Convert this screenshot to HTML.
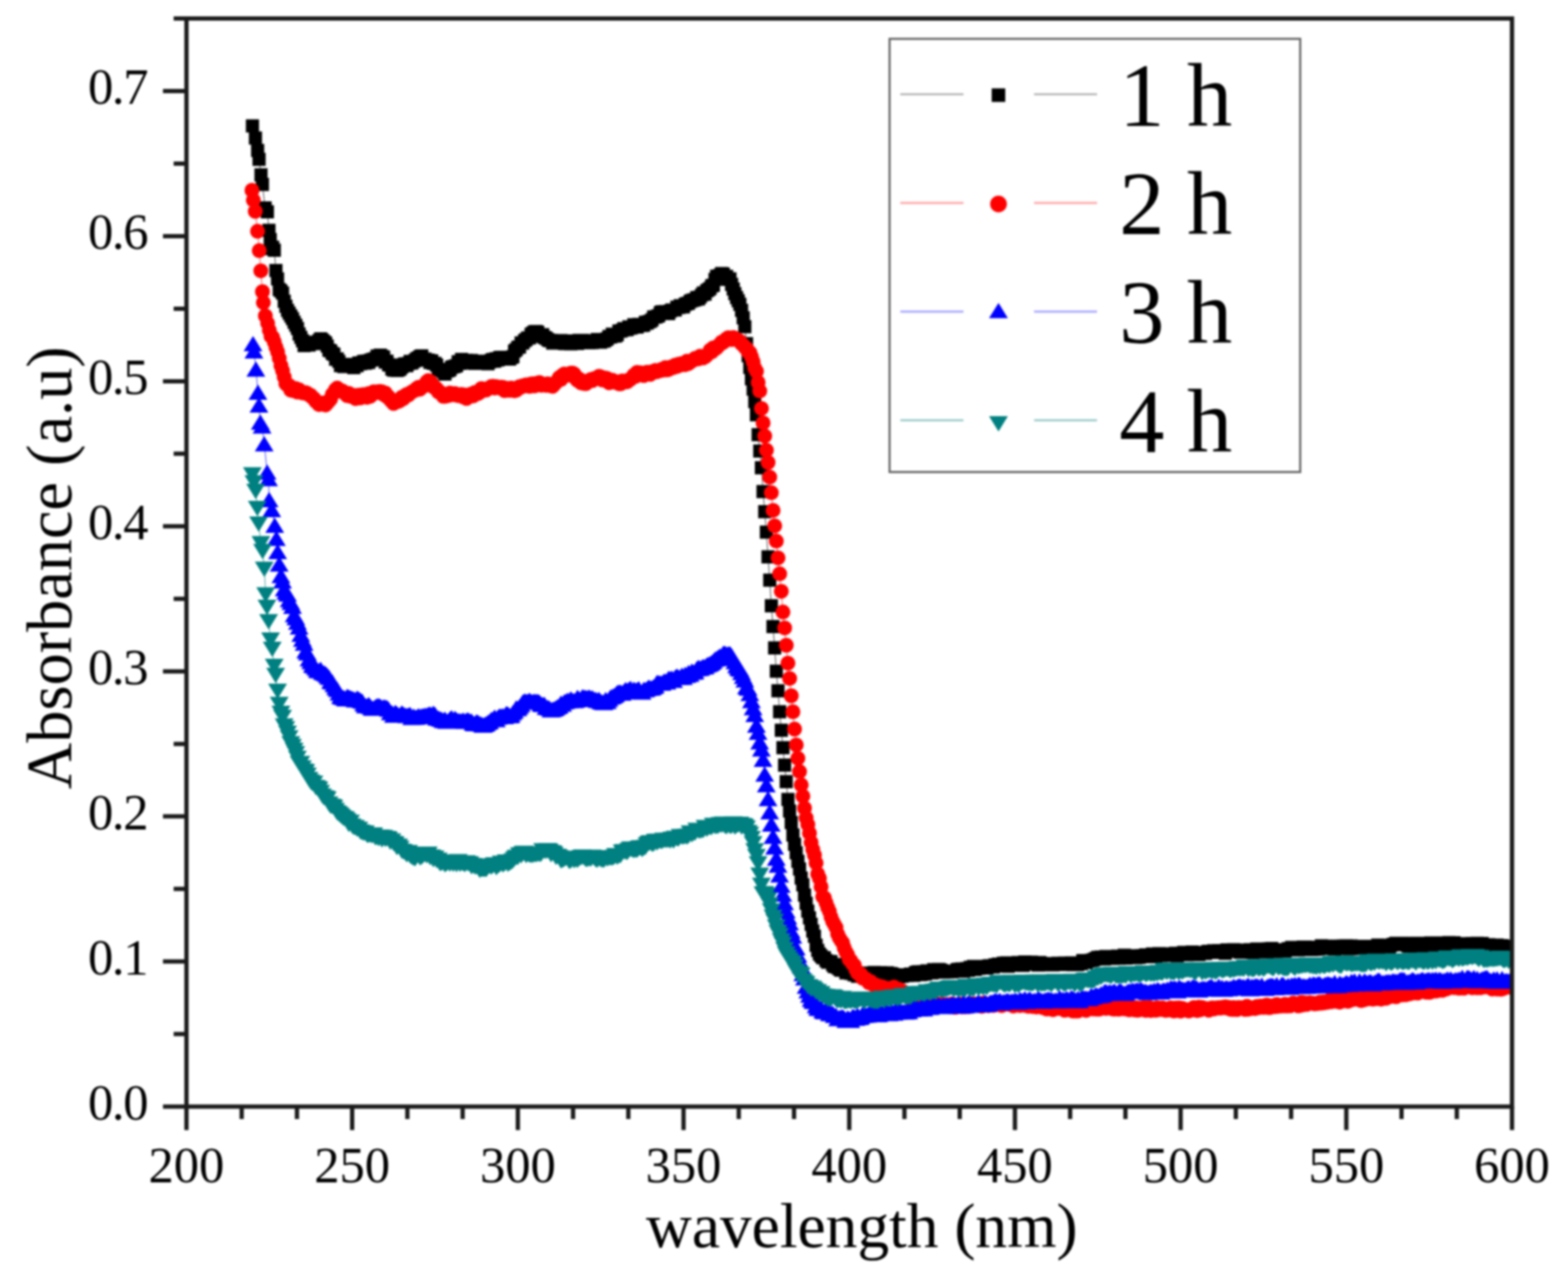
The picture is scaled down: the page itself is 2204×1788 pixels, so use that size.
<!DOCTYPE html>
<html><head><meta charset="utf-8"><style>html,body{margin:0;padding:0;background:#fff;overflow:hidden}svg{display:block;filter:blur(1.35px)}</style></head><body>
<svg width="2204" height="1788" viewBox="0 0 2204 1788">
<rect width="2204" height="1788" fill="#fff"/>
<defs><clipPath id="c"><rect x="262.1" y="26" width="1863.2000000000003" height="1529.5"/></clipPath></defs>
<g clip-path="url(#c)">
<path fill="none" stroke="#000" stroke-width="0.8" d="M354.8 177.1 359 194.1 362.2 211.6 364.1 224 366.8 245.7 368.9 259.2 372.6 292.4 375.8 297.9 378 323.8 379.8 336.6 381.5 349.5 383.2 347.5 385.5 351.7 387.9 380.3 390.2 392.1 392.5 406.9 394.9 409 397.2 412 399.5 423.4 401.8 430.6 404.2 436.3 406.5 440.3 408.8 444.2 411.2 448 413.5 453 415.8 457.3 418.1 461.7 420.5 469.5 422.8 474.1 425.1 478.9 427.5 485.8 429.8 482.3 432.1 482.3 434.4 485 436.8 482.5 439.1 482.2 441.4 482.9 443.8 481.1 446.1 481.7 448.4 478.6 450.7 476.4 453.1 478 455.4 480.1 457.7 482.3 460.1 486.5 462.4 492.3 464.7 493.2 467.1 496.9 469.4 498 471.7 505 474 504.5 476.4 507.9 478.7 513.9 481 513.2 483.4 515.1 485.7 514.4 488 515.1 490.3 512.1 492.7 514.6 495 514.7 497.3 516.8 499.7 513.7 502 514 504.3 510.4 506.6 511.1 509 509.9 511.3 508.1 513.6 510.5 516 507.4 518.3 509.5 520.6 506.6 522.9 505.7 525.3 504.9 527.6 504.1 529.9 500.6 532.3 501.1 534.6 499.1 536.9 501 539.3 502 541.6 509 543.9 507.8 546.2 512.6 548.6 513.4 550.9 518.8 553.2 520.3 555.6 518.2 557.9 520.6 560.2 520 562.5 518.6 564.9 515.7 567.2 512.4 569.5 511.5 571.9 514 574.2 511 576.5 508 578.8 510.3 581.2 507.9 583.5 506.4 585.8 504.3 588.2 503.3 590.5 501.3 592.8 500.2 595.1 505.6 597.5 504.7 599.8 506.3 602.1 506.3 604.5 509.6 606.8 507.2 609.1 510.7 611.5 510.8 613.8 513.1 616.1 519.2 618.4 519.4 620.8 520.1 623.1 522.4 625.4 525.8 627.8 521.4 630.1 521 632.4 519.7 634.7 516.4 637.1 515.5 639.4 515.1 641.7 514.1 644.1 508.6 646.4 510.8 648.7 505.2 651 509.2 653.4 509.7 655.7 506.5 658 508.2 660.4 510.4 662.7 506.6 665 509.9 667.3 510.9 669.7 509.5 672 510.5 674.3 508 676.7 507.9 679 508.7 681.3 507.8 683.6 508.6 686 511.3 688.3 508.5 690.6 506.4 693 505.1 695.3 507.6 697.6 504.2 700 505.9 702.3 502.7 704.6 502.2 706.9 504.2 709.3 503.6 711.6 502.9 713.9 502.3 716.3 504.7 718.6 502.6 720.9 501.5 723.2 493.5 725.6 491.6 727.9 488.3 730.2 487.9 732.6 481.9 734.9 482.2 737.2 479.1 739.5 477.4 741.9 475.1 744.2 475 746.5 469.9 748.9 468.4 751.2 466.6 753.5 466 755.8 467 758.2 471.8 760.5 472.8 762.8 470.5 765.2 474.4 767.5 475.1 769.8 477.1 772.2 478.8 774.5 478.4 776.8 482.1 779.1 479.9 781.5 480.9 783.8 481.2 786.1 479.2 788.5 478.8 790.8 480.8 793.1 482.8 795.4 483 797.8 482.4 800.1 479.2 802.4 483.1 804.8 482.5 807.1 482.7 809.4 480.8 811.7 482.7 814.1 478.4 816.4 478.5 818.7 478.5 821.1 479.8 823.4 479.9 825.7 479.7 828 481.7 830.4 479.2 832.7 481.6 835 479 837.4 481.1 839.7 477.3 842 478.3 844.4 481 846.7 478.6 849 479.5 851.3 477.7 853.7 476.3 856 473 858.3 473.7 860.7 469.9 863 472.5 865.3 472.2 867.6 470.5 870 465.3 872.3 465.5 874.6 464.3 877 462.1 879.3 463.5 881.6 463.2 883.9 459.6 886.3 461.2 888.6 460.3 890.9 456.6 893.3 459.4 895.6 459.7 897.9 455.9 900.2 457.4 902.6 457.4 904.9 456.9 907.2 453 909.6 454.1 911.9 452.2 914.2 451.4 916.5 449.6 918.9 445.4 921.2 445.6 923.5 444.6 925.9 443.8 928.2 439.5 930.5 438.3 932.9 440.9 935.2 438.1 937.5 439.3 939.8 440.6 942.2 437.2 944.5 435.7 946.8 435.7 949.2 435.6 951.5 431.8 953.8 432.1 956.1 429.9 958.5 431.5 960.8 431.3 963.1 427.9 965.5 426.7 967.8 426.3 970.1 423.5 972.4 422.5 974.8 421.8 977.1 421.2 979.4 418.2 981.8 420.1 984.1 417.6 986.4 414.6 988.7 411.8 991.1 413.6 993.4 408.8 995.7 407.2 998.1 405.5 1000.4 401.7 1002.7 400.9 1005.1 392.9 1007.4 388.2 1009.7 388.5 1012 387 1014.4 384.5 1016.7 385.4 1019 388.7 1021.4 388.5 1023.7 392.6 1026 392 1028.3 399.7 1030.7 406.2 1033 412.7 1035.3 418.2 1037.7 422.9 1040 427.6 1042.3 436.1 1044.6 446.8 1047 459.3 1049.3 482.9 1051.6 500 1054 516.6 1056.3 532.6 1058.6 546.9 1060.9 564.5 1063.3 583 1065.6 611 1067.9 634 1070.3 657.5 1072.6 691 1074.9 719.4 1077.2 748 1079.6 782.8 1081.9 815.5 1084.2 851.5 1086.6 880.8 1088.9 910.7 1091.2 943.5 1093.6 971 1095.9 1000.5 1098.2 1026.6 1100.5 1051 1102.9 1075.5 1105.2 1098.7 1107.5 1123.7 1109.9 1140 1112.2 1156.3 1114.5 1173.7 1116.8 1186.7 1119.2 1198.7 1121.5 1210.9 1123.8 1221.4 1126.2 1234.3 1128.5 1243.7 1130.8 1258.3 1133.1 1269.6 1135.5 1280.8 1137.8 1290.1 1140.1 1299.1 1142.5 1308.6 1144.8 1315.9 1147.1 1328.8 1149.4 1336 1151.8 1341.1 1154.1 1343.6 1156.4 1346.2 1158.8 1346.3 1161.1 1350.3 1163.4 1352.5 1165.8 1351.5 1168.1 1351.6 1170.4 1356.1 1172.7 1358.7 1175.1 1355.8 1177.4 1360 1179.7 1362 1182.1 1363.6 1184.4 1360.8 1186.7 1361.8 1189 1367.5 1191.4 1364.3 1193.7 1365.7 1196 1368.4 1198.4 1368.3 1200.7 1370.4 1203 1368.1 1205.3 1372.3 1207.7 1369.4 1210 1372.2 1212.3 1368.5 1214.7 1370.3 1217 1367.9 1219.3 1369.1 1221.6 1368.9 1224 1370.7 1226.3 1369.1 1228.6 1366.9 1231 1371.4 1233.3 1370.6 1235.6 1370.5 1238 1367.1 1240.3 1368.2 1242.6 1367.7 1244.9 1367.6 1247.3 1367.4 1249.6 1370.1 1251.9 1368.6 1254.3 1369.2 1256.6 1373 1258.9 1371.4 1261.2 1370.3 1263.6 1373.1 1265.9 1371.4 1268.2 1372.3 1270.6 1370.6 1272.9 1371.3 1275.2 1371.4 1277.5 1370.5 1279.9 1369.3 1282.2 1370.9 1284.5 1370.9 1286.9 1367.1 1289.2 1366.5 1291.5 1366.1 1293.8 1370 1296.2 1369.5 1298.5 1365.6 1300.8 1369 1303.2 1364.8 1305.5 1366 1307.8 1365.6 1310.2 1367.4 1312.5 1362.9 1314.8 1364.2 1317.1 1365.5 1319.5 1362.7 1321.8 1363.5 1324.1 1364.5 1326.5 1366.5 1328.8 1365.9 1331.1 1366.1 1333.4 1365.7 1335.8 1365.4 1338.1 1366.1 1340.4 1365.2 1342.8 1365.4 1345.1 1363.1 1347.4 1362.4 1349.7 1365.3 1352.1 1361.9 1354.4 1365.3 1356.7 1363.2 1359.1 1361.4 1361.4 1364 1363.7 1359.7 1366 1361 1368.4 1358.5 1370.7 1362.7 1373 1360.4 1375.4 1361.3 1377.7 1358.5 1380 1360.8 1382.3 1360 1384.7 1359.5 1387 1360.8 1389.3 1357.9 1391.7 1357.6 1394 1358.7 1396.3 1359.1 1398.7 1356.4 1401 1357.8 1403.3 1355.2 1405.6 1356.7 1408 1357.7 1410.3 1354 1412.6 1357.2 1415 1353.6 1417.3 1358.2 1419.6 1355.6 1421.9 1355.2 1424.3 1356.6 1426.6 1355.5 1428.9 1356.4 1431.3 1353.1 1433.6 1355.3 1435.9 1355.2 1438.2 1357 1440.6 1352.4 1442.9 1354.4 1445.2 1355.3 1447.6 1354.9 1449.9 1352.5 1452.2 1355.1 1454.5 1353.2 1456.9 1353.1 1459.2 1356.5 1461.5 1353.1 1463.9 1354.4 1466.2 1355.9 1468.5 1355.6 1470.9 1354.9 1473.2 1356.1 1475.5 1354.4 1477.8 1355.2 1480.2 1356.2 1482.5 1355.5 1484.8 1355.3 1487.2 1354 1489.5 1354.8 1491.8 1353.9 1494.1 1355.7 1496.5 1353.8 1498.8 1354.2 1501.1 1355.6 1503.5 1354.4 1505.8 1353.5 1508.1 1355.9 1510.4 1353.7 1512.8 1356 1515.1 1355.6 1517.4 1353.8 1519.8 1354.4 1522.1 1350.3 1524.4 1351.4 1526.7 1353.1 1529.1 1351 1531.4 1350.1 1533.7 1350 1536.1 1349.4 1538.4 1348.5 1540.7 1347.3 1543.1 1345.7 1545.4 1345.8 1547.7 1345.4 1550 1345.6 1552.4 1348 1554.7 1344.5 1557 1344.9 1559.4 1344.5 1561.7 1345.5 1564 1347.4 1566.3 1347 1568.7 1344.5 1571 1343.9 1573.3 1347 1575.7 1345 1578 1345.9 1580.3 1342.9 1582.6 1346.8 1585 1344 1587.3 1344.9 1589.6 1343.4 1592 1344.5 1594.3 1346.4 1596.6 1346.2 1598.9 1344.3 1601.3 1345.6 1603.6 1344 1605.9 1343.4 1608.3 1344.1 1610.6 1342.2 1612.9 1342.7 1615.2 1344.5 1617.6 1344.7 1619.9 1340.9 1622.2 1344.2 1624.6 1344.5 1626.9 1342.5 1629.2 1340.4 1631.6 1343.4 1633.9 1341.1 1636.2 1343 1638.5 1341.5 1640.9 1342.7 1643.2 1340.7 1645.5 1341.6 1647.9 1341.8 1650.2 1342.2 1652.5 1339.9 1654.8 1343.6 1657.2 1340.1 1659.5 1340.1 1661.8 1339.7 1664.2 1338.7 1666.5 1340.3 1668.8 1341.9 1671.1 1341.4 1673.5 1338.7 1675.8 1338.3 1678.1 1339.1 1680.5 1341.1 1682.8 1339.6 1685.1 1341.6 1687.4 1340.1 1689.8 1339.8 1692.1 1340.4 1694.4 1340.2 1696.8 1338 1699.1 1337.4 1701.4 1338.1 1703.8 1338.2 1706.1 1336.4 1708.4 1337.9 1710.7 1338.8 1713.1 1336.2 1715.4 1336.1 1717.7 1336.2 1720.1 1336.7 1722.4 1340 1724.7 1335.3 1727 1336 1729.4 1335.9 1731.7 1337.3 1734 1335 1736.4 1337.1 1738.7 1335.6 1741 1336 1743.3 1338.6 1745.7 1335.4 1748 1337.5 1750.3 1336.4 1752.7 1336.4 1755 1338.3 1757.3 1334.9 1759.6 1338.6 1762 1338.4 1764.3 1337.2 1766.6 1334 1769 1337 1771.3 1336.6 1773.6 1337.4 1776 1334.5 1778.3 1338.1 1780.6 1337.7 1782.9 1333.7 1785.3 1334.6 1787.6 1333.1 1789.9 1337 1792.3 1337.3 1794.6 1337.5 1796.9 1335.5 1799.2 1335.7 1801.6 1335.6 1803.9 1335 1806.2 1336.8 1808.6 1334.9 1810.9 1333.5 1813.2 1334.2 1815.5 1331.6 1817.9 1335.1 1820.2 1334.8 1822.5 1333.3 1824.9 1335.3 1827.2 1334.7 1829.5 1332.5 1831.8 1331.1 1834.2 1331.3 1836.5 1331.4 1838.8 1331.9 1841.2 1332.5 1843.5 1334.8 1845.8 1331.4 1848.1 1334.4 1850.5 1333.2 1852.8 1334 1855.1 1331.6 1857.5 1329.5 1859.8 1333.3 1862.1 1330.5 1864.5 1330 1866.8 1333.3 1869.1 1332.7 1871.4 1330.4 1873.8 1330.6 1876.1 1334 1878.4 1330.6 1880.8 1332.8 1883.1 1329.9 1885.4 1333.4 1887.7 1329.9 1890.1 1331.9 1892.4 1329.5 1894.7 1332.1 1897.1 1333.5 1899.4 1329.7 1901.7 1330.7 1904 1333 1906.4 1332.2 1908.7 1330.7 1911 1332.2 1913.4 1331.3 1915.7 1333.2 1918 1330.3 1920.3 1332.6 1922.7 1331.9 1925 1332.4 1927.3 1330.5 1929.7 1332.2 1932 1332 1934.3 1330.4 1936.7 1328.5 1939 1333.2 1941.3 1331.8 1943.6 1329 1946 1331.3 1948.3 1328.8 1950.6 1329.4 1953 1331.1 1955.3 1328.7 1957.6 1327.6 1959.9 1327.4 1962.3 1326.1 1964.6 1326.8 1966.9 1327.1 1969.3 1326.6 1971.6 1326 1973.9 1328 1976.2 1326.8 1978.6 1329.4 1980.9 1330.3 1983.2 1327.1 1985.6 1328.6 1987.9 1328.2 1990.2 1326.1 1992.5 1326.3 1994.9 1330.1 1997.2 1328.1 1999.5 1329.7 2001.9 1326 2004.2 1328.6 2006.5 1329.9 2008.9 1329.9 2011.2 1325.5 2013.5 1328 2015.8 1327.2 2018.2 1329.1 2020.5 1325.6 2022.8 1326.5 2025.2 1329.2 2027.5 1327.4 2029.8 1327.3 2032.1 1329.8 2034.5 1326.5 2036.8 1325 2039.1 1326.7 2041.5 1325.5 2043.8 1325.1 2046.1 1327.6 2048.4 1329.6 2050.8 1327.7 2053.1 1328.1 2055.4 1326.5 2057.8 1327.8 2060.1 1328.7 2062.4 1328 2064.7 1329.1 2067.1 1327.8 2069.4 1326.1 2071.7 1328.1 2074.1 1327.6 2076.4 1326 2078.7 1328.3 2081 1329.4 2083.4 1326.2 2085.7 1328.5 2088 1329.7 2090.4 1328.3 2092.7 1328 2095 1328.8 2097.4 1329.9 2099.7 1330.9 2102 1330.5 2104.3 1328.5 2106.7 1332.4 2109 1333.2 2111.3 1329.4 2113.7 1330.4 2116 1330.3 2118.3 1333.9 2120.6 1334.5 2123 1330.5 2125.3 1332.2"/>
<path fill="#000" d="M345.6 167.8h18.5v18.5h-18.5zM349.8 184.8h18.5v18.5h-18.5zM352.9 202.3h18.5v18.5h-18.5zM354.9 214.8h18.5v18.5h-18.5zM357.6 236.4h18.5v18.5h-18.5zM359.6 249.9h18.5v18.5h-18.5zM363.4 283.1h18.5v18.5h-18.5zM366.6 288.6h18.5v18.5h-18.5zM368.8 314.6h18.5v18.5h-18.5zM370.6 327.4h18.5v18.5h-18.5zM372.2 340.2h18.5v18.5h-18.5zM374 338.3h18.5v18.5h-18.5zM376.3 342.4h18.5v18.5h-18.5zM378.6 371.1h18.5v18.5h-18.5zM380.9 382.8h18.5v18.5h-18.5zM383.3 397.7h18.5v18.5h-18.5zM385.6 399.8h18.5v18.5h-18.5zM387.9 402.8h18.5v18.5h-18.5zM390.3 414.2h18.5v18.5h-18.5zM392.6 421.3h18.5v18.5h-18.5zM394.9 427h18.5v18.5h-18.5zM397.2 431.1h18.5v18.5h-18.5zM399.6 434.9h18.5v18.5h-18.5zM401.9 438.8h18.5v18.5h-18.5zM404.2 443.7h18.5v18.5h-18.5zM406.6 448h18.5v18.5h-18.5zM408.9 452.4h18.5v18.5h-18.5zM411.2 460.3h18.5v18.5h-18.5zM413.6 464.9h18.5v18.5h-18.5zM415.9 469.7h18.5v18.5h-18.5zM418.2 476.5h18.5v18.5h-18.5zM420.5 473h18.5v18.5h-18.5zM422.9 473.1h18.5v18.5h-18.5zM425.2 475.7h18.5v18.5h-18.5zM427.5 473.2h18.5v18.5h-18.5zM429.9 472.9h18.5v18.5h-18.5zM432.2 473.7h18.5v18.5h-18.5zM434.5 471.8h18.5v18.5h-18.5zM436.8 472.4h18.5v18.5h-18.5zM439.2 469.4h18.5v18.5h-18.5zM441.5 467.1h18.5v18.5h-18.5zM443.8 468.8h18.5v18.5h-18.5zM446.2 470.9h18.5v18.5h-18.5zM448.5 473h18.5v18.5h-18.5zM450.8 477.2h18.5v18.5h-18.5zM453.1 483.1h18.5v18.5h-18.5zM455.5 483.9h18.5v18.5h-18.5zM457.8 487.6h18.5v18.5h-18.5zM460.1 488.7h18.5v18.5h-18.5zM462.5 495.7h18.5v18.5h-18.5zM464.8 495.2h18.5v18.5h-18.5zM467.1 498.7h18.5v18.5h-18.5zM469.4 504.7h18.5v18.5h-18.5zM471.8 504h18.5v18.5h-18.5zM474.1 505.9h18.5v18.5h-18.5zM476.4 505.1h18.5v18.5h-18.5zM478.8 505.9h18.5v18.5h-18.5zM481.1 502.9h18.5v18.5h-18.5zM483.4 505.4h18.5v18.5h-18.5zM485.8 505.4h18.5v18.5h-18.5zM488.1 507.5h18.5v18.5h-18.5zM490.4 504.5h18.5v18.5h-18.5zM492.7 504.8h18.5v18.5h-18.5zM495.1 501.1h18.5v18.5h-18.5zM497.4 501.9h18.5v18.5h-18.5zM499.7 500.6h18.5v18.5h-18.5zM502.1 498.8h18.5v18.5h-18.5zM504.4 501.3h18.5v18.5h-18.5zM506.7 498.2h18.5v18.5h-18.5zM509 500.2h18.5v18.5h-18.5zM511.4 497.3h18.5v18.5h-18.5zM513.7 496.4h18.5v18.5h-18.5zM516 495.7h18.5v18.5h-18.5zM518.4 494.9h18.5v18.5h-18.5zM520.7 491.3h18.5v18.5h-18.5zM523 491.8h18.5v18.5h-18.5zM525.3 489.9h18.5v18.5h-18.5zM527.7 491.7h18.5v18.5h-18.5zM530 492.8h18.5v18.5h-18.5zM532.3 499.7h18.5v18.5h-18.5zM534.7 498.5h18.5v18.5h-18.5zM537 503.4h18.5v18.5h-18.5zM539.3 504.1h18.5v18.5h-18.5zM541.6 509.6h18.5v18.5h-18.5zM544 511.1h18.5v18.5h-18.5zM546.3 509h18.5v18.5h-18.5zM548.6 511.4h18.5v18.5h-18.5zM551 510.7h18.5v18.5h-18.5zM553.3 509.3h18.5v18.5h-18.5zM555.6 506.5h18.5v18.5h-18.5zM557.9 503.2h18.5v18.5h-18.5zM560.3 502.3h18.5v18.5h-18.5zM562.6 504.8h18.5v18.5h-18.5zM564.9 501.7h18.5v18.5h-18.5zM567.3 498.7h18.5v18.5h-18.5zM569.6 501.1h18.5v18.5h-18.5zM571.9 498.7h18.5v18.5h-18.5zM574.3 497.2h18.5v18.5h-18.5zM576.6 495.1h18.5v18.5h-18.5zM578.9 494.1h18.5v18.5h-18.5zM581.2 492h18.5v18.5h-18.5zM583.6 491h18.5v18.5h-18.5zM585.9 496.3h18.5v18.5h-18.5zM588.2 495.5h18.5v18.5h-18.5zM590.6 497h18.5v18.5h-18.5zM592.9 497h18.5v18.5h-18.5zM595.2 500.3h18.5v18.5h-18.5zM597.5 497.9h18.5v18.5h-18.5zM599.9 501.5h18.5v18.5h-18.5zM602.2 501.6h18.5v18.5h-18.5zM604.5 503.9h18.5v18.5h-18.5zM606.9 509.9h18.5v18.5h-18.5zM609.2 510.2h18.5v18.5h-18.5zM611.5 510.9h18.5v18.5h-18.5zM613.8 513.1h18.5v18.5h-18.5zM616.2 516.5h18.5v18.5h-18.5zM618.5 512.2h18.5v18.5h-18.5zM620.8 511.7h18.5v18.5h-18.5zM623.2 510.5h18.5v18.5h-18.5zM625.5 507.1h18.5v18.5h-18.5zM627.8 506.3h18.5v18.5h-18.5zM630.1 505.8h18.5v18.5h-18.5zM632.5 504.8h18.5v18.5h-18.5zM634.8 499.3h18.5v18.5h-18.5zM637.1 501.5h18.5v18.5h-18.5zM639.5 496h18.5v18.5h-18.5zM641.8 499.9h18.5v18.5h-18.5zM644.1 500.4h18.5v18.5h-18.5zM646.5 497.3h18.5v18.5h-18.5zM648.8 498.9h18.5v18.5h-18.5zM651.1 501.1h18.5v18.5h-18.5zM653.4 497.4h18.5v18.5h-18.5zM655.8 500.7h18.5v18.5h-18.5zM658.1 501.6h18.5v18.5h-18.5zM660.4 500.2h18.5v18.5h-18.5zM662.8 501.3h18.5v18.5h-18.5zM665.1 498.8h18.5v18.5h-18.5zM667.4 498.6h18.5v18.5h-18.5zM669.7 499.5h18.5v18.5h-18.5zM672.1 498.5h18.5v18.5h-18.5zM674.4 499.4h18.5v18.5h-18.5zM676.7 502h18.5v18.5h-18.5zM679.1 499.2h18.5v18.5h-18.5zM681.4 497.2h18.5v18.5h-18.5zM683.7 495.9h18.5v18.5h-18.5zM686 498.4h18.5v18.5h-18.5zM688.4 494.9h18.5v18.5h-18.5zM690.7 496.7h18.5v18.5h-18.5zM693 493.4h18.5v18.5h-18.5zM695.4 492.9h18.5v18.5h-18.5zM697.7 494.9h18.5v18.5h-18.5zM700 494.3h18.5v18.5h-18.5zM702.3 493.7h18.5v18.5h-18.5zM704.7 493.1h18.5v18.5h-18.5zM707 495.5h18.5v18.5h-18.5zM709.3 493.3h18.5v18.5h-18.5zM711.7 492.3h18.5v18.5h-18.5zM714 484.3h18.5v18.5h-18.5zM716.3 482.3h18.5v18.5h-18.5zM718.7 479h18.5v18.5h-18.5zM721 478.6h18.5v18.5h-18.5zM723.3 472.7h18.5v18.5h-18.5zM725.6 473h18.5v18.5h-18.5zM728 469.8h18.5v18.5h-18.5zM730.3 468.1h18.5v18.5h-18.5zM732.6 465.8h18.5v18.5h-18.5zM735 465.7h18.5v18.5h-18.5zM737.3 460.7h18.5v18.5h-18.5zM739.6 459.1h18.5v18.5h-18.5zM741.9 457.3h18.5v18.5h-18.5zM744.3 456.7h18.5v18.5h-18.5zM746.6 457.7h18.5v18.5h-18.5zM748.9 462.5h18.5v18.5h-18.5zM751.3 463.5h18.5v18.5h-18.5zM753.6 461.3h18.5v18.5h-18.5zM755.9 465.1h18.5v18.5h-18.5zM758.2 465.9h18.5v18.5h-18.5zM760.6 467.9h18.5v18.5h-18.5zM762.9 469.6h18.5v18.5h-18.5zM765.2 469.2h18.5v18.5h-18.5zM767.6 472.9h18.5v18.5h-18.5zM769.9 470.6h18.5v18.5h-18.5zM772.2 471.7h18.5v18.5h-18.5zM774.5 471.9h18.5v18.5h-18.5zM776.9 469.9h18.5v18.5h-18.5zM779.2 469.5h18.5v18.5h-18.5zM781.5 471.5h18.5v18.5h-18.5zM783.9 473.5h18.5v18.5h-18.5zM786.2 473.7h18.5v18.5h-18.5zM788.5 473.2h18.5v18.5h-18.5zM790.8 470h18.5v18.5h-18.5zM793.2 473.9h18.5v18.5h-18.5zM795.5 473.2h18.5v18.5h-18.5zM797.8 473.5h18.5v18.5h-18.5zM800.2 471.6h18.5v18.5h-18.5zM802.5 473.4h18.5v18.5h-18.5zM804.8 469.2h18.5v18.5h-18.5zM807.2 469.2h18.5v18.5h-18.5zM809.5 469.3h18.5v18.5h-18.5zM811.8 470.5h18.5v18.5h-18.5zM814.1 470.6h18.5v18.5h-18.5zM816.5 470.4h18.5v18.5h-18.5zM818.8 472.5h18.5v18.5h-18.5zM821.1 469.9h18.5v18.5h-18.5zM823.5 472.3h18.5v18.5h-18.5zM825.8 469.7h18.5v18.5h-18.5zM828.1 471.8h18.5v18.5h-18.5zM830.4 468.1h18.5v18.5h-18.5zM832.8 469.1h18.5v18.5h-18.5zM835.1 471.8h18.5v18.5h-18.5zM837.4 469.3h18.5v18.5h-18.5zM839.8 470.2h18.5v18.5h-18.5zM842.1 468.4h18.5v18.5h-18.5zM844.4 467h18.5v18.5h-18.5zM846.7 463.7h18.5v18.5h-18.5zM849.1 464.5h18.5v18.5h-18.5zM851.4 460.6h18.5v18.5h-18.5zM853.7 463.3h18.5v18.5h-18.5zM856.1 462.9h18.5v18.5h-18.5zM858.4 461.2h18.5v18.5h-18.5zM860.7 456h18.5v18.5h-18.5zM863 456.3h18.5v18.5h-18.5zM865.4 455h18.5v18.5h-18.5zM867.7 452.8h18.5v18.5h-18.5zM870 454.2h18.5v18.5h-18.5zM872.4 453.9h18.5v18.5h-18.5zM874.7 450.3h18.5v18.5h-18.5zM877 451.9h18.5v18.5h-18.5zM879.4 451h18.5v18.5h-18.5zM881.7 447.3h18.5v18.5h-18.5zM884 450.2h18.5v18.5h-18.5zM886.3 450.4h18.5v18.5h-18.5zM888.7 446.7h18.5v18.5h-18.5zM891 448.2h18.5v18.5h-18.5zM893.3 448.2h18.5v18.5h-18.5zM895.7 447.7h18.5v18.5h-18.5zM898 443.8h18.5v18.5h-18.5zM900.3 444.9h18.5v18.5h-18.5zM902.6 443h18.5v18.5h-18.5zM905 442.2h18.5v18.5h-18.5zM907.3 440.3h18.5v18.5h-18.5zM909.6 436.2h18.5v18.5h-18.5zM912 436.4h18.5v18.5h-18.5zM914.3 435.4h18.5v18.5h-18.5zM916.6 434.5h18.5v18.5h-18.5zM918.9 430.3h18.5v18.5h-18.5zM921.3 429.1h18.5v18.5h-18.5zM923.6 431.6h18.5v18.5h-18.5zM925.9 428.8h18.5v18.5h-18.5zM928.3 430h18.5v18.5h-18.5zM930.6 431.4h18.5v18.5h-18.5zM932.9 428h18.5v18.5h-18.5zM935.2 426.4h18.5v18.5h-18.5zM937.6 426.4h18.5v18.5h-18.5zM939.9 426.4h18.5v18.5h-18.5zM942.2 422.5h18.5v18.5h-18.5zM944.6 422.9h18.5v18.5h-18.5zM946.9 420.6h18.5v18.5h-18.5zM949.2 422.2h18.5v18.5h-18.5zM951.6 422h18.5v18.5h-18.5zM953.9 418.6h18.5v18.5h-18.5zM956.2 417.4h18.5v18.5h-18.5zM958.5 417.1h18.5v18.5h-18.5zM960.9 414.3h18.5v18.5h-18.5zM963.2 413.3h18.5v18.5h-18.5zM965.5 412.5h18.5v18.5h-18.5zM967.9 412h18.5v18.5h-18.5zM970.2 408.9h18.5v18.5h-18.5zM972.5 410.9h18.5v18.5h-18.5zM974.8 408.3h18.5v18.5h-18.5zM977.2 405.3h18.5v18.5h-18.5zM979.5 402.6h18.5v18.5h-18.5zM981.8 404.3h18.5v18.5h-18.5zM984.2 399.5h18.5v18.5h-18.5zM986.5 397.9h18.5v18.5h-18.5zM988.8 396.3h18.5v18.5h-18.5zM991.1 392.4h18.5v18.5h-18.5zM993.5 391.7h18.5v18.5h-18.5zM995.8 383.6h18.5v18.5h-18.5zM998.1 378.9h18.5v18.5h-18.5zM1000.5 379.2h18.5v18.5h-18.5zM1002.8 377.8h18.5v18.5h-18.5zM1005.1 375.2h18.5v18.5h-18.5zM1007.4 376.1h18.5v18.5h-18.5zM1009.8 379.4h18.5v18.5h-18.5zM1012.1 379.3h18.5v18.5h-18.5zM1014.4 383.4h18.5v18.5h-18.5zM1016.8 382.7h18.5v18.5h-18.5zM1019.1 390.5h18.5v18.5h-18.5zM1021.4 397h18.5v18.5h-18.5zM1023.7 403.4h18.5v18.5h-18.5zM1026.1 408.9h18.5v18.5h-18.5zM1028.4 413.6h18.5v18.5h-18.5zM1030.7 418.4h18.5v18.5h-18.5zM1033.1 426.9h18.5v18.5h-18.5zM1035.4 437.6h18.5v18.5h-18.5zM1037.7 450.1h18.5v18.5h-18.5zM1040.1 473.7h18.5v18.5h-18.5zM1042.4 490.7h18.5v18.5h-18.5zM1044.7 507.3h18.5v18.5h-18.5zM1047 523.3h18.5v18.5h-18.5zM1049.4 537.7h18.5v18.5h-18.5zM1051.7 555.2h18.5v18.5h-18.5zM1054 573.8h18.5v18.5h-18.5zM1056.4 601.8h18.5v18.5h-18.5zM1058.7 624.8h18.5v18.5h-18.5zM1061 648.2h18.5v18.5h-18.5zM1063.3 681.8h18.5v18.5h-18.5zM1065.7 710.1h18.5v18.5h-18.5zM1068 738.8h18.5v18.5h-18.5zM1070.3 773.5h18.5v18.5h-18.5zM1072.7 806.2h18.5v18.5h-18.5zM1075 842.2h18.5v18.5h-18.5zM1077.3 871.5h18.5v18.5h-18.5zM1079.6 901.5h18.5v18.5h-18.5zM1082 934.2h18.5v18.5h-18.5zM1084.3 961.8h18.5v18.5h-18.5zM1086.6 991.2h18.5v18.5h-18.5zM1089 1017.3h18.5v18.5h-18.5zM1091.3 1041.8h18.5v18.5h-18.5zM1093.6 1066.2h18.5v18.5h-18.5zM1095.9 1089.5h18.5v18.5h-18.5zM1098.3 1114.5h18.5v18.5h-18.5zM1100.6 1130.7h18.5v18.5h-18.5zM1102.9 1147.1h18.5v18.5h-18.5zM1105.3 1164.4h18.5v18.5h-18.5zM1107.6 1177.5h18.5v18.5h-18.5zM1109.9 1189.5h18.5v18.5h-18.5zM1112.3 1201.6h18.5v18.5h-18.5zM1114.6 1212.2h18.5v18.5h-18.5zM1116.9 1225.1h18.5v18.5h-18.5zM1119.2 1234.5h18.5v18.5h-18.5zM1121.6 1249h18.5v18.5h-18.5zM1123.9 1260.4h18.5v18.5h-18.5zM1126.2 1271.5h18.5v18.5h-18.5zM1128.6 1280.9h18.5v18.5h-18.5zM1130.9 1289.9h18.5v18.5h-18.5zM1133.2 1299.4h18.5v18.5h-18.5zM1135.5 1306.7h18.5v18.5h-18.5zM1137.9 1319.5h18.5v18.5h-18.5zM1140.2 1326.8h18.5v18.5h-18.5zM1142.5 1331.8h18.5v18.5h-18.5zM1144.9 1334.4h18.5v18.5h-18.5zM1147.2 1337h18.5v18.5h-18.5zM1149.5 1337h18.5v18.5h-18.5zM1151.8 1341h18.5v18.5h-18.5zM1154.2 1343.2h18.5v18.5h-18.5zM1156.5 1342.2h18.5v18.5h-18.5zM1158.8 1342.4h18.5v18.5h-18.5zM1161.2 1346.9h18.5v18.5h-18.5zM1163.5 1349.4h18.5v18.5h-18.5zM1165.8 1346.6h18.5v18.5h-18.5zM1168.1 1350.8h18.5v18.5h-18.5zM1170.5 1352.7h18.5v18.5h-18.5zM1172.8 1354.4h18.5v18.5h-18.5zM1175.1 1351.6h18.5v18.5h-18.5zM1177.5 1352.6h18.5v18.5h-18.5zM1179.8 1358.2h18.5v18.5h-18.5zM1182.1 1355h18.5v18.5h-18.5zM1184.5 1356.5h18.5v18.5h-18.5zM1186.8 1359.1h18.5v18.5h-18.5zM1189.1 1359h18.5v18.5h-18.5zM1191.4 1361.1h18.5v18.5h-18.5zM1193.8 1358.9h18.5v18.5h-18.5zM1196.1 1363.1h18.5v18.5h-18.5zM1198.4 1360.2h18.5v18.5h-18.5zM1200.8 1363h18.5v18.5h-18.5zM1203.1 1359.2h18.5v18.5h-18.5zM1205.4 1361.1h18.5v18.5h-18.5zM1207.7 1358.6h18.5v18.5h-18.5zM1210.1 1359.8h18.5v18.5h-18.5zM1212.4 1359.6h18.5v18.5h-18.5zM1214.7 1361.4h18.5v18.5h-18.5zM1217.1 1359.9h18.5v18.5h-18.5zM1219.4 1357.7h18.5v18.5h-18.5zM1221.7 1362.1h18.5v18.5h-18.5zM1224 1361.4h18.5v18.5h-18.5zM1226.4 1361.3h18.5v18.5h-18.5zM1228.7 1357.9h18.5v18.5h-18.5zM1231 1359h18.5v18.5h-18.5zM1233.4 1358.5h18.5v18.5h-18.5zM1235.7 1358.3h18.5v18.5h-18.5zM1238 1358.2h18.5v18.5h-18.5zM1240.3 1360.9h18.5v18.5h-18.5zM1242.7 1359.3h18.5v18.5h-18.5zM1245 1359.9h18.5v18.5h-18.5zM1247.3 1363.7h18.5v18.5h-18.5zM1249.7 1362.2h18.5v18.5h-18.5zM1252 1361h18.5v18.5h-18.5zM1254.3 1363.8h18.5v18.5h-18.5zM1256.6 1362.2h18.5v18.5h-18.5zM1259 1363h18.5v18.5h-18.5zM1261.3 1361.3h18.5v18.5h-18.5zM1263.6 1362h18.5v18.5h-18.5zM1266 1362.1h18.5v18.5h-18.5zM1268.3 1361.2h18.5v18.5h-18.5zM1270.6 1360h18.5v18.5h-18.5zM1273 1361.6h18.5v18.5h-18.5zM1275.3 1361.7h18.5v18.5h-18.5zM1277.6 1357.9h18.5v18.5h-18.5zM1279.9 1357.3h18.5v18.5h-18.5zM1282.3 1356.8h18.5v18.5h-18.5zM1284.6 1360.8h18.5v18.5h-18.5zM1286.9 1360.3h18.5v18.5h-18.5zM1289.3 1356.4h18.5v18.5h-18.5zM1291.6 1359.7h18.5v18.5h-18.5zM1293.9 1355.6h18.5v18.5h-18.5zM1296.2 1356.7h18.5v18.5h-18.5zM1298.6 1356.4h18.5v18.5h-18.5zM1300.9 1358.2h18.5v18.5h-18.5zM1303.2 1353.7h18.5v18.5h-18.5zM1305.6 1355h18.5v18.5h-18.5zM1307.9 1356.3h18.5v18.5h-18.5zM1310.2 1353.5h18.5v18.5h-18.5zM1312.5 1354.2h18.5v18.5h-18.5zM1314.9 1355.3h18.5v18.5h-18.5zM1317.2 1357.3h18.5v18.5h-18.5zM1319.5 1356.6h18.5v18.5h-18.5zM1321.9 1356.9h18.5v18.5h-18.5zM1324.2 1356.5h18.5v18.5h-18.5zM1326.5 1356.2h18.5v18.5h-18.5zM1328.8 1356.8h18.5v18.5h-18.5zM1331.2 1355.9h18.5v18.5h-18.5zM1333.5 1356.1h18.5v18.5h-18.5zM1335.8 1353.9h18.5v18.5h-18.5zM1338.2 1353.2h18.5v18.5h-18.5zM1340.5 1356h18.5v18.5h-18.5zM1342.8 1352.7h18.5v18.5h-18.5zM1345.2 1356h18.5v18.5h-18.5zM1347.5 1354h18.5v18.5h-18.5zM1349.8 1352.2h18.5v18.5h-18.5zM1352.1 1354.8h18.5v18.5h-18.5zM1354.5 1350.4h18.5v18.5h-18.5zM1356.8 1351.8h18.5v18.5h-18.5zM1359.1 1349.3h18.5v18.5h-18.5zM1361.5 1353.4h18.5v18.5h-18.5zM1363.8 1351.2h18.5v18.5h-18.5zM1366.1 1352.1h18.5v18.5h-18.5zM1368.4 1349.2h18.5v18.5h-18.5zM1370.8 1351.5h18.5v18.5h-18.5zM1373.1 1350.8h18.5v18.5h-18.5zM1375.4 1350.2h18.5v18.5h-18.5zM1377.8 1351.5h18.5v18.5h-18.5zM1380.1 1348.7h18.5v18.5h-18.5zM1382.4 1348.3h18.5v18.5h-18.5zM1384.7 1349.4h18.5v18.5h-18.5zM1387.1 1349.9h18.5v18.5h-18.5zM1389.4 1347.1h18.5v18.5h-18.5zM1391.7 1348.5h18.5v18.5h-18.5zM1394.1 1346h18.5v18.5h-18.5zM1396.4 1347.5h18.5v18.5h-18.5zM1398.7 1348.4h18.5v18.5h-18.5zM1401 1344.8h18.5v18.5h-18.5zM1403.4 1348h18.5v18.5h-18.5zM1405.7 1344.3h18.5v18.5h-18.5zM1408 1348.9h18.5v18.5h-18.5zM1410.4 1346.3h18.5v18.5h-18.5zM1412.7 1345.9h18.5v18.5h-18.5zM1415 1347.4h18.5v18.5h-18.5zM1417.3 1346.3h18.5v18.5h-18.5zM1419.7 1347.2h18.5v18.5h-18.5zM1422 1343.8h18.5v18.5h-18.5zM1424.3 1346.1h18.5v18.5h-18.5zM1426.7 1346h18.5v18.5h-18.5zM1429 1347.7h18.5v18.5h-18.5zM1431.3 1343.1h18.5v18.5h-18.5zM1433.7 1345.1h18.5v18.5h-18.5zM1436 1346h18.5v18.5h-18.5zM1438.3 1345.6h18.5v18.5h-18.5zM1440.6 1343.2h18.5v18.5h-18.5zM1443 1345.8h18.5v18.5h-18.5zM1445.3 1344h18.5v18.5h-18.5zM1447.6 1343.8h18.5v18.5h-18.5zM1450 1347.2h18.5v18.5h-18.5zM1452.3 1343.8h18.5v18.5h-18.5zM1454.6 1345.1h18.5v18.5h-18.5zM1456.9 1346.6h18.5v18.5h-18.5zM1459.3 1346.4h18.5v18.5h-18.5zM1461.6 1345.6h18.5v18.5h-18.5zM1463.9 1346.9h18.5v18.5h-18.5zM1466.3 1345.2h18.5v18.5h-18.5zM1468.6 1346h18.5v18.5h-18.5zM1470.9 1346.9h18.5v18.5h-18.5zM1473.2 1346.2h18.5v18.5h-18.5zM1475.6 1346h18.5v18.5h-18.5zM1477.9 1344.8h18.5v18.5h-18.5zM1480.2 1345.5h18.5v18.5h-18.5zM1482.6 1344.7h18.5v18.5h-18.5zM1484.9 1346.4h18.5v18.5h-18.5zM1487.2 1344.6h18.5v18.5h-18.5zM1489.5 1345h18.5v18.5h-18.5zM1491.9 1346.4h18.5v18.5h-18.5zM1494.2 1345.1h18.5v18.5h-18.5zM1496.5 1344.3h18.5v18.5h-18.5zM1498.9 1346.7h18.5v18.5h-18.5zM1501.2 1344.4h18.5v18.5h-18.5zM1503.5 1346.7h18.5v18.5h-18.5zM1505.9 1346.4h18.5v18.5h-18.5zM1508.2 1344.5h18.5v18.5h-18.5zM1510.5 1345.2h18.5v18.5h-18.5zM1512.8 1341.1h18.5v18.5h-18.5zM1515.2 1342.1h18.5v18.5h-18.5zM1517.5 1343.8h18.5v18.5h-18.5zM1519.8 1341.7h18.5v18.5h-18.5zM1522.2 1340.9h18.5v18.5h-18.5zM1524.5 1340.7h18.5v18.5h-18.5zM1526.8 1340.2h18.5v18.5h-18.5zM1529.1 1339.3h18.5v18.5h-18.5zM1531.5 1338h18.5v18.5h-18.5zM1533.8 1336.4h18.5v18.5h-18.5zM1536.1 1336.5h18.5v18.5h-18.5zM1538.5 1336.1h18.5v18.5h-18.5zM1540.8 1336.4h18.5v18.5h-18.5zM1543.1 1338.8h18.5v18.5h-18.5zM1545.4 1335.2h18.5v18.5h-18.5zM1547.8 1335.7h18.5v18.5h-18.5zM1550.1 1335.3h18.5v18.5h-18.5zM1552.4 1336.3h18.5v18.5h-18.5zM1554.8 1338.1h18.5v18.5h-18.5zM1557.1 1337.8h18.5v18.5h-18.5zM1559.4 1335.2h18.5v18.5h-18.5zM1561.7 1334.7h18.5v18.5h-18.5zM1564.1 1337.7h18.5v18.5h-18.5zM1566.4 1335.7h18.5v18.5h-18.5zM1568.7 1336.7h18.5v18.5h-18.5zM1571.1 1333.6h18.5v18.5h-18.5zM1573.4 1337.6h18.5v18.5h-18.5zM1575.7 1334.8h18.5v18.5h-18.5zM1578.1 1335.7h18.5v18.5h-18.5zM1580.4 1334.2h18.5v18.5h-18.5zM1582.7 1335.2h18.5v18.5h-18.5zM1585 1337.1h18.5v18.5h-18.5zM1587.4 1337h18.5v18.5h-18.5zM1589.7 1335.1h18.5v18.5h-18.5zM1592 1336.4h18.5v18.5h-18.5zM1594.4 1334.7h18.5v18.5h-18.5zM1596.7 1334.1h18.5v18.5h-18.5zM1599 1334.9h18.5v18.5h-18.5zM1601.3 1333h18.5v18.5h-18.5zM1603.7 1333.4h18.5v18.5h-18.5zM1606 1335.2h18.5v18.5h-18.5zM1608.3 1335.4h18.5v18.5h-18.5zM1610.7 1331.7h18.5v18.5h-18.5zM1613 1334.9h18.5v18.5h-18.5zM1615.3 1335.2h18.5v18.5h-18.5zM1617.6 1333.2h18.5v18.5h-18.5zM1620 1331.2h18.5v18.5h-18.5zM1622.3 1334.1h18.5v18.5h-18.5zM1624.6 1331.8h18.5v18.5h-18.5zM1627 1333.7h18.5v18.5h-18.5zM1629.3 1332.2h18.5v18.5h-18.5zM1631.6 1333.4h18.5v18.5h-18.5zM1633.9 1331.4h18.5v18.5h-18.5zM1636.3 1332.4h18.5v18.5h-18.5zM1638.6 1332.5h18.5v18.5h-18.5zM1640.9 1332.9h18.5v18.5h-18.5zM1643.3 1330.7h18.5v18.5h-18.5zM1645.6 1334.3h18.5v18.5h-18.5zM1647.9 1330.9h18.5v18.5h-18.5zM1650.2 1330.8h18.5v18.5h-18.5zM1652.6 1330.5h18.5v18.5h-18.5zM1654.9 1329.4h18.5v18.5h-18.5zM1657.2 1331.1h18.5v18.5h-18.5zM1659.6 1332.7h18.5v18.5h-18.5zM1661.9 1332.2h18.5v18.5h-18.5zM1664.2 1329.5h18.5v18.5h-18.5zM1666.6 1329h18.5v18.5h-18.5zM1668.9 1329.8h18.5v18.5h-18.5zM1671.2 1331.9h18.5v18.5h-18.5zM1673.5 1330.3h18.5v18.5h-18.5zM1675.9 1332.4h18.5v18.5h-18.5zM1678.2 1330.9h18.5v18.5h-18.5zM1680.5 1330.6h18.5v18.5h-18.5zM1682.9 1331.1h18.5v18.5h-18.5zM1685.2 1330.9h18.5v18.5h-18.5zM1687.5 1328.7h18.5v18.5h-18.5zM1689.8 1328.1h18.5v18.5h-18.5zM1692.2 1328.9h18.5v18.5h-18.5zM1694.5 1329h18.5v18.5h-18.5zM1696.8 1327.2h18.5v18.5h-18.5zM1699.2 1328.6h18.5v18.5h-18.5zM1701.5 1329.5h18.5v18.5h-18.5zM1703.8 1326.9h18.5v18.5h-18.5zM1706.1 1326.9h18.5v18.5h-18.5zM1708.5 1327h18.5v18.5h-18.5zM1710.8 1327.5h18.5v18.5h-18.5zM1713.1 1330.8h18.5v18.5h-18.5zM1715.5 1326h18.5v18.5h-18.5zM1717.8 1326.8h18.5v18.5h-18.5zM1720.1 1326.6h18.5v18.5h-18.5zM1722.4 1328.1h18.5v18.5h-18.5zM1724.8 1325.7h18.5v18.5h-18.5zM1727.1 1327.9h18.5v18.5h-18.5zM1729.4 1326.3h18.5v18.5h-18.5zM1731.8 1326.8h18.5v18.5h-18.5zM1734.1 1329.3h18.5v18.5h-18.5zM1736.4 1326.2h18.5v18.5h-18.5zM1738.8 1328.3h18.5v18.5h-18.5zM1741.1 1327.1h18.5v18.5h-18.5zM1743.4 1327.1h18.5v18.5h-18.5zM1745.7 1329h18.5v18.5h-18.5zM1748.1 1325.7h18.5v18.5h-18.5zM1750.4 1329.4h18.5v18.5h-18.5zM1752.7 1329.2h18.5v18.5h-18.5zM1755.1 1328h18.5v18.5h-18.5zM1757.4 1324.8h18.5v18.5h-18.5zM1759.7 1327.8h18.5v18.5h-18.5zM1762 1327.4h18.5v18.5h-18.5zM1764.4 1328.1h18.5v18.5h-18.5zM1766.7 1325.3h18.5v18.5h-18.5zM1769 1328.9h18.5v18.5h-18.5zM1771.4 1328.5h18.5v18.5h-18.5zM1773.7 1324.5h18.5v18.5h-18.5zM1776 1325.4h18.5v18.5h-18.5zM1778.3 1323.9h18.5v18.5h-18.5zM1780.7 1327.7h18.5v18.5h-18.5zM1783 1328h18.5v18.5h-18.5zM1785.3 1328.3h18.5v18.5h-18.5zM1787.7 1326.3h18.5v18.5h-18.5zM1790 1326.4h18.5v18.5h-18.5zM1792.3 1326.4h18.5v18.5h-18.5zM1794.6 1325.7h18.5v18.5h-18.5zM1797 1327.5h18.5v18.5h-18.5zM1799.3 1325.7h18.5v18.5h-18.5zM1801.6 1324.2h18.5v18.5h-18.5zM1804 1325h18.5v18.5h-18.5zM1806.3 1322.4h18.5v18.5h-18.5zM1808.6 1325.8h18.5v18.5h-18.5zM1811 1325.5h18.5v18.5h-18.5zM1813.3 1324.1h18.5v18.5h-18.5zM1815.6 1326.1h18.5v18.5h-18.5zM1817.9 1325.5h18.5v18.5h-18.5zM1820.3 1323.3h18.5v18.5h-18.5zM1822.6 1321.9h18.5v18.5h-18.5zM1824.9 1322h18.5v18.5h-18.5zM1827.3 1322.2h18.5v18.5h-18.5zM1829.6 1322.7h18.5v18.5h-18.5zM1831.9 1323.3h18.5v18.5h-18.5zM1834.2 1325.5h18.5v18.5h-18.5zM1836.6 1322.2h18.5v18.5h-18.5zM1838.9 1325.2h18.5v18.5h-18.5zM1841.2 1324h18.5v18.5h-18.5zM1843.6 1324.7h18.5v18.5h-18.5zM1845.9 1322.3h18.5v18.5h-18.5zM1848.2 1320.2h18.5v18.5h-18.5zM1850.5 1324h18.5v18.5h-18.5zM1852.9 1321.3h18.5v18.5h-18.5zM1855.2 1320.8h18.5v18.5h-18.5zM1857.5 1324h18.5v18.5h-18.5zM1859.9 1323.5h18.5v18.5h-18.5zM1862.2 1321.1h18.5v18.5h-18.5zM1864.5 1321.4h18.5v18.5h-18.5zM1866.8 1324.7h18.5v18.5h-18.5zM1869.2 1321.4h18.5v18.5h-18.5zM1871.5 1323.6h18.5v18.5h-18.5zM1873.8 1320.7h18.5v18.5h-18.5zM1876.2 1324.1h18.5v18.5h-18.5zM1878.5 1320.6h18.5v18.5h-18.5zM1880.8 1322.6h18.5v18.5h-18.5zM1883.2 1320.2h18.5v18.5h-18.5zM1885.5 1322.8h18.5v18.5h-18.5zM1887.8 1324.3h18.5v18.5h-18.5zM1890.1 1320.5h18.5v18.5h-18.5zM1892.5 1321.4h18.5v18.5h-18.5zM1894.8 1323.8h18.5v18.5h-18.5zM1897.1 1323h18.5v18.5h-18.5zM1899.5 1321.4h18.5v18.5h-18.5zM1901.8 1322.9h18.5v18.5h-18.5zM1904.1 1322h18.5v18.5h-18.5zM1906.4 1324h18.5v18.5h-18.5zM1908.8 1321.1h18.5v18.5h-18.5zM1911.1 1323.4h18.5v18.5h-18.5zM1913.4 1322.7h18.5v18.5h-18.5zM1915.8 1323.2h18.5v18.5h-18.5zM1918.1 1321.3h18.5v18.5h-18.5zM1920.4 1323h18.5v18.5h-18.5zM1922.7 1322.8h18.5v18.5h-18.5zM1925.1 1321.2h18.5v18.5h-18.5zM1927.4 1319.3h18.5v18.5h-18.5zM1929.7 1323.9h18.5v18.5h-18.5zM1932.1 1322.6h18.5v18.5h-18.5zM1934.4 1319.7h18.5v18.5h-18.5zM1936.7 1322.1h18.5v18.5h-18.5zM1939 1319.5h18.5v18.5h-18.5zM1941.4 1320.2h18.5v18.5h-18.5zM1943.7 1321.8h18.5v18.5h-18.5zM1946 1319.5h18.5v18.5h-18.5zM1948.4 1318.4h18.5v18.5h-18.5zM1950.7 1318.1h18.5v18.5h-18.5zM1953 1316.8h18.5v18.5h-18.5zM1955.3 1317.5h18.5v18.5h-18.5zM1957.7 1317.8h18.5v18.5h-18.5zM1960 1317.3h18.5v18.5h-18.5zM1962.3 1316.8h18.5v18.5h-18.5zM1964.7 1318.8h18.5v18.5h-18.5zM1967 1317.5h18.5v18.5h-18.5zM1969.3 1320.1h18.5v18.5h-18.5zM1971.7 1321.1h18.5v18.5h-18.5zM1974 1317.8h18.5v18.5h-18.5zM1976.3 1319.3h18.5v18.5h-18.5zM1978.6 1319h18.5v18.5h-18.5zM1981 1316.8h18.5v18.5h-18.5zM1983.3 1317.1h18.5v18.5h-18.5zM1985.6 1320.9h18.5v18.5h-18.5zM1988 1318.8h18.5v18.5h-18.5zM1990.3 1320.5h18.5v18.5h-18.5zM1992.6 1316.8h18.5v18.5h-18.5zM1994.9 1319.4h18.5v18.5h-18.5zM1997.3 1320.6h18.5v18.5h-18.5zM1999.6 1320.6h18.5v18.5h-18.5zM2001.9 1316.2h18.5v18.5h-18.5zM2004.3 1318.8h18.5v18.5h-18.5zM2006.6 1317.9h18.5v18.5h-18.5zM2008.9 1319.8h18.5v18.5h-18.5zM2011.2 1316.3h18.5v18.5h-18.5zM2013.6 1317.2h18.5v18.5h-18.5zM2015.9 1319.9h18.5v18.5h-18.5zM2018.2 1318.1h18.5v18.5h-18.5zM2020.6 1318h18.5v18.5h-18.5zM2022.9 1320.5h18.5v18.5h-18.5zM2025.2 1317.2h18.5v18.5h-18.5zM2027.5 1315.8h18.5v18.5h-18.5zM2029.9 1317.5h18.5v18.5h-18.5zM2032.2 1316.2h18.5v18.5h-18.5zM2034.5 1315.9h18.5v18.5h-18.5zM2036.9 1318.4h18.5v18.5h-18.5zM2039.2 1320.3h18.5v18.5h-18.5zM2041.5 1318.5h18.5v18.5h-18.5zM2043.9 1318.9h18.5v18.5h-18.5zM2046.2 1317.3h18.5v18.5h-18.5zM2048.5 1318.5h18.5v18.5h-18.5zM2050.8 1319.5h18.5v18.5h-18.5zM2053.2 1318.7h18.5v18.5h-18.5zM2055.5 1319.8h18.5v18.5h-18.5zM2057.8 1318.6h18.5v18.5h-18.5zM2060.2 1316.9h18.5v18.5h-18.5zM2062.5 1318.8h18.5v18.5h-18.5zM2064.8 1318.4h18.5v18.5h-18.5zM2067.1 1316.8h18.5v18.5h-18.5zM2069.5 1319.1h18.5v18.5h-18.5zM2071.8 1320.1h18.5v18.5h-18.5zM2074.1 1316.9h18.5v18.5h-18.5zM2076.5 1319.2h18.5v18.5h-18.5zM2078.8 1320.5h18.5v18.5h-18.5zM2081.1 1319.1h18.5v18.5h-18.5zM2083.4 1318.7h18.5v18.5h-18.5zM2085.8 1319.5h18.5v18.5h-18.5zM2088.1 1320.6h18.5v18.5h-18.5zM2090.4 1321.6h18.5v18.5h-18.5zM2092.8 1321.3h18.5v18.5h-18.5zM2095.1 1319.3h18.5v18.5h-18.5zM2097.4 1323.1h18.5v18.5h-18.5zM2099.7 1323.9h18.5v18.5h-18.5zM2102.1 1320.1h18.5v18.5h-18.5zM2104.4 1321.1h18.5v18.5h-18.5zM2106.7 1321h18.5v18.5h-18.5zM2109.1 1324.7h18.5v18.5h-18.5zM2111.4 1325.3h18.5v18.5h-18.5zM2113.7 1321.2h18.5v18.5h-18.5zM2116.1 1322.9h18.5v18.5h-18.5z"/>
<path fill="none" stroke="#f00" stroke-width="0.8" d="M354.2 267.5 356.1 281.3 358.8 297 362 325.1 364.4 352.3 366.6 380.7 368.9 410 370.2 425.3 373 444 376.2 454.3 378.6 464.3 380.9 472.5 383.2 474.1 385.5 480.5 387.9 488.1 390.2 494.4 392.5 503.6 394.9 513.9 397.2 521.1 399.5 529.9 401.8 539.3 404.2 541.6 406.5 541.9 408.8 548.4 411.2 546.5 413.5 549.5 415.8 546.2 418.1 551.1 420.5 548.1 422.8 550.2 425.1 552.2 427.5 552.6 429.8 552.1 432.1 553.1 434.4 555 436.8 555.8 439.1 558.7 441.4 560.3 443.8 564 446.1 565.5 448.4 568.7 450.7 568 453.1 566.4 455.4 567.5 457.7 569.2 460.1 566.3 462.4 563.7 464.7 560.8 467.1 554.4 469.4 552.2 471.7 547.7 474 545.6 476.4 549.4 478.7 548.8 481 549.4 483.4 551.8 485.7 553.6 488 556.1 490.3 553.1 492.7 556.9 495 556.6 497.3 555.8 499.7 560.2 502 558.6 504.3 555.6 506.6 559.2 509 555 511.3 554.7 513.6 555.7 516 558.5 518.3 553.3 520.6 556.8 522.9 554.4 525.3 550.7 527.6 552.3 529.9 550.8 532.3 550.4 534.6 550.3 536.9 550.8 539.3 554.5 541.6 552.4 543.9 557.7 546.2 557.8 548.6 561.8 550.9 564.4 553.2 567 555.6 563.6 557.9 563.1 560.2 564.2 562.5 562.8 564.9 558.5 567.2 560 569.5 555.9 571.9 554.4 574.2 555 576.5 552.4 578.8 551.1 581.2 549.7 583.5 548.7 585.8 546.1 588.2 544.6 590.5 546.9 592.8 544.4 595.1 543 597.5 541.7 599.8 536.8 602.1 534.9 604.5 536.2 606.8 538.9 609.1 543.8 611.5 544.4 613.8 546.7 616.1 550.8 618.4 551.1 620.8 553.3 623.1 557 625.4 557 627.8 554.5 630.1 555.9 632.4 552.6 634.7 554.2 637.1 554.8 639.4 553.3 641.7 554.2 644.1 556 646.4 556.3 648.7 554.6 651 557.8 653.4 555.2 655.7 560.1 658 556 660.4 555.1 662.7 553.7 665 556.5 667.3 551.8 669.7 552.3 672 553 674.3 551.7 676.7 546.2 679 548.2 681.3 548.1 683.6 548.2 686 545.9 688.3 545.4 690.6 543.3 693 543 695.3 545.4 697.6 543.4 700 544.5 702.3 545.4 704.6 544.3 706.9 544.4 709.3 549.1 711.6 546.9 713.9 545.9 716.3 548.7 718.6 545.4 720.9 546.2 723.2 549.3 725.6 548.5 727.9 546.7 730.2 543.5 732.6 544.1 734.9 542.2 737.2 542.6 739.5 541.1 741.9 541 744.2 543 746.5 539.7 748.9 539.4 751.2 542.6 753.5 539.2 755.8 538.6 758.2 537.7 760.5 541.6 762.8 541.3 765.2 541 767.5 541.7 769.8 539.5 772.2 540.6 774.5 542.6 776.8 542.9 779.1 540.3 781.5 537.6 783.8 535.1 786.1 530.8 788.5 533.3 790.8 527.3 793.1 525.8 795.4 527.7 797.8 527.6 800.1 526.7 802.4 524.4 804.8 524.5 807.1 525.8 809.4 531.9 811.7 534.5 814.1 532.8 816.4 537.9 818.7 537.6 821.1 539.1 823.4 539.3 825.7 535.4 828 536.2 830.4 533.6 832.7 534.8 835 532.3 837.4 532.7 839.7 531.5 842 529 844.4 529.7 846.7 534 849 532.7 851.3 531.6 853.7 532.3 856 537.9 858.3 536.8 860.7 534.5 863 536.9 865.3 537 867.6 536.7 870 539.4 872.3 539.6 874.6 535.6 877 535.8 879.3 536 881.6 536.7 883.9 534.1 886.3 533.1 888.6 530.8 890.9 527.5 893.3 529 895.6 523.4 897.9 526.4 900.2 523.9 902.6 525.3 904.9 527.8 907.2 525.6 909.6 523.2 911.9 525 914.2 526.2 916.5 522.6 918.9 522.8 921.2 520.8 923.5 522.6 925.9 521 928.2 520.8 930.5 519 932.9 519.9 935.2 516.8 937.5 519.8 939.8 519.3 942.2 516.3 944.5 515.5 946.8 516.7 949.2 513.2 951.5 515.1 953.8 511.9 956.1 513.4 958.5 510.9 960.8 511.7 963.1 512.7 965.5 507.8 967.8 510.9 970.1 509 972.4 507.3 974.8 506.2 977.1 503.7 979.4 503.6 981.8 504.4 984.1 500.7 986.4 502.5 988.7 502.9 991.1 501.6 993.4 499.4 995.7 497.2 998.1 492.3 1000.4 494.5 1002.7 489 1005.1 490.6 1007.4 488.9 1009.7 486 1012 484 1014.4 480.9 1016.7 481.1 1019 478.5 1021.4 476.2 1023.7 474.7 1026 476.6 1028.3 477.3 1030.7 474.6 1033 475.2 1035.3 477.7 1037.7 478.3 1040 479.8 1042.3 483.2 1044.6 485.2 1047 488 1049.3 489.6 1051.6 494.7 1054 495.6 1056.3 501.4 1058.6 508.4 1060.9 517.3 1063.3 522 1065.6 537.5 1067.9 549.6 1070.3 574.2 1072.6 594.4 1074.9 612.8 1077.2 632.8 1079.6 650 1081.9 670.7 1084.2 692.6 1086.6 717.4 1088.9 739.2 1091.2 760.6 1093.6 784.2 1095.9 806.6 1098.2 831.2 1100.5 860.3 1102.9 882.7 1105.2 907 1107.5 932.2 1109.9 953.7 1112.2 978 1114.5 1000.5 1116.8 1024.8 1119.2 1047.2 1121.5 1065.9 1123.8 1084.6 1126.2 1103.3 1128.5 1119.2 1130.8 1136 1133.1 1149.7 1135.5 1158.9 1137.8 1171.2 1140.1 1184.2 1142.5 1194.1 1144.8 1202 1147.1 1213.1 1149.4 1228.4 1151.8 1234.5 1154.1 1246.4 1156.4 1260.3 1158.8 1262.1 1161.1 1269.1 1163.4 1275.6 1165.8 1281.1 1168.1 1289.1 1170.4 1295.2 1172.7 1299.3 1175.1 1303.7 1177.4 1312.8 1179.7 1318.2 1182.1 1322.1 1184.4 1325.2 1186.7 1332.4 1189 1338 1191.4 1342.1 1193.7 1348.8 1196 1350.3 1198.4 1354.8 1200.7 1356.7 1203 1362.8 1205.3 1367.7 1207.7 1369.7 1210 1369.3 1212.3 1374.9 1214.7 1375.5 1217 1376 1219.3 1377.9 1221.6 1381.6 1224 1380.1 1226.3 1383.3 1228.6 1384.6 1231 1384.6 1233.3 1387.3 1235.6 1386.2 1238 1387.1 1240.3 1387.2 1242.6 1391.3 1244.9 1389 1247.3 1390.9 1249.6 1389.5 1251.9 1392.1 1254.3 1392.2 1256.6 1387.6 1258.9 1392.5 1261.2 1391.9 1263.6 1390.5 1265.9 1393.9 1268.2 1393 1270.6 1396.8 1272.9 1396.3 1275.2 1398.5 1277.5 1399.5 1279.9 1402.3 1282.2 1404.7 1284.5 1406.5 1286.9 1404.8 1289.2 1407.3 1291.5 1405.8 1293.8 1408.9 1296.2 1413.2 1298.5 1410.3 1300.8 1414.9 1303.2 1413.8 1305.5 1412 1307.8 1414.5 1310.2 1412 1312.5 1415.1 1314.8 1411.1 1317.1 1411.3 1319.5 1414.4 1321.8 1413 1324.1 1411.5 1326.5 1413.3 1328.8 1412.3 1331.1 1413.6 1333.4 1414.6 1335.8 1415.1 1338.1 1411.2 1340.4 1413.9 1342.8 1415.8 1345.1 1413.2 1347.4 1414.8 1349.7 1411.5 1352.1 1415.3 1354.4 1413.8 1356.7 1415.2 1359.1 1414.6 1361.4 1415 1363.7 1410.8 1366 1414 1368.4 1411.3 1370.7 1411.6 1373 1411.8 1375.4 1413.1 1377.7 1413.2 1380 1414.6 1382.3 1409.9 1384.7 1410.8 1387 1411.5 1389.3 1413.7 1391.7 1412.3 1394 1412 1396.3 1413.2 1398.7 1412.6 1401 1410.7 1403.3 1409.6 1405.6 1411.4 1408 1413.5 1410.3 1412.1 1412.6 1409.4 1415 1411.3 1417.3 1411 1419.6 1412 1421.9 1412 1424.3 1413.9 1426.6 1410.8 1428.9 1411.1 1431.3 1412.2 1433.6 1413.5 1435.9 1412.6 1438.2 1411.5 1440.6 1413.2 1442.9 1411.6 1445.2 1414.4 1447.6 1411.3 1449.9 1410.9 1452.2 1414.8 1454.5 1412.5 1456.9 1415.5 1459.2 1414.7 1461.5 1414.6 1463.9 1412.8 1466.2 1416.6 1468.5 1413.4 1470.9 1418.2 1473.2 1418.1 1475.5 1415.6 1477.8 1415.1 1480.2 1419.2 1482.5 1417.2 1484.8 1415.6 1487.2 1417.6 1489.5 1416.4 1491.8 1417.3 1494.1 1418.6 1496.5 1420.1 1498.8 1419.6 1501.1 1416.5 1503.5 1418.2 1505.8 1418.4 1508.1 1421 1510.4 1416.6 1512.8 1418.9 1515.1 1421 1517.4 1418.4 1519.8 1417.5 1522.1 1418.8 1524.4 1417.4 1526.7 1420.2 1529.1 1415.7 1531.4 1416.1 1533.7 1415.3 1536.1 1418.2 1538.4 1415.8 1540.7 1418.6 1543.1 1418.4 1545.4 1418.4 1547.7 1414.7 1550 1413.2 1552.4 1414.9 1554.7 1417.6 1557 1416.8 1559.4 1413.5 1561.7 1416.9 1564 1418.2 1566.3 1418.6 1568.7 1417.5 1571 1418.5 1573.3 1418.5 1575.7 1416.1 1578 1414.9 1580.3 1418.1 1582.6 1415.2 1585 1416.5 1587.3 1419.6 1589.6 1417.5 1592 1417.3 1594.3 1419.6 1596.6 1416.4 1598.9 1420 1601.3 1419.7 1603.6 1417.1 1605.9 1417 1608.3 1416.1 1610.6 1420.2 1612.9 1416.7 1615.2 1415.9 1617.6 1420.4 1619.9 1419.1 1622.2 1419.5 1624.6 1420 1626.9 1416.6 1629.2 1417 1631.6 1419 1633.9 1416.8 1636.2 1419 1638.5 1420.2 1640.9 1419.8 1643.2 1419.6 1645.5 1416.7 1647.9 1417.7 1650.2 1421 1652.5 1417.1 1654.8 1419.2 1657.2 1416.8 1659.5 1421.2 1661.8 1417.4 1664.2 1418.6 1666.5 1419.2 1668.8 1420 1671.1 1421 1673.5 1419.8 1675.8 1417.8 1678.1 1416.3 1680.5 1419.4 1682.8 1420.6 1685.1 1415.7 1687.4 1419.4 1689.8 1416.3 1692.1 1417.6 1694.4 1417.8 1696.8 1418.1 1699.1 1419.9 1701.4 1418.3 1703.8 1416.7 1706.1 1418.3 1708.4 1417 1710.7 1416.7 1713.1 1416.5 1715.4 1417.1 1717.7 1416 1720.1 1415.8 1722.4 1415.3 1724.7 1416.8 1727 1416 1729.4 1418.7 1731.7 1418.8 1734 1416.3 1736.4 1417.6 1738.7 1419 1741 1416.3 1743.3 1417.1 1745.7 1416.4 1748 1417.4 1750.3 1418.8 1752.7 1414.6 1755 1418.6 1757.3 1417 1759.6 1417.5 1762 1416.6 1764.3 1417.7 1766.6 1414.8 1769 1416.6 1771.3 1414.3 1773.6 1415.4 1776 1416.1 1778.3 1413.6 1780.6 1412.8 1782.9 1416.3 1785.3 1416.2 1787.6 1415.3 1789.9 1413.4 1792.3 1414.9 1794.6 1411.9 1796.9 1414.6 1799.2 1414 1801.6 1414 1803.9 1413 1806.2 1411.7 1808.6 1414 1810.9 1412.5 1813.2 1413.8 1815.5 1411.7 1817.9 1410.1 1820.2 1412.2 1822.5 1412.5 1824.9 1413.8 1827.2 1413.4 1829.5 1409.1 1831.8 1412.5 1834.2 1409.8 1836.5 1411.8 1838.8 1410 1841.2 1409.6 1843.5 1410.2 1845.8 1410.3 1848.1 1410.9 1850.5 1410.5 1852.8 1410.5 1855.1 1408.8 1857.5 1410.1 1859.8 1408.3 1862.1 1409.4 1864.5 1408.4 1866.8 1408.7 1869.1 1405.8 1871.4 1407.9 1873.8 1406.3 1876.1 1406.9 1878.4 1405.1 1880.8 1407.8 1883.1 1408.7 1885.4 1405.8 1887.7 1404.3 1890.1 1406.7 1892.4 1404 1894.7 1407.6 1897.1 1403.5 1899.4 1404.5 1901.7 1404.9 1904 1402.9 1906.4 1403.7 1908.7 1403.3 1911 1405.3 1913.4 1406.5 1915.7 1403.2 1918 1405.2 1920.3 1401.8 1922.7 1403.8 1925 1402.9 1927.3 1402 1929.7 1404.5 1932 1403.9 1934.3 1400.7 1936.7 1401.3 1939 1403.8 1941.3 1404.4 1943.6 1402.2 1946 1403.1 1948.3 1403.3 1950.6 1401.8 1953 1401 1955.3 1398.5 1957.6 1398.9 1959.9 1399.8 1962.3 1401 1964.6 1397.5 1966.9 1397.6 1969.3 1395.4 1971.6 1398.4 1973.9 1396.8 1976.2 1398.2 1978.6 1395.1 1980.9 1396.9 1983.2 1396.6 1985.6 1395.3 1987.9 1393.6 1990.2 1394.4 1992.5 1395.8 1994.9 1392.8 1997.2 1392 1999.5 1393.5 2001.9 1392.1 2004.2 1394.7 2006.5 1394.4 2008.9 1394.8 2011.2 1394 2013.5 1392.7 2015.8 1390.1 2018.2 1393 2020.5 1392.3 2022.8 1392.1 2025.2 1391.5 2027.5 1391.9 2029.8 1389 2032.1 1390.5 2034.5 1389.5 2036.8 1388.3 2039.1 1387.9 2041.5 1386.8 2043.8 1388.2 2046.1 1387.3 2048.4 1387.3 2050.8 1389.1 2053.1 1388 2055.4 1387.7 2057.8 1388.9 2060.1 1384.8 2062.4 1386.1 2064.7 1384.1 2067.1 1385.7 2069.4 1388.6 2071.7 1384.4 2074.1 1387.9 2076.4 1388.6 2078.7 1386.9 2081 1388.5 2083.4 1386.8 2085.7 1386.5 2088 1387.3 2090.4 1385.9 2092.7 1386.6 2095 1386.7 2097.4 1390.2 2099.7 1387.1 2102 1386.7 2104.3 1390.3 2106.7 1386.4 2109 1390.6 2111.3 1390.2 2113.7 1389.2 2116 1388.3 2118.3 1387.2 2120.6 1386.8 2123 1386.9 2125.3 1388.2"/>
<path fill="#f00" d="M343.7 267.5a10.5 10.5 0 1 0 21 0a10.5 10.5 0 1 0 -21 0zM345.6 281.3a10.5 10.5 0 1 0 21 0a10.5 10.5 0 1 0 -21 0zM348.3 297a10.5 10.5 0 1 0 21 0a10.5 10.5 0 1 0 -21 0zM351.5 325.1a10.5 10.5 0 1 0 21 0a10.5 10.5 0 1 0 -21 0zM353.9 352.3a10.5 10.5 0 1 0 21 0a10.5 10.5 0 1 0 -21 0zM356.1 380.7a10.5 10.5 0 1 0 21 0a10.5 10.5 0 1 0 -21 0zM358.4 410a10.5 10.5 0 1 0 21 0a10.5 10.5 0 1 0 -21 0zM359.7 425.3a10.5 10.5 0 1 0 21 0a10.5 10.5 0 1 0 -21 0zM362.5 444a10.5 10.5 0 1 0 21 0a10.5 10.5 0 1 0 -21 0zM365.7 454.3a10.5 10.5 0 1 0 21 0a10.5 10.5 0 1 0 -21 0zM368.1 464.3a10.5 10.5 0 1 0 21 0a10.5 10.5 0 1 0 -21 0zM370.4 472.5a10.5 10.5 0 1 0 21 0a10.5 10.5 0 1 0 -21 0zM372.7 474.1a10.5 10.5 0 1 0 21 0a10.5 10.5 0 1 0 -21 0zM375 480.5a10.5 10.5 0 1 0 21 0a10.5 10.5 0 1 0 -21 0zM377.4 488.1a10.5 10.5 0 1 0 21 0a10.5 10.5 0 1 0 -21 0zM379.7 494.4a10.5 10.5 0 1 0 21 0a10.5 10.5 0 1 0 -21 0zM382 503.6a10.5 10.5 0 1 0 21 0a10.5 10.5 0 1 0 -21 0zM384.4 513.9a10.5 10.5 0 1 0 21 0a10.5 10.5 0 1 0 -21 0zM386.7 521.1a10.5 10.5 0 1 0 21 0a10.5 10.5 0 1 0 -21 0zM389 529.9a10.5 10.5 0 1 0 21 0a10.5 10.5 0 1 0 -21 0zM391.3 539.3a10.5 10.5 0 1 0 21 0a10.5 10.5 0 1 0 -21 0zM393.7 541.6a10.5 10.5 0 1 0 21 0a10.5 10.5 0 1 0 -21 0zM396 541.9a10.5 10.5 0 1 0 21 0a10.5 10.5 0 1 0 -21 0zM398.3 548.4a10.5 10.5 0 1 0 21 0a10.5 10.5 0 1 0 -21 0zM400.7 546.5a10.5 10.5 0 1 0 21 0a10.5 10.5 0 1 0 -21 0zM403 549.5a10.5 10.5 0 1 0 21 0a10.5 10.5 0 1 0 -21 0zM405.3 546.2a10.5 10.5 0 1 0 21 0a10.5 10.5 0 1 0 -21 0zM407.6 551.1a10.5 10.5 0 1 0 21 0a10.5 10.5 0 1 0 -21 0zM410 548.1a10.5 10.5 0 1 0 21 0a10.5 10.5 0 1 0 -21 0zM412.3 550.2a10.5 10.5 0 1 0 21 0a10.5 10.5 0 1 0 -21 0zM414.6 552.2a10.5 10.5 0 1 0 21 0a10.5 10.5 0 1 0 -21 0zM417 552.6a10.5 10.5 0 1 0 21 0a10.5 10.5 0 1 0 -21 0zM419.3 552.1a10.5 10.5 0 1 0 21 0a10.5 10.5 0 1 0 -21 0zM421.6 553.1a10.5 10.5 0 1 0 21 0a10.5 10.5 0 1 0 -21 0zM423.9 555a10.5 10.5 0 1 0 21 0a10.5 10.5 0 1 0 -21 0zM426.3 555.8a10.5 10.5 0 1 0 21 0a10.5 10.5 0 1 0 -21 0zM428.6 558.7a10.5 10.5 0 1 0 21 0a10.5 10.5 0 1 0 -21 0zM430.9 560.3a10.5 10.5 0 1 0 21 0a10.5 10.5 0 1 0 -21 0zM433.3 564a10.5 10.5 0 1 0 21 0a10.5 10.5 0 1 0 -21 0zM435.6 565.5a10.5 10.5 0 1 0 21 0a10.5 10.5 0 1 0 -21 0zM437.9 568.7a10.5 10.5 0 1 0 21 0a10.5 10.5 0 1 0 -21 0zM440.2 568a10.5 10.5 0 1 0 21 0a10.5 10.5 0 1 0 -21 0zM442.6 566.4a10.5 10.5 0 1 0 21 0a10.5 10.5 0 1 0 -21 0zM444.9 567.5a10.5 10.5 0 1 0 21 0a10.5 10.5 0 1 0 -21 0zM447.2 569.2a10.5 10.5 0 1 0 21 0a10.5 10.5 0 1 0 -21 0zM449.6 566.3a10.5 10.5 0 1 0 21 0a10.5 10.5 0 1 0 -21 0zM451.9 563.7a10.5 10.5 0 1 0 21 0a10.5 10.5 0 1 0 -21 0zM454.2 560.8a10.5 10.5 0 1 0 21 0a10.5 10.5 0 1 0 -21 0zM456.6 554.4a10.5 10.5 0 1 0 21 0a10.5 10.5 0 1 0 -21 0zM458.9 552.2a10.5 10.5 0 1 0 21 0a10.5 10.5 0 1 0 -21 0zM461.2 547.7a10.5 10.5 0 1 0 21 0a10.5 10.5 0 1 0 -21 0zM463.5 545.6a10.5 10.5 0 1 0 21 0a10.5 10.5 0 1 0 -21 0zM465.9 549.4a10.5 10.5 0 1 0 21 0a10.5 10.5 0 1 0 -21 0zM468.2 548.8a10.5 10.5 0 1 0 21 0a10.5 10.5 0 1 0 -21 0zM470.5 549.4a10.5 10.5 0 1 0 21 0a10.5 10.5 0 1 0 -21 0zM472.9 551.8a10.5 10.5 0 1 0 21 0a10.5 10.5 0 1 0 -21 0zM475.2 553.6a10.5 10.5 0 1 0 21 0a10.5 10.5 0 1 0 -21 0zM477.5 556.1a10.5 10.5 0 1 0 21 0a10.5 10.5 0 1 0 -21 0zM479.8 553.1a10.5 10.5 0 1 0 21 0a10.5 10.5 0 1 0 -21 0zM482.2 556.9a10.5 10.5 0 1 0 21 0a10.5 10.5 0 1 0 -21 0zM484.5 556.6a10.5 10.5 0 1 0 21 0a10.5 10.5 0 1 0 -21 0zM486.8 555.8a10.5 10.5 0 1 0 21 0a10.5 10.5 0 1 0 -21 0zM489.2 560.2a10.5 10.5 0 1 0 21 0a10.5 10.5 0 1 0 -21 0zM491.5 558.6a10.5 10.5 0 1 0 21 0a10.5 10.5 0 1 0 -21 0zM493.8 555.6a10.5 10.5 0 1 0 21 0a10.5 10.5 0 1 0 -21 0zM496.1 559.2a10.5 10.5 0 1 0 21 0a10.5 10.5 0 1 0 -21 0zM498.5 555a10.5 10.5 0 1 0 21 0a10.5 10.5 0 1 0 -21 0zM500.8 554.7a10.5 10.5 0 1 0 21 0a10.5 10.5 0 1 0 -21 0zM503.1 555.7a10.5 10.5 0 1 0 21 0a10.5 10.5 0 1 0 -21 0zM505.5 558.5a10.5 10.5 0 1 0 21 0a10.5 10.5 0 1 0 -21 0zM507.8 553.3a10.5 10.5 0 1 0 21 0a10.5 10.5 0 1 0 -21 0zM510.1 556.8a10.5 10.5 0 1 0 21 0a10.5 10.5 0 1 0 -21 0zM512.4 554.4a10.5 10.5 0 1 0 21 0a10.5 10.5 0 1 0 -21 0zM514.8 550.7a10.5 10.5 0 1 0 21 0a10.5 10.5 0 1 0 -21 0zM517.1 552.3a10.5 10.5 0 1 0 21 0a10.5 10.5 0 1 0 -21 0zM519.4 550.8a10.5 10.5 0 1 0 21 0a10.5 10.5 0 1 0 -21 0zM521.8 550.4a10.5 10.5 0 1 0 21 0a10.5 10.5 0 1 0 -21 0zM524.1 550.3a10.5 10.5 0 1 0 21 0a10.5 10.5 0 1 0 -21 0zM526.4 550.8a10.5 10.5 0 1 0 21 0a10.5 10.5 0 1 0 -21 0zM528.8 554.5a10.5 10.5 0 1 0 21 0a10.5 10.5 0 1 0 -21 0zM531.1 552.4a10.5 10.5 0 1 0 21 0a10.5 10.5 0 1 0 -21 0zM533.4 557.7a10.5 10.5 0 1 0 21 0a10.5 10.5 0 1 0 -21 0zM535.7 557.8a10.5 10.5 0 1 0 21 0a10.5 10.5 0 1 0 -21 0zM538.1 561.8a10.5 10.5 0 1 0 21 0a10.5 10.5 0 1 0 -21 0zM540.4 564.4a10.5 10.5 0 1 0 21 0a10.5 10.5 0 1 0 -21 0zM542.7 567a10.5 10.5 0 1 0 21 0a10.5 10.5 0 1 0 -21 0zM545.1 563.6a10.5 10.5 0 1 0 21 0a10.5 10.5 0 1 0 -21 0zM547.4 563.1a10.5 10.5 0 1 0 21 0a10.5 10.5 0 1 0 -21 0zM549.7 564.2a10.5 10.5 0 1 0 21 0a10.5 10.5 0 1 0 -21 0zM552 562.8a10.5 10.5 0 1 0 21 0a10.5 10.5 0 1 0 -21 0zM554.4 558.5a10.5 10.5 0 1 0 21 0a10.5 10.5 0 1 0 -21 0zM556.7 560a10.5 10.5 0 1 0 21 0a10.5 10.5 0 1 0 -21 0zM559 555.9a10.5 10.5 0 1 0 21 0a10.5 10.5 0 1 0 -21 0zM561.4 554.4a10.5 10.5 0 1 0 21 0a10.5 10.5 0 1 0 -21 0zM563.7 555a10.5 10.5 0 1 0 21 0a10.5 10.5 0 1 0 -21 0zM566 552.4a10.5 10.5 0 1 0 21 0a10.5 10.5 0 1 0 -21 0zM568.3 551.1a10.5 10.5 0 1 0 21 0a10.5 10.5 0 1 0 -21 0zM570.7 549.7a10.5 10.5 0 1 0 21 0a10.5 10.5 0 1 0 -21 0zM573 548.7a10.5 10.5 0 1 0 21 0a10.5 10.5 0 1 0 -21 0zM575.3 546.1a10.5 10.5 0 1 0 21 0a10.5 10.5 0 1 0 -21 0zM577.7 544.6a10.5 10.5 0 1 0 21 0a10.5 10.5 0 1 0 -21 0zM580 546.9a10.5 10.5 0 1 0 21 0a10.5 10.5 0 1 0 -21 0zM582.3 544.4a10.5 10.5 0 1 0 21 0a10.5 10.5 0 1 0 -21 0zM584.6 543a10.5 10.5 0 1 0 21 0a10.5 10.5 0 1 0 -21 0zM587 541.7a10.5 10.5 0 1 0 21 0a10.5 10.5 0 1 0 -21 0zM589.3 536.8a10.5 10.5 0 1 0 21 0a10.5 10.5 0 1 0 -21 0zM591.6 534.9a10.5 10.5 0 1 0 21 0a10.5 10.5 0 1 0 -21 0zM594 536.2a10.5 10.5 0 1 0 21 0a10.5 10.5 0 1 0 -21 0zM596.3 538.9a10.5 10.5 0 1 0 21 0a10.5 10.5 0 1 0 -21 0zM598.6 543.8a10.5 10.5 0 1 0 21 0a10.5 10.5 0 1 0 -21 0zM601 544.4a10.5 10.5 0 1 0 21 0a10.5 10.5 0 1 0 -21 0zM603.3 546.7a10.5 10.5 0 1 0 21 0a10.5 10.5 0 1 0 -21 0zM605.6 550.8a10.5 10.5 0 1 0 21 0a10.5 10.5 0 1 0 -21 0zM607.9 551.1a10.5 10.5 0 1 0 21 0a10.5 10.5 0 1 0 -21 0zM610.3 553.3a10.5 10.5 0 1 0 21 0a10.5 10.5 0 1 0 -21 0zM612.6 557a10.5 10.5 0 1 0 21 0a10.5 10.5 0 1 0 -21 0zM614.9 557a10.5 10.5 0 1 0 21 0a10.5 10.5 0 1 0 -21 0zM617.3 554.5a10.5 10.5 0 1 0 21 0a10.5 10.5 0 1 0 -21 0zM619.6 555.9a10.5 10.5 0 1 0 21 0a10.5 10.5 0 1 0 -21 0zM621.9 552.6a10.5 10.5 0 1 0 21 0a10.5 10.5 0 1 0 -21 0zM624.2 554.2a10.5 10.5 0 1 0 21 0a10.5 10.5 0 1 0 -21 0zM626.6 554.8a10.5 10.5 0 1 0 21 0a10.5 10.5 0 1 0 -21 0zM628.9 553.3a10.5 10.5 0 1 0 21 0a10.5 10.5 0 1 0 -21 0zM631.2 554.2a10.5 10.5 0 1 0 21 0a10.5 10.5 0 1 0 -21 0zM633.6 556a10.5 10.5 0 1 0 21 0a10.5 10.5 0 1 0 -21 0zM635.9 556.3a10.5 10.5 0 1 0 21 0a10.5 10.5 0 1 0 -21 0zM638.2 554.6a10.5 10.5 0 1 0 21 0a10.5 10.5 0 1 0 -21 0zM640.5 557.8a10.5 10.5 0 1 0 21 0a10.5 10.5 0 1 0 -21 0zM642.9 555.2a10.5 10.5 0 1 0 21 0a10.5 10.5 0 1 0 -21 0zM645.2 560.1a10.5 10.5 0 1 0 21 0a10.5 10.5 0 1 0 -21 0zM647.5 556a10.5 10.5 0 1 0 21 0a10.5 10.5 0 1 0 -21 0zM649.9 555.1a10.5 10.5 0 1 0 21 0a10.5 10.5 0 1 0 -21 0zM652.2 553.7a10.5 10.5 0 1 0 21 0a10.5 10.5 0 1 0 -21 0zM654.5 556.5a10.5 10.5 0 1 0 21 0a10.5 10.5 0 1 0 -21 0zM656.8 551.8a10.5 10.5 0 1 0 21 0a10.5 10.5 0 1 0 -21 0zM659.2 552.3a10.5 10.5 0 1 0 21 0a10.5 10.5 0 1 0 -21 0zM661.5 553a10.5 10.5 0 1 0 21 0a10.5 10.5 0 1 0 -21 0zM663.8 551.7a10.5 10.5 0 1 0 21 0a10.5 10.5 0 1 0 -21 0zM666.2 546.2a10.5 10.5 0 1 0 21 0a10.5 10.5 0 1 0 -21 0zM668.5 548.2a10.5 10.5 0 1 0 21 0a10.5 10.5 0 1 0 -21 0zM670.8 548.1a10.5 10.5 0 1 0 21 0a10.5 10.5 0 1 0 -21 0zM673.1 548.2a10.5 10.5 0 1 0 21 0a10.5 10.5 0 1 0 -21 0zM675.5 545.9a10.5 10.5 0 1 0 21 0a10.5 10.5 0 1 0 -21 0zM677.8 545.4a10.5 10.5 0 1 0 21 0a10.5 10.5 0 1 0 -21 0zM680.1 543.3a10.5 10.5 0 1 0 21 0a10.5 10.5 0 1 0 -21 0zM682.5 543a10.5 10.5 0 1 0 21 0a10.5 10.5 0 1 0 -21 0zM684.8 545.4a10.5 10.5 0 1 0 21 0a10.5 10.5 0 1 0 -21 0zM687.1 543.4a10.5 10.5 0 1 0 21 0a10.5 10.5 0 1 0 -21 0zM689.5 544.5a10.5 10.5 0 1 0 21 0a10.5 10.5 0 1 0 -21 0zM691.8 545.4a10.5 10.5 0 1 0 21 0a10.5 10.5 0 1 0 -21 0zM694.1 544.3a10.5 10.5 0 1 0 21 0a10.5 10.5 0 1 0 -21 0zM696.4 544.4a10.5 10.5 0 1 0 21 0a10.5 10.5 0 1 0 -21 0zM698.8 549.1a10.5 10.5 0 1 0 21 0a10.5 10.5 0 1 0 -21 0zM701.1 546.9a10.5 10.5 0 1 0 21 0a10.5 10.5 0 1 0 -21 0zM703.4 545.9a10.5 10.5 0 1 0 21 0a10.5 10.5 0 1 0 -21 0zM705.8 548.7a10.5 10.5 0 1 0 21 0a10.5 10.5 0 1 0 -21 0zM708.1 545.4a10.5 10.5 0 1 0 21 0a10.5 10.5 0 1 0 -21 0zM710.4 546.2a10.5 10.5 0 1 0 21 0a10.5 10.5 0 1 0 -21 0zM712.7 549.3a10.5 10.5 0 1 0 21 0a10.5 10.5 0 1 0 -21 0zM715.1 548.5a10.5 10.5 0 1 0 21 0a10.5 10.5 0 1 0 -21 0zM717.4 546.7a10.5 10.5 0 1 0 21 0a10.5 10.5 0 1 0 -21 0zM719.7 543.5a10.5 10.5 0 1 0 21 0a10.5 10.5 0 1 0 -21 0zM722.1 544.1a10.5 10.5 0 1 0 21 0a10.5 10.5 0 1 0 -21 0zM724.4 542.2a10.5 10.5 0 1 0 21 0a10.5 10.5 0 1 0 -21 0zM726.7 542.6a10.5 10.5 0 1 0 21 0a10.5 10.5 0 1 0 -21 0zM729 541.1a10.5 10.5 0 1 0 21 0a10.5 10.5 0 1 0 -21 0zM731.4 541a10.5 10.5 0 1 0 21 0a10.5 10.5 0 1 0 -21 0zM733.7 543a10.5 10.5 0 1 0 21 0a10.5 10.5 0 1 0 -21 0zM736 539.7a10.5 10.5 0 1 0 21 0a10.5 10.5 0 1 0 -21 0zM738.4 539.4a10.5 10.5 0 1 0 21 0a10.5 10.5 0 1 0 -21 0zM740.7 542.6a10.5 10.5 0 1 0 21 0a10.5 10.5 0 1 0 -21 0zM743 539.2a10.5 10.5 0 1 0 21 0a10.5 10.5 0 1 0 -21 0zM745.3 538.6a10.5 10.5 0 1 0 21 0a10.5 10.5 0 1 0 -21 0zM747.7 537.7a10.5 10.5 0 1 0 21 0a10.5 10.5 0 1 0 -21 0zM750 541.6a10.5 10.5 0 1 0 21 0a10.5 10.5 0 1 0 -21 0zM752.3 541.3a10.5 10.5 0 1 0 21 0a10.5 10.5 0 1 0 -21 0zM754.7 541a10.5 10.5 0 1 0 21 0a10.5 10.5 0 1 0 -21 0zM757 541.7a10.5 10.5 0 1 0 21 0a10.5 10.5 0 1 0 -21 0zM759.3 539.5a10.5 10.5 0 1 0 21 0a10.5 10.5 0 1 0 -21 0zM761.7 540.6a10.5 10.5 0 1 0 21 0a10.5 10.5 0 1 0 -21 0zM764 542.6a10.5 10.5 0 1 0 21 0a10.5 10.5 0 1 0 -21 0zM766.3 542.9a10.5 10.5 0 1 0 21 0a10.5 10.5 0 1 0 -21 0zM768.6 540.3a10.5 10.5 0 1 0 21 0a10.5 10.5 0 1 0 -21 0zM771 537.6a10.5 10.5 0 1 0 21 0a10.5 10.5 0 1 0 -21 0zM773.3 535.1a10.5 10.5 0 1 0 21 0a10.5 10.5 0 1 0 -21 0zM775.6 530.8a10.5 10.5 0 1 0 21 0a10.5 10.5 0 1 0 -21 0zM778 533.3a10.5 10.5 0 1 0 21 0a10.5 10.5 0 1 0 -21 0zM780.3 527.3a10.5 10.5 0 1 0 21 0a10.5 10.5 0 1 0 -21 0zM782.6 525.8a10.5 10.5 0 1 0 21 0a10.5 10.5 0 1 0 -21 0zM784.9 527.7a10.5 10.5 0 1 0 21 0a10.5 10.5 0 1 0 -21 0zM787.3 527.6a10.5 10.5 0 1 0 21 0a10.5 10.5 0 1 0 -21 0zM789.6 526.7a10.5 10.5 0 1 0 21 0a10.5 10.5 0 1 0 -21 0zM791.9 524.4a10.5 10.5 0 1 0 21 0a10.5 10.5 0 1 0 -21 0zM794.3 524.5a10.5 10.5 0 1 0 21 0a10.5 10.5 0 1 0 -21 0zM796.6 525.8a10.5 10.5 0 1 0 21 0a10.5 10.5 0 1 0 -21 0zM798.9 531.9a10.5 10.5 0 1 0 21 0a10.5 10.5 0 1 0 -21 0zM801.2 534.5a10.5 10.5 0 1 0 21 0a10.5 10.5 0 1 0 -21 0zM803.6 532.8a10.5 10.5 0 1 0 21 0a10.5 10.5 0 1 0 -21 0zM805.9 537.9a10.5 10.5 0 1 0 21 0a10.5 10.5 0 1 0 -21 0zM808.2 537.6a10.5 10.5 0 1 0 21 0a10.5 10.5 0 1 0 -21 0zM810.6 539.1a10.5 10.5 0 1 0 21 0a10.5 10.5 0 1 0 -21 0zM812.9 539.3a10.5 10.5 0 1 0 21 0a10.5 10.5 0 1 0 -21 0zM815.2 535.4a10.5 10.5 0 1 0 21 0a10.5 10.5 0 1 0 -21 0zM817.5 536.2a10.5 10.5 0 1 0 21 0a10.5 10.5 0 1 0 -21 0zM819.9 533.6a10.5 10.5 0 1 0 21 0a10.5 10.5 0 1 0 -21 0zM822.2 534.8a10.5 10.5 0 1 0 21 0a10.5 10.5 0 1 0 -21 0zM824.5 532.3a10.5 10.5 0 1 0 21 0a10.5 10.5 0 1 0 -21 0zM826.9 532.7a10.5 10.5 0 1 0 21 0a10.5 10.5 0 1 0 -21 0zM829.2 531.5a10.5 10.5 0 1 0 21 0a10.5 10.5 0 1 0 -21 0zM831.5 529a10.5 10.5 0 1 0 21 0a10.5 10.5 0 1 0 -21 0zM833.9 529.7a10.5 10.5 0 1 0 21 0a10.5 10.5 0 1 0 -21 0zM836.2 534a10.5 10.5 0 1 0 21 0a10.5 10.5 0 1 0 -21 0zM838.5 532.7a10.5 10.5 0 1 0 21 0a10.5 10.5 0 1 0 -21 0zM840.8 531.6a10.5 10.5 0 1 0 21 0a10.5 10.5 0 1 0 -21 0zM843.2 532.3a10.5 10.5 0 1 0 21 0a10.5 10.5 0 1 0 -21 0zM845.5 537.9a10.5 10.5 0 1 0 21 0a10.5 10.5 0 1 0 -21 0zM847.8 536.8a10.5 10.5 0 1 0 21 0a10.5 10.5 0 1 0 -21 0zM850.2 534.5a10.5 10.5 0 1 0 21 0a10.5 10.5 0 1 0 -21 0zM852.5 536.9a10.5 10.5 0 1 0 21 0a10.5 10.5 0 1 0 -21 0zM854.8 537a10.5 10.5 0 1 0 21 0a10.5 10.5 0 1 0 -21 0zM857.1 536.7a10.5 10.5 0 1 0 21 0a10.5 10.5 0 1 0 -21 0zM859.5 539.4a10.5 10.5 0 1 0 21 0a10.5 10.5 0 1 0 -21 0zM861.8 539.6a10.5 10.5 0 1 0 21 0a10.5 10.5 0 1 0 -21 0zM864.1 535.6a10.5 10.5 0 1 0 21 0a10.5 10.5 0 1 0 -21 0zM866.5 535.8a10.5 10.5 0 1 0 21 0a10.5 10.5 0 1 0 -21 0zM868.8 536a10.5 10.5 0 1 0 21 0a10.5 10.5 0 1 0 -21 0zM871.1 536.7a10.5 10.5 0 1 0 21 0a10.5 10.5 0 1 0 -21 0zM873.4 534.1a10.5 10.5 0 1 0 21 0a10.5 10.5 0 1 0 -21 0zM875.8 533.1a10.5 10.5 0 1 0 21 0a10.5 10.5 0 1 0 -21 0zM878.1 530.8a10.5 10.5 0 1 0 21 0a10.5 10.5 0 1 0 -21 0zM880.4 527.5a10.5 10.5 0 1 0 21 0a10.5 10.5 0 1 0 -21 0zM882.8 529a10.5 10.5 0 1 0 21 0a10.5 10.5 0 1 0 -21 0zM885.1 523.4a10.5 10.5 0 1 0 21 0a10.5 10.5 0 1 0 -21 0zM887.4 526.4a10.5 10.5 0 1 0 21 0a10.5 10.5 0 1 0 -21 0zM889.7 523.9a10.5 10.5 0 1 0 21 0a10.5 10.5 0 1 0 -21 0zM892.1 525.3a10.5 10.5 0 1 0 21 0a10.5 10.5 0 1 0 -21 0zM894.4 527.8a10.5 10.5 0 1 0 21 0a10.5 10.5 0 1 0 -21 0zM896.7 525.6a10.5 10.5 0 1 0 21 0a10.5 10.5 0 1 0 -21 0zM899.1 523.2a10.5 10.5 0 1 0 21 0a10.5 10.5 0 1 0 -21 0zM901.4 525a10.5 10.5 0 1 0 21 0a10.5 10.5 0 1 0 -21 0zM903.7 526.2a10.5 10.5 0 1 0 21 0a10.5 10.5 0 1 0 -21 0zM906 522.6a10.5 10.5 0 1 0 21 0a10.5 10.5 0 1 0 -21 0zM908.4 522.8a10.5 10.5 0 1 0 21 0a10.5 10.5 0 1 0 -21 0zM910.7 520.8a10.5 10.5 0 1 0 21 0a10.5 10.5 0 1 0 -21 0zM913 522.6a10.5 10.5 0 1 0 21 0a10.5 10.5 0 1 0 -21 0zM915.4 521a10.5 10.5 0 1 0 21 0a10.5 10.5 0 1 0 -21 0zM917.7 520.8a10.5 10.5 0 1 0 21 0a10.5 10.5 0 1 0 -21 0zM920 519a10.5 10.5 0 1 0 21 0a10.5 10.5 0 1 0 -21 0zM922.4 519.9a10.5 10.5 0 1 0 21 0a10.5 10.5 0 1 0 -21 0zM924.7 516.8a10.5 10.5 0 1 0 21 0a10.5 10.5 0 1 0 -21 0zM927 519.8a10.5 10.5 0 1 0 21 0a10.5 10.5 0 1 0 -21 0zM929.3 519.3a10.5 10.5 0 1 0 21 0a10.5 10.5 0 1 0 -21 0zM931.7 516.3a10.5 10.5 0 1 0 21 0a10.5 10.5 0 1 0 -21 0zM934 515.5a10.5 10.5 0 1 0 21 0a10.5 10.5 0 1 0 -21 0zM936.3 516.7a10.5 10.5 0 1 0 21 0a10.5 10.5 0 1 0 -21 0zM938.7 513.2a10.5 10.5 0 1 0 21 0a10.5 10.5 0 1 0 -21 0zM941 515.1a10.5 10.5 0 1 0 21 0a10.5 10.5 0 1 0 -21 0zM943.3 511.9a10.5 10.5 0 1 0 21 0a10.5 10.5 0 1 0 -21 0zM945.6 513.4a10.5 10.5 0 1 0 21 0a10.5 10.5 0 1 0 -21 0zM948 510.9a10.5 10.5 0 1 0 21 0a10.5 10.5 0 1 0 -21 0zM950.3 511.7a10.5 10.5 0 1 0 21 0a10.5 10.5 0 1 0 -21 0zM952.6 512.7a10.5 10.5 0 1 0 21 0a10.5 10.5 0 1 0 -21 0zM955 507.8a10.5 10.5 0 1 0 21 0a10.5 10.5 0 1 0 -21 0zM957.3 510.9a10.5 10.5 0 1 0 21 0a10.5 10.5 0 1 0 -21 0zM959.6 509a10.5 10.5 0 1 0 21 0a10.5 10.5 0 1 0 -21 0zM961.9 507.3a10.5 10.5 0 1 0 21 0a10.5 10.5 0 1 0 -21 0zM964.3 506.2a10.5 10.5 0 1 0 21 0a10.5 10.5 0 1 0 -21 0zM966.6 503.7a10.5 10.5 0 1 0 21 0a10.5 10.5 0 1 0 -21 0zM968.9 503.6a10.5 10.5 0 1 0 21 0a10.5 10.5 0 1 0 -21 0zM971.3 504.4a10.5 10.5 0 1 0 21 0a10.5 10.5 0 1 0 -21 0zM973.6 500.7a10.5 10.5 0 1 0 21 0a10.5 10.5 0 1 0 -21 0zM975.9 502.5a10.5 10.5 0 1 0 21 0a10.5 10.5 0 1 0 -21 0zM978.2 502.9a10.5 10.5 0 1 0 21 0a10.5 10.5 0 1 0 -21 0zM980.6 501.6a10.5 10.5 0 1 0 21 0a10.5 10.5 0 1 0 -21 0zM982.9 499.4a10.5 10.5 0 1 0 21 0a10.5 10.5 0 1 0 -21 0zM985.2 497.2a10.5 10.5 0 1 0 21 0a10.5 10.5 0 1 0 -21 0zM987.6 492.3a10.5 10.5 0 1 0 21 0a10.5 10.5 0 1 0 -21 0zM989.9 494.5a10.5 10.5 0 1 0 21 0a10.5 10.5 0 1 0 -21 0zM992.2 489a10.5 10.5 0 1 0 21 0a10.5 10.5 0 1 0 -21 0zM994.6 490.6a10.5 10.5 0 1 0 21 0a10.5 10.5 0 1 0 -21 0zM996.9 488.9a10.5 10.5 0 1 0 21 0a10.5 10.5 0 1 0 -21 0zM999.2 486a10.5 10.5 0 1 0 21 0a10.5 10.5 0 1 0 -21 0zM1001.5 484a10.5 10.5 0 1 0 21 0a10.5 10.5 0 1 0 -21 0zM1003.9 480.9a10.5 10.5 0 1 0 21 0a10.5 10.5 0 1 0 -21 0zM1006.2 481.1a10.5 10.5 0 1 0 21 0a10.5 10.5 0 1 0 -21 0zM1008.5 478.5a10.5 10.5 0 1 0 21 0a10.5 10.5 0 1 0 -21 0zM1010.9 476.2a10.5 10.5 0 1 0 21 0a10.5 10.5 0 1 0 -21 0zM1013.2 474.7a10.5 10.5 0 1 0 21 0a10.5 10.5 0 1 0 -21 0zM1015.5 476.6a10.5 10.5 0 1 0 21 0a10.5 10.5 0 1 0 -21 0zM1017.8 477.3a10.5 10.5 0 1 0 21 0a10.5 10.5 0 1 0 -21 0zM1020.2 474.6a10.5 10.5 0 1 0 21 0a10.5 10.5 0 1 0 -21 0zM1022.5 475.2a10.5 10.5 0 1 0 21 0a10.5 10.5 0 1 0 -21 0zM1024.8 477.7a10.5 10.5 0 1 0 21 0a10.5 10.5 0 1 0 -21 0zM1027.2 478.3a10.5 10.5 0 1 0 21 0a10.5 10.5 0 1 0 -21 0zM1029.5 479.8a10.5 10.5 0 1 0 21 0a10.5 10.5 0 1 0 -21 0zM1031.8 483.2a10.5 10.5 0 1 0 21 0a10.5 10.5 0 1 0 -21 0zM1034.1 485.2a10.5 10.5 0 1 0 21 0a10.5 10.5 0 1 0 -21 0zM1036.5 488a10.5 10.5 0 1 0 21 0a10.5 10.5 0 1 0 -21 0zM1038.8 489.6a10.5 10.5 0 1 0 21 0a10.5 10.5 0 1 0 -21 0zM1041.1 494.7a10.5 10.5 0 1 0 21 0a10.5 10.5 0 1 0 -21 0zM1043.5 495.6a10.5 10.5 0 1 0 21 0a10.5 10.5 0 1 0 -21 0zM1045.8 501.4a10.5 10.5 0 1 0 21 0a10.5 10.5 0 1 0 -21 0zM1048.1 508.4a10.5 10.5 0 1 0 21 0a10.5 10.5 0 1 0 -21 0zM1050.4 517.3a10.5 10.5 0 1 0 21 0a10.5 10.5 0 1 0 -21 0zM1052.8 522a10.5 10.5 0 1 0 21 0a10.5 10.5 0 1 0 -21 0zM1055.1 537.5a10.5 10.5 0 1 0 21 0a10.5 10.5 0 1 0 -21 0zM1057.4 549.6a10.5 10.5 0 1 0 21 0a10.5 10.5 0 1 0 -21 0zM1059.8 574.2a10.5 10.5 0 1 0 21 0a10.5 10.5 0 1 0 -21 0zM1062.1 594.4a10.5 10.5 0 1 0 21 0a10.5 10.5 0 1 0 -21 0zM1064.4 612.8a10.5 10.5 0 1 0 21 0a10.5 10.5 0 1 0 -21 0zM1066.8 632.8a10.5 10.5 0 1 0 21 0a10.5 10.5 0 1 0 -21 0zM1069.1 650a10.5 10.5 0 1 0 21 0a10.5 10.5 0 1 0 -21 0zM1071.4 670.7a10.5 10.5 0 1 0 21 0a10.5 10.5 0 1 0 -21 0zM1073.7 692.6a10.5 10.5 0 1 0 21 0a10.5 10.5 0 1 0 -21 0zM1076.1 717.4a10.5 10.5 0 1 0 21 0a10.5 10.5 0 1 0 -21 0zM1078.4 739.2a10.5 10.5 0 1 0 21 0a10.5 10.5 0 1 0 -21 0zM1080.7 760.6a10.5 10.5 0 1 0 21 0a10.5 10.5 0 1 0 -21 0zM1083.1 784.2a10.5 10.5 0 1 0 21 0a10.5 10.5 0 1 0 -21 0zM1085.4 806.6a10.5 10.5 0 1 0 21 0a10.5 10.5 0 1 0 -21 0zM1087.7 831.2a10.5 10.5 0 1 0 21 0a10.5 10.5 0 1 0 -21 0zM1090 860.3a10.5 10.5 0 1 0 21 0a10.5 10.5 0 1 0 -21 0zM1092.4 882.7a10.5 10.5 0 1 0 21 0a10.5 10.5 0 1 0 -21 0zM1094.7 907a10.5 10.5 0 1 0 21 0a10.5 10.5 0 1 0 -21 0zM1097 932.2a10.5 10.5 0 1 0 21 0a10.5 10.5 0 1 0 -21 0zM1099.4 953.7a10.5 10.5 0 1 0 21 0a10.5 10.5 0 1 0 -21 0zM1101.7 978a10.5 10.5 0 1 0 21 0a10.5 10.5 0 1 0 -21 0zM1104 1000.5a10.5 10.5 0 1 0 21 0a10.5 10.5 0 1 0 -21 0zM1106.3 1024.8a10.5 10.5 0 1 0 21 0a10.5 10.5 0 1 0 -21 0zM1108.7 1047.2a10.5 10.5 0 1 0 21 0a10.5 10.5 0 1 0 -21 0zM1111 1065.9a10.5 10.5 0 1 0 21 0a10.5 10.5 0 1 0 -21 0zM1113.3 1084.6a10.5 10.5 0 1 0 21 0a10.5 10.5 0 1 0 -21 0zM1115.7 1103.3a10.5 10.5 0 1 0 21 0a10.5 10.5 0 1 0 -21 0zM1118 1119.2a10.5 10.5 0 1 0 21 0a10.5 10.5 0 1 0 -21 0zM1120.3 1136a10.5 10.5 0 1 0 21 0a10.5 10.5 0 1 0 -21 0zM1122.6 1149.7a10.5 10.5 0 1 0 21 0a10.5 10.5 0 1 0 -21 0zM1125 1158.9a10.5 10.5 0 1 0 21 0a10.5 10.5 0 1 0 -21 0zM1127.3 1171.2a10.5 10.5 0 1 0 21 0a10.5 10.5 0 1 0 -21 0zM1129.6 1184.2a10.5 10.5 0 1 0 21 0a10.5 10.5 0 1 0 -21 0zM1132 1194.1a10.5 10.5 0 1 0 21 0a10.5 10.5 0 1 0 -21 0zM1134.3 1202a10.5 10.5 0 1 0 21 0a10.5 10.5 0 1 0 -21 0zM1136.6 1213.1a10.5 10.5 0 1 0 21 0a10.5 10.5 0 1 0 -21 0zM1138.9 1228.4a10.5 10.5 0 1 0 21 0a10.5 10.5 0 1 0 -21 0zM1141.3 1234.5a10.5 10.5 0 1 0 21 0a10.5 10.5 0 1 0 -21 0zM1143.6 1246.4a10.5 10.5 0 1 0 21 0a10.5 10.5 0 1 0 -21 0zM1145.9 1260.3a10.5 10.5 0 1 0 21 0a10.5 10.5 0 1 0 -21 0zM1148.3 1262.1a10.5 10.5 0 1 0 21 0a10.5 10.5 0 1 0 -21 0zM1150.6 1269.1a10.5 10.5 0 1 0 21 0a10.5 10.5 0 1 0 -21 0zM1152.9 1275.6a10.5 10.5 0 1 0 21 0a10.5 10.5 0 1 0 -21 0zM1155.3 1281.1a10.5 10.5 0 1 0 21 0a10.5 10.5 0 1 0 -21 0zM1157.6 1289.1a10.5 10.5 0 1 0 21 0a10.5 10.5 0 1 0 -21 0zM1159.9 1295.2a10.5 10.5 0 1 0 21 0a10.5 10.5 0 1 0 -21 0zM1162.2 1299.3a10.5 10.5 0 1 0 21 0a10.5 10.5 0 1 0 -21 0zM1164.6 1303.7a10.5 10.5 0 1 0 21 0a10.5 10.5 0 1 0 -21 0zM1166.9 1312.8a10.5 10.5 0 1 0 21 0a10.5 10.5 0 1 0 -21 0zM1169.2 1318.2a10.5 10.5 0 1 0 21 0a10.5 10.5 0 1 0 -21 0zM1171.6 1322.1a10.5 10.5 0 1 0 21 0a10.5 10.5 0 1 0 -21 0zM1173.9 1325.2a10.5 10.5 0 1 0 21 0a10.5 10.5 0 1 0 -21 0zM1176.2 1332.4a10.5 10.5 0 1 0 21 0a10.5 10.5 0 1 0 -21 0zM1178.5 1338a10.5 10.5 0 1 0 21 0a10.5 10.5 0 1 0 -21 0zM1180.9 1342.1a10.5 10.5 0 1 0 21 0a10.5 10.5 0 1 0 -21 0zM1183.2 1348.8a10.5 10.5 0 1 0 21 0a10.5 10.5 0 1 0 -21 0zM1185.5 1350.3a10.5 10.5 0 1 0 21 0a10.5 10.5 0 1 0 -21 0zM1187.9 1354.8a10.5 10.5 0 1 0 21 0a10.5 10.5 0 1 0 -21 0zM1190.2 1356.7a10.5 10.5 0 1 0 21 0a10.5 10.5 0 1 0 -21 0zM1192.5 1362.8a10.5 10.5 0 1 0 21 0a10.5 10.5 0 1 0 -21 0zM1194.8 1367.7a10.5 10.5 0 1 0 21 0a10.5 10.5 0 1 0 -21 0zM1197.2 1369.7a10.5 10.5 0 1 0 21 0a10.5 10.5 0 1 0 -21 0zM1199.5 1369.3a10.5 10.5 0 1 0 21 0a10.5 10.5 0 1 0 -21 0zM1201.8 1374.9a10.5 10.5 0 1 0 21 0a10.5 10.5 0 1 0 -21 0zM1204.2 1375.5a10.5 10.5 0 1 0 21 0a10.5 10.5 0 1 0 -21 0zM1206.5 1376a10.5 10.5 0 1 0 21 0a10.5 10.5 0 1 0 -21 0zM1208.8 1377.9a10.5 10.5 0 1 0 21 0a10.5 10.5 0 1 0 -21 0zM1211.1 1381.6a10.5 10.5 0 1 0 21 0a10.5 10.5 0 1 0 -21 0zM1213.5 1380.1a10.5 10.5 0 1 0 21 0a10.5 10.5 0 1 0 -21 0zM1215.8 1383.3a10.5 10.5 0 1 0 21 0a10.5 10.5 0 1 0 -21 0zM1218.1 1384.6a10.5 10.5 0 1 0 21 0a10.5 10.5 0 1 0 -21 0zM1220.5 1384.6a10.5 10.5 0 1 0 21 0a10.5 10.5 0 1 0 -21 0zM1222.8 1387.3a10.5 10.5 0 1 0 21 0a10.5 10.5 0 1 0 -21 0zM1225.1 1386.2a10.5 10.5 0 1 0 21 0a10.5 10.5 0 1 0 -21 0zM1227.5 1387.1a10.5 10.5 0 1 0 21 0a10.5 10.5 0 1 0 -21 0zM1229.8 1387.2a10.5 10.5 0 1 0 21 0a10.5 10.5 0 1 0 -21 0zM1232.1 1391.3a10.5 10.5 0 1 0 21 0a10.5 10.5 0 1 0 -21 0zM1234.4 1389a10.5 10.5 0 1 0 21 0a10.5 10.5 0 1 0 -21 0zM1236.8 1390.9a10.5 10.5 0 1 0 21 0a10.5 10.5 0 1 0 -21 0zM1239.1 1389.5a10.5 10.5 0 1 0 21 0a10.5 10.5 0 1 0 -21 0zM1241.4 1392.1a10.5 10.5 0 1 0 21 0a10.5 10.5 0 1 0 -21 0zM1243.8 1392.2a10.5 10.5 0 1 0 21 0a10.5 10.5 0 1 0 -21 0zM1246.1 1387.6a10.5 10.5 0 1 0 21 0a10.5 10.5 0 1 0 -21 0zM1248.4 1392.5a10.5 10.5 0 1 0 21 0a10.5 10.5 0 1 0 -21 0zM1250.7 1391.9a10.5 10.5 0 1 0 21 0a10.5 10.5 0 1 0 -21 0zM1253.1 1390.5a10.5 10.5 0 1 0 21 0a10.5 10.5 0 1 0 -21 0zM1255.4 1393.9a10.5 10.5 0 1 0 21 0a10.5 10.5 0 1 0 -21 0zM1257.7 1393a10.5 10.5 0 1 0 21 0a10.5 10.5 0 1 0 -21 0zM1260.1 1396.8a10.5 10.5 0 1 0 21 0a10.5 10.5 0 1 0 -21 0zM1262.4 1396.3a10.5 10.5 0 1 0 21 0a10.5 10.5 0 1 0 -21 0zM1264.7 1398.5a10.5 10.5 0 1 0 21 0a10.5 10.5 0 1 0 -21 0zM1267 1399.5a10.5 10.5 0 1 0 21 0a10.5 10.5 0 1 0 -21 0zM1269.4 1402.3a10.5 10.5 0 1 0 21 0a10.5 10.5 0 1 0 -21 0zM1271.7 1404.7a10.5 10.5 0 1 0 21 0a10.5 10.5 0 1 0 -21 0zM1274 1406.5a10.5 10.5 0 1 0 21 0a10.5 10.5 0 1 0 -21 0zM1276.4 1404.8a10.5 10.5 0 1 0 21 0a10.5 10.5 0 1 0 -21 0zM1278.7 1407.3a10.5 10.5 0 1 0 21 0a10.5 10.5 0 1 0 -21 0zM1281 1405.8a10.5 10.5 0 1 0 21 0a10.5 10.5 0 1 0 -21 0zM1283.3 1408.9a10.5 10.5 0 1 0 21 0a10.5 10.5 0 1 0 -21 0zM1285.7 1413.2a10.5 10.5 0 1 0 21 0a10.5 10.5 0 1 0 -21 0zM1288 1410.3a10.5 10.5 0 1 0 21 0a10.5 10.5 0 1 0 -21 0zM1290.3 1414.9a10.5 10.5 0 1 0 21 0a10.5 10.5 0 1 0 -21 0zM1292.7 1413.8a10.5 10.5 0 1 0 21 0a10.5 10.5 0 1 0 -21 0zM1295 1412a10.5 10.5 0 1 0 21 0a10.5 10.5 0 1 0 -21 0zM1297.3 1414.5a10.5 10.5 0 1 0 21 0a10.5 10.5 0 1 0 -21 0zM1299.7 1412a10.5 10.5 0 1 0 21 0a10.5 10.5 0 1 0 -21 0zM1302 1415.1a10.5 10.5 0 1 0 21 0a10.5 10.5 0 1 0 -21 0zM1304.3 1411.1a10.5 10.5 0 1 0 21 0a10.5 10.5 0 1 0 -21 0zM1306.6 1411.3a10.5 10.5 0 1 0 21 0a10.5 10.5 0 1 0 -21 0zM1309 1414.4a10.5 10.5 0 1 0 21 0a10.5 10.5 0 1 0 -21 0zM1311.3 1413a10.5 10.5 0 1 0 21 0a10.5 10.5 0 1 0 -21 0zM1313.6 1411.5a10.5 10.5 0 1 0 21 0a10.5 10.5 0 1 0 -21 0zM1316 1413.3a10.5 10.5 0 1 0 21 0a10.5 10.5 0 1 0 -21 0zM1318.3 1412.3a10.5 10.5 0 1 0 21 0a10.5 10.5 0 1 0 -21 0zM1320.6 1413.6a10.5 10.5 0 1 0 21 0a10.5 10.5 0 1 0 -21 0zM1322.9 1414.6a10.5 10.5 0 1 0 21 0a10.5 10.5 0 1 0 -21 0zM1325.3 1415.1a10.5 10.5 0 1 0 21 0a10.5 10.5 0 1 0 -21 0zM1327.6 1411.2a10.5 10.5 0 1 0 21 0a10.5 10.5 0 1 0 -21 0zM1329.9 1413.9a10.5 10.5 0 1 0 21 0a10.5 10.5 0 1 0 -21 0zM1332.3 1415.8a10.5 10.5 0 1 0 21 0a10.5 10.5 0 1 0 -21 0zM1334.6 1413.2a10.5 10.5 0 1 0 21 0a10.5 10.5 0 1 0 -21 0zM1336.9 1414.8a10.5 10.5 0 1 0 21 0a10.5 10.5 0 1 0 -21 0zM1339.2 1411.5a10.5 10.5 0 1 0 21 0a10.5 10.5 0 1 0 -21 0zM1341.6 1415.3a10.5 10.5 0 1 0 21 0a10.5 10.5 0 1 0 -21 0zM1343.9 1413.8a10.5 10.5 0 1 0 21 0a10.5 10.5 0 1 0 -21 0zM1346.2 1415.2a10.5 10.5 0 1 0 21 0a10.5 10.5 0 1 0 -21 0zM1348.6 1414.6a10.5 10.5 0 1 0 21 0a10.5 10.5 0 1 0 -21 0zM1350.9 1415a10.5 10.5 0 1 0 21 0a10.5 10.5 0 1 0 -21 0zM1353.2 1410.8a10.5 10.5 0 1 0 21 0a10.5 10.5 0 1 0 -21 0zM1355.5 1414a10.5 10.5 0 1 0 21 0a10.5 10.5 0 1 0 -21 0zM1357.9 1411.3a10.5 10.5 0 1 0 21 0a10.5 10.5 0 1 0 -21 0zM1360.2 1411.6a10.5 10.5 0 1 0 21 0a10.5 10.5 0 1 0 -21 0zM1362.5 1411.8a10.5 10.5 0 1 0 21 0a10.5 10.5 0 1 0 -21 0zM1364.9 1413.1a10.5 10.5 0 1 0 21 0a10.5 10.5 0 1 0 -21 0zM1367.2 1413.2a10.5 10.5 0 1 0 21 0a10.5 10.5 0 1 0 -21 0zM1369.5 1414.6a10.5 10.5 0 1 0 21 0a10.5 10.5 0 1 0 -21 0zM1371.8 1409.9a10.5 10.5 0 1 0 21 0a10.5 10.5 0 1 0 -21 0zM1374.2 1410.8a10.5 10.5 0 1 0 21 0a10.5 10.5 0 1 0 -21 0zM1376.5 1411.5a10.5 10.5 0 1 0 21 0a10.5 10.5 0 1 0 -21 0zM1378.8 1413.7a10.5 10.5 0 1 0 21 0a10.5 10.5 0 1 0 -21 0zM1381.2 1412.3a10.5 10.5 0 1 0 21 0a10.5 10.5 0 1 0 -21 0zM1383.5 1412a10.5 10.5 0 1 0 21 0a10.5 10.5 0 1 0 -21 0zM1385.8 1413.2a10.5 10.5 0 1 0 21 0a10.5 10.5 0 1 0 -21 0zM1388.2 1412.6a10.5 10.5 0 1 0 21 0a10.5 10.5 0 1 0 -21 0zM1390.5 1410.7a10.5 10.5 0 1 0 21 0a10.5 10.5 0 1 0 -21 0zM1392.8 1409.6a10.5 10.5 0 1 0 21 0a10.5 10.5 0 1 0 -21 0zM1395.1 1411.4a10.5 10.5 0 1 0 21 0a10.5 10.5 0 1 0 -21 0zM1397.5 1413.5a10.5 10.5 0 1 0 21 0a10.5 10.5 0 1 0 -21 0zM1399.8 1412.1a10.5 10.5 0 1 0 21 0a10.5 10.5 0 1 0 -21 0zM1402.1 1409.4a10.5 10.5 0 1 0 21 0a10.5 10.5 0 1 0 -21 0zM1404.5 1411.3a10.5 10.5 0 1 0 21 0a10.5 10.5 0 1 0 -21 0zM1406.8 1411a10.5 10.5 0 1 0 21 0a10.5 10.5 0 1 0 -21 0zM1409.1 1412a10.5 10.5 0 1 0 21 0a10.5 10.5 0 1 0 -21 0zM1411.4 1412a10.5 10.5 0 1 0 21 0a10.5 10.5 0 1 0 -21 0zM1413.8 1413.9a10.5 10.5 0 1 0 21 0a10.5 10.5 0 1 0 -21 0zM1416.1 1410.8a10.5 10.5 0 1 0 21 0a10.5 10.5 0 1 0 -21 0zM1418.4 1411.1a10.5 10.5 0 1 0 21 0a10.5 10.5 0 1 0 -21 0zM1420.8 1412.2a10.5 10.5 0 1 0 21 0a10.5 10.5 0 1 0 -21 0zM1423.1 1413.5a10.5 10.5 0 1 0 21 0a10.5 10.5 0 1 0 -21 0zM1425.4 1412.6a10.5 10.5 0 1 0 21 0a10.5 10.5 0 1 0 -21 0zM1427.7 1411.5a10.5 10.5 0 1 0 21 0a10.5 10.5 0 1 0 -21 0zM1430.1 1413.2a10.5 10.5 0 1 0 21 0a10.5 10.5 0 1 0 -21 0zM1432.4 1411.6a10.5 10.5 0 1 0 21 0a10.5 10.5 0 1 0 -21 0zM1434.7 1414.4a10.5 10.5 0 1 0 21 0a10.5 10.5 0 1 0 -21 0zM1437.1 1411.3a10.5 10.5 0 1 0 21 0a10.5 10.5 0 1 0 -21 0zM1439.4 1410.9a10.5 10.5 0 1 0 21 0a10.5 10.5 0 1 0 -21 0zM1441.7 1414.8a10.5 10.5 0 1 0 21 0a10.5 10.5 0 1 0 -21 0zM1444 1412.5a10.5 10.5 0 1 0 21 0a10.5 10.5 0 1 0 -21 0zM1446.4 1415.5a10.5 10.5 0 1 0 21 0a10.5 10.5 0 1 0 -21 0zM1448.7 1414.7a10.5 10.5 0 1 0 21 0a10.5 10.5 0 1 0 -21 0zM1451 1414.6a10.5 10.5 0 1 0 21 0a10.5 10.5 0 1 0 -21 0zM1453.4 1412.8a10.5 10.5 0 1 0 21 0a10.5 10.5 0 1 0 -21 0zM1455.7 1416.6a10.5 10.5 0 1 0 21 0a10.5 10.5 0 1 0 -21 0zM1458 1413.4a10.5 10.5 0 1 0 21 0a10.5 10.5 0 1 0 -21 0zM1460.4 1418.2a10.5 10.5 0 1 0 21 0a10.5 10.5 0 1 0 -21 0zM1462.7 1418.1a10.5 10.5 0 1 0 21 0a10.5 10.5 0 1 0 -21 0zM1465 1415.6a10.5 10.5 0 1 0 21 0a10.5 10.5 0 1 0 -21 0zM1467.3 1415.1a10.5 10.5 0 1 0 21 0a10.5 10.5 0 1 0 -21 0zM1469.7 1419.2a10.5 10.5 0 1 0 21 0a10.5 10.5 0 1 0 -21 0zM1472 1417.2a10.5 10.5 0 1 0 21 0a10.5 10.5 0 1 0 -21 0zM1474.3 1415.6a10.5 10.5 0 1 0 21 0a10.5 10.5 0 1 0 -21 0zM1476.7 1417.6a10.5 10.5 0 1 0 21 0a10.5 10.5 0 1 0 -21 0zM1479 1416.4a10.5 10.5 0 1 0 21 0a10.5 10.5 0 1 0 -21 0zM1481.3 1417.3a10.5 10.5 0 1 0 21 0a10.5 10.5 0 1 0 -21 0zM1483.6 1418.6a10.5 10.5 0 1 0 21 0a10.5 10.5 0 1 0 -21 0zM1486 1420.1a10.5 10.5 0 1 0 21 0a10.5 10.5 0 1 0 -21 0zM1488.3 1419.6a10.5 10.5 0 1 0 21 0a10.5 10.5 0 1 0 -21 0zM1490.6 1416.5a10.5 10.5 0 1 0 21 0a10.5 10.5 0 1 0 -21 0zM1493 1418.2a10.5 10.5 0 1 0 21 0a10.5 10.5 0 1 0 -21 0zM1495.3 1418.4a10.5 10.5 0 1 0 21 0a10.5 10.5 0 1 0 -21 0zM1497.6 1421a10.5 10.5 0 1 0 21 0a10.5 10.5 0 1 0 -21 0zM1499.9 1416.6a10.5 10.5 0 1 0 21 0a10.5 10.5 0 1 0 -21 0zM1502.3 1418.9a10.5 10.5 0 1 0 21 0a10.5 10.5 0 1 0 -21 0zM1504.6 1421a10.5 10.5 0 1 0 21 0a10.5 10.5 0 1 0 -21 0zM1506.9 1418.4a10.5 10.5 0 1 0 21 0a10.5 10.5 0 1 0 -21 0zM1509.3 1417.5a10.5 10.5 0 1 0 21 0a10.5 10.5 0 1 0 -21 0zM1511.6 1418.8a10.5 10.5 0 1 0 21 0a10.5 10.5 0 1 0 -21 0zM1513.9 1417.4a10.5 10.5 0 1 0 21 0a10.5 10.5 0 1 0 -21 0zM1516.2 1420.2a10.5 10.5 0 1 0 21 0a10.5 10.5 0 1 0 -21 0zM1518.6 1415.7a10.5 10.5 0 1 0 21 0a10.5 10.5 0 1 0 -21 0zM1520.9 1416.1a10.5 10.5 0 1 0 21 0a10.5 10.5 0 1 0 -21 0zM1523.2 1415.3a10.5 10.5 0 1 0 21 0a10.5 10.5 0 1 0 -21 0zM1525.6 1418.2a10.5 10.5 0 1 0 21 0a10.5 10.5 0 1 0 -21 0zM1527.9 1415.8a10.5 10.5 0 1 0 21 0a10.5 10.5 0 1 0 -21 0zM1530.2 1418.6a10.5 10.5 0 1 0 21 0a10.5 10.5 0 1 0 -21 0zM1532.6 1418.4a10.5 10.5 0 1 0 21 0a10.5 10.5 0 1 0 -21 0zM1534.9 1418.4a10.5 10.5 0 1 0 21 0a10.5 10.5 0 1 0 -21 0zM1537.2 1414.7a10.5 10.5 0 1 0 21 0a10.5 10.5 0 1 0 -21 0zM1539.5 1413.2a10.5 10.5 0 1 0 21 0a10.5 10.5 0 1 0 -21 0zM1541.9 1414.9a10.5 10.5 0 1 0 21 0a10.5 10.5 0 1 0 -21 0zM1544.2 1417.6a10.5 10.5 0 1 0 21 0a10.5 10.5 0 1 0 -21 0zM1546.5 1416.8a10.5 10.5 0 1 0 21 0a10.5 10.5 0 1 0 -21 0zM1548.9 1413.5a10.5 10.5 0 1 0 21 0a10.5 10.5 0 1 0 -21 0zM1551.2 1416.9a10.5 10.5 0 1 0 21 0a10.5 10.5 0 1 0 -21 0zM1553.5 1418.2a10.5 10.5 0 1 0 21 0a10.5 10.5 0 1 0 -21 0zM1555.8 1418.6a10.5 10.5 0 1 0 21 0a10.5 10.5 0 1 0 -21 0zM1558.2 1417.5a10.5 10.5 0 1 0 21 0a10.5 10.5 0 1 0 -21 0zM1560.5 1418.5a10.5 10.5 0 1 0 21 0a10.5 10.5 0 1 0 -21 0zM1562.8 1418.5a10.5 10.5 0 1 0 21 0a10.5 10.5 0 1 0 -21 0zM1565.2 1416.1a10.5 10.5 0 1 0 21 0a10.5 10.5 0 1 0 -21 0zM1567.5 1414.9a10.5 10.5 0 1 0 21 0a10.5 10.5 0 1 0 -21 0zM1569.8 1418.1a10.5 10.5 0 1 0 21 0a10.5 10.5 0 1 0 -21 0zM1572.1 1415.2a10.5 10.5 0 1 0 21 0a10.5 10.5 0 1 0 -21 0zM1574.5 1416.5a10.5 10.5 0 1 0 21 0a10.5 10.5 0 1 0 -21 0zM1576.8 1419.6a10.5 10.5 0 1 0 21 0a10.5 10.5 0 1 0 -21 0zM1579.1 1417.5a10.5 10.5 0 1 0 21 0a10.5 10.5 0 1 0 -21 0zM1581.5 1417.3a10.5 10.5 0 1 0 21 0a10.5 10.5 0 1 0 -21 0zM1583.8 1419.6a10.5 10.5 0 1 0 21 0a10.5 10.5 0 1 0 -21 0zM1586.1 1416.4a10.5 10.5 0 1 0 21 0a10.5 10.5 0 1 0 -21 0zM1588.4 1420a10.5 10.5 0 1 0 21 0a10.5 10.5 0 1 0 -21 0zM1590.8 1419.7a10.5 10.5 0 1 0 21 0a10.5 10.5 0 1 0 -21 0zM1593.1 1417.1a10.5 10.5 0 1 0 21 0a10.5 10.5 0 1 0 -21 0zM1595.4 1417a10.5 10.5 0 1 0 21 0a10.5 10.5 0 1 0 -21 0zM1597.8 1416.1a10.5 10.5 0 1 0 21 0a10.5 10.5 0 1 0 -21 0zM1600.1 1420.2a10.5 10.5 0 1 0 21 0a10.5 10.5 0 1 0 -21 0zM1602.4 1416.7a10.5 10.5 0 1 0 21 0a10.5 10.5 0 1 0 -21 0zM1604.7 1415.9a10.5 10.5 0 1 0 21 0a10.5 10.5 0 1 0 -21 0zM1607.1 1420.4a10.5 10.5 0 1 0 21 0a10.5 10.5 0 1 0 -21 0zM1609.4 1419.1a10.5 10.5 0 1 0 21 0a10.5 10.5 0 1 0 -21 0zM1611.7 1419.5a10.5 10.5 0 1 0 21 0a10.5 10.5 0 1 0 -21 0zM1614.1 1420a10.5 10.5 0 1 0 21 0a10.5 10.5 0 1 0 -21 0zM1616.4 1416.6a10.5 10.5 0 1 0 21 0a10.5 10.5 0 1 0 -21 0zM1618.7 1417a10.5 10.5 0 1 0 21 0a10.5 10.5 0 1 0 -21 0zM1621.1 1419a10.5 10.5 0 1 0 21 0a10.5 10.5 0 1 0 -21 0zM1623.4 1416.8a10.5 10.5 0 1 0 21 0a10.5 10.5 0 1 0 -21 0zM1625.7 1419a10.5 10.5 0 1 0 21 0a10.5 10.5 0 1 0 -21 0zM1628 1420.2a10.5 10.5 0 1 0 21 0a10.5 10.5 0 1 0 -21 0zM1630.4 1419.8a10.5 10.5 0 1 0 21 0a10.5 10.5 0 1 0 -21 0zM1632.7 1419.6a10.5 10.5 0 1 0 21 0a10.5 10.5 0 1 0 -21 0zM1635 1416.7a10.5 10.5 0 1 0 21 0a10.5 10.5 0 1 0 -21 0zM1637.4 1417.7a10.5 10.5 0 1 0 21 0a10.5 10.5 0 1 0 -21 0zM1639.7 1421a10.5 10.5 0 1 0 21 0a10.5 10.5 0 1 0 -21 0zM1642 1417.1a10.5 10.5 0 1 0 21 0a10.5 10.5 0 1 0 -21 0zM1644.3 1419.2a10.5 10.5 0 1 0 21 0a10.5 10.5 0 1 0 -21 0zM1646.7 1416.8a10.5 10.5 0 1 0 21 0a10.5 10.5 0 1 0 -21 0zM1649 1421.2a10.5 10.5 0 1 0 21 0a10.5 10.5 0 1 0 -21 0zM1651.3 1417.4a10.5 10.5 0 1 0 21 0a10.5 10.5 0 1 0 -21 0zM1653.7 1418.6a10.5 10.5 0 1 0 21 0a10.5 10.5 0 1 0 -21 0zM1656 1419.2a10.5 10.5 0 1 0 21 0a10.5 10.5 0 1 0 -21 0zM1658.3 1420a10.5 10.5 0 1 0 21 0a10.5 10.5 0 1 0 -21 0zM1660.6 1421a10.5 10.5 0 1 0 21 0a10.5 10.5 0 1 0 -21 0zM1663 1419.8a10.5 10.5 0 1 0 21 0a10.5 10.5 0 1 0 -21 0zM1665.3 1417.8a10.5 10.5 0 1 0 21 0a10.5 10.5 0 1 0 -21 0zM1667.6 1416.3a10.5 10.5 0 1 0 21 0a10.5 10.5 0 1 0 -21 0zM1670 1419.4a10.5 10.5 0 1 0 21 0a10.5 10.5 0 1 0 -21 0zM1672.3 1420.6a10.5 10.5 0 1 0 21 0a10.5 10.5 0 1 0 -21 0zM1674.6 1415.7a10.5 10.5 0 1 0 21 0a10.5 10.5 0 1 0 -21 0zM1676.9 1419.4a10.5 10.5 0 1 0 21 0a10.5 10.5 0 1 0 -21 0zM1679.3 1416.3a10.5 10.5 0 1 0 21 0a10.5 10.5 0 1 0 -21 0zM1681.6 1417.6a10.5 10.5 0 1 0 21 0a10.5 10.5 0 1 0 -21 0zM1683.9 1417.8a10.5 10.5 0 1 0 21 0a10.5 10.5 0 1 0 -21 0zM1686.3 1418.1a10.5 10.5 0 1 0 21 0a10.5 10.5 0 1 0 -21 0zM1688.6 1419.9a10.5 10.5 0 1 0 21 0a10.5 10.5 0 1 0 -21 0zM1690.9 1418.3a10.5 10.5 0 1 0 21 0a10.5 10.5 0 1 0 -21 0zM1693.3 1416.7a10.5 10.5 0 1 0 21 0a10.5 10.5 0 1 0 -21 0zM1695.6 1418.3a10.5 10.5 0 1 0 21 0a10.5 10.5 0 1 0 -21 0zM1697.9 1417a10.5 10.5 0 1 0 21 0a10.5 10.5 0 1 0 -21 0zM1700.2 1416.7a10.5 10.5 0 1 0 21 0a10.5 10.5 0 1 0 -21 0zM1702.6 1416.5a10.5 10.5 0 1 0 21 0a10.5 10.5 0 1 0 -21 0zM1704.9 1417.1a10.5 10.5 0 1 0 21 0a10.5 10.5 0 1 0 -21 0zM1707.2 1416a10.5 10.5 0 1 0 21 0a10.5 10.5 0 1 0 -21 0zM1709.6 1415.8a10.5 10.5 0 1 0 21 0a10.5 10.5 0 1 0 -21 0zM1711.9 1415.3a10.5 10.5 0 1 0 21 0a10.5 10.5 0 1 0 -21 0zM1714.2 1416.8a10.5 10.5 0 1 0 21 0a10.5 10.5 0 1 0 -21 0zM1716.5 1416a10.5 10.5 0 1 0 21 0a10.5 10.5 0 1 0 -21 0zM1718.9 1418.7a10.5 10.5 0 1 0 21 0a10.5 10.5 0 1 0 -21 0zM1721.2 1418.8a10.5 10.5 0 1 0 21 0a10.5 10.5 0 1 0 -21 0zM1723.5 1416.3a10.5 10.5 0 1 0 21 0a10.5 10.5 0 1 0 -21 0zM1725.9 1417.6a10.5 10.5 0 1 0 21 0a10.5 10.5 0 1 0 -21 0zM1728.2 1419a10.5 10.5 0 1 0 21 0a10.5 10.5 0 1 0 -21 0zM1730.5 1416.3a10.5 10.5 0 1 0 21 0a10.5 10.5 0 1 0 -21 0zM1732.8 1417.1a10.5 10.5 0 1 0 21 0a10.5 10.5 0 1 0 -21 0zM1735.2 1416.4a10.5 10.5 0 1 0 21 0a10.5 10.5 0 1 0 -21 0zM1737.5 1417.4a10.5 10.5 0 1 0 21 0a10.5 10.5 0 1 0 -21 0zM1739.8 1418.8a10.5 10.5 0 1 0 21 0a10.5 10.5 0 1 0 -21 0zM1742.2 1414.6a10.5 10.5 0 1 0 21 0a10.5 10.5 0 1 0 -21 0zM1744.5 1418.6a10.5 10.5 0 1 0 21 0a10.5 10.5 0 1 0 -21 0zM1746.8 1417a10.5 10.5 0 1 0 21 0a10.5 10.5 0 1 0 -21 0zM1749.1 1417.5a10.5 10.5 0 1 0 21 0a10.5 10.5 0 1 0 -21 0zM1751.5 1416.6a10.5 10.5 0 1 0 21 0a10.5 10.5 0 1 0 -21 0zM1753.8 1417.7a10.5 10.5 0 1 0 21 0a10.5 10.5 0 1 0 -21 0zM1756.1 1414.8a10.5 10.5 0 1 0 21 0a10.5 10.5 0 1 0 -21 0zM1758.5 1416.6a10.5 10.5 0 1 0 21 0a10.5 10.5 0 1 0 -21 0zM1760.8 1414.3a10.5 10.5 0 1 0 21 0a10.5 10.5 0 1 0 -21 0zM1763.1 1415.4a10.5 10.5 0 1 0 21 0a10.5 10.5 0 1 0 -21 0zM1765.5 1416.1a10.5 10.5 0 1 0 21 0a10.5 10.5 0 1 0 -21 0zM1767.8 1413.6a10.5 10.5 0 1 0 21 0a10.5 10.5 0 1 0 -21 0zM1770.1 1412.8a10.5 10.5 0 1 0 21 0a10.5 10.5 0 1 0 -21 0zM1772.4 1416.3a10.5 10.5 0 1 0 21 0a10.5 10.5 0 1 0 -21 0zM1774.8 1416.2a10.5 10.5 0 1 0 21 0a10.5 10.5 0 1 0 -21 0zM1777.1 1415.3a10.5 10.5 0 1 0 21 0a10.5 10.5 0 1 0 -21 0zM1779.4 1413.4a10.5 10.5 0 1 0 21 0a10.5 10.5 0 1 0 -21 0zM1781.8 1414.9a10.5 10.5 0 1 0 21 0a10.5 10.5 0 1 0 -21 0zM1784.1 1411.9a10.5 10.5 0 1 0 21 0a10.5 10.5 0 1 0 -21 0zM1786.4 1414.6a10.5 10.5 0 1 0 21 0a10.5 10.5 0 1 0 -21 0zM1788.7 1414a10.5 10.5 0 1 0 21 0a10.5 10.5 0 1 0 -21 0zM1791.1 1414a10.5 10.5 0 1 0 21 0a10.5 10.5 0 1 0 -21 0zM1793.4 1413a10.5 10.5 0 1 0 21 0a10.5 10.5 0 1 0 -21 0zM1795.7 1411.7a10.5 10.5 0 1 0 21 0a10.5 10.5 0 1 0 -21 0zM1798.1 1414a10.5 10.5 0 1 0 21 0a10.5 10.5 0 1 0 -21 0zM1800.4 1412.5a10.5 10.5 0 1 0 21 0a10.5 10.5 0 1 0 -21 0zM1802.7 1413.8a10.5 10.5 0 1 0 21 0a10.5 10.5 0 1 0 -21 0zM1805 1411.7a10.5 10.5 0 1 0 21 0a10.5 10.5 0 1 0 -21 0zM1807.4 1410.1a10.5 10.5 0 1 0 21 0a10.5 10.5 0 1 0 -21 0zM1809.7 1412.2a10.5 10.5 0 1 0 21 0a10.5 10.5 0 1 0 -21 0zM1812 1412.5a10.5 10.5 0 1 0 21 0a10.5 10.5 0 1 0 -21 0zM1814.4 1413.8a10.5 10.5 0 1 0 21 0a10.5 10.5 0 1 0 -21 0zM1816.7 1413.4a10.5 10.5 0 1 0 21 0a10.5 10.5 0 1 0 -21 0zM1819 1409.1a10.5 10.5 0 1 0 21 0a10.5 10.5 0 1 0 -21 0zM1821.3 1412.5a10.5 10.5 0 1 0 21 0a10.5 10.5 0 1 0 -21 0zM1823.7 1409.8a10.5 10.5 0 1 0 21 0a10.5 10.5 0 1 0 -21 0zM1826 1411.8a10.5 10.5 0 1 0 21 0a10.5 10.5 0 1 0 -21 0zM1828.3 1410a10.5 10.5 0 1 0 21 0a10.5 10.5 0 1 0 -21 0zM1830.7 1409.6a10.5 10.5 0 1 0 21 0a10.5 10.5 0 1 0 -21 0zM1833 1410.2a10.5 10.5 0 1 0 21 0a10.5 10.5 0 1 0 -21 0zM1835.3 1410.3a10.5 10.5 0 1 0 21 0a10.5 10.5 0 1 0 -21 0zM1837.6 1410.9a10.5 10.5 0 1 0 21 0a10.5 10.5 0 1 0 -21 0zM1840 1410.5a10.5 10.5 0 1 0 21 0a10.5 10.5 0 1 0 -21 0zM1842.3 1410.5a10.5 10.5 0 1 0 21 0a10.5 10.5 0 1 0 -21 0zM1844.6 1408.8a10.5 10.5 0 1 0 21 0a10.5 10.5 0 1 0 -21 0zM1847 1410.1a10.5 10.5 0 1 0 21 0a10.5 10.5 0 1 0 -21 0zM1849.3 1408.3a10.5 10.5 0 1 0 21 0a10.5 10.5 0 1 0 -21 0zM1851.6 1409.4a10.5 10.5 0 1 0 21 0a10.5 10.5 0 1 0 -21 0zM1854 1408.4a10.5 10.5 0 1 0 21 0a10.5 10.5 0 1 0 -21 0zM1856.3 1408.7a10.5 10.5 0 1 0 21 0a10.5 10.5 0 1 0 -21 0zM1858.6 1405.8a10.5 10.5 0 1 0 21 0a10.5 10.5 0 1 0 -21 0zM1860.9 1407.9a10.5 10.5 0 1 0 21 0a10.5 10.5 0 1 0 -21 0zM1863.3 1406.3a10.5 10.5 0 1 0 21 0a10.5 10.5 0 1 0 -21 0zM1865.6 1406.9a10.5 10.5 0 1 0 21 0a10.5 10.5 0 1 0 -21 0zM1867.9 1405.1a10.5 10.5 0 1 0 21 0a10.5 10.5 0 1 0 -21 0zM1870.3 1407.8a10.5 10.5 0 1 0 21 0a10.5 10.5 0 1 0 -21 0zM1872.6 1408.7a10.5 10.5 0 1 0 21 0a10.5 10.5 0 1 0 -21 0zM1874.9 1405.8a10.5 10.5 0 1 0 21 0a10.5 10.5 0 1 0 -21 0zM1877.2 1404.3a10.5 10.5 0 1 0 21 0a10.5 10.5 0 1 0 -21 0zM1879.6 1406.7a10.5 10.5 0 1 0 21 0a10.5 10.5 0 1 0 -21 0zM1881.9 1404a10.5 10.5 0 1 0 21 0a10.5 10.5 0 1 0 -21 0zM1884.2 1407.6a10.5 10.5 0 1 0 21 0a10.5 10.5 0 1 0 -21 0zM1886.6 1403.5a10.5 10.5 0 1 0 21 0a10.5 10.5 0 1 0 -21 0zM1888.9 1404.5a10.5 10.5 0 1 0 21 0a10.5 10.5 0 1 0 -21 0zM1891.2 1404.9a10.5 10.5 0 1 0 21 0a10.5 10.5 0 1 0 -21 0zM1893.5 1402.9a10.5 10.5 0 1 0 21 0a10.5 10.5 0 1 0 -21 0zM1895.9 1403.7a10.5 10.5 0 1 0 21 0a10.5 10.5 0 1 0 -21 0zM1898.2 1403.3a10.5 10.5 0 1 0 21 0a10.5 10.5 0 1 0 -21 0zM1900.5 1405.3a10.5 10.5 0 1 0 21 0a10.5 10.5 0 1 0 -21 0zM1902.9 1406.5a10.5 10.5 0 1 0 21 0a10.5 10.5 0 1 0 -21 0zM1905.2 1403.2a10.5 10.5 0 1 0 21 0a10.5 10.5 0 1 0 -21 0zM1907.5 1405.2a10.5 10.5 0 1 0 21 0a10.5 10.5 0 1 0 -21 0zM1909.8 1401.8a10.5 10.5 0 1 0 21 0a10.5 10.5 0 1 0 -21 0zM1912.2 1403.8a10.5 10.5 0 1 0 21 0a10.5 10.5 0 1 0 -21 0zM1914.5 1402.9a10.5 10.5 0 1 0 21 0a10.5 10.5 0 1 0 -21 0zM1916.8 1402a10.5 10.5 0 1 0 21 0a10.5 10.5 0 1 0 -21 0zM1919.2 1404.5a10.5 10.5 0 1 0 21 0a10.5 10.5 0 1 0 -21 0zM1921.5 1403.9a10.5 10.5 0 1 0 21 0a10.5 10.5 0 1 0 -21 0zM1923.8 1400.7a10.5 10.5 0 1 0 21 0a10.5 10.5 0 1 0 -21 0zM1926.2 1401.3a10.5 10.5 0 1 0 21 0a10.5 10.5 0 1 0 -21 0zM1928.5 1403.8a10.5 10.5 0 1 0 21 0a10.5 10.5 0 1 0 -21 0zM1930.8 1404.4a10.5 10.5 0 1 0 21 0a10.5 10.5 0 1 0 -21 0zM1933.1 1402.2a10.5 10.5 0 1 0 21 0a10.5 10.5 0 1 0 -21 0zM1935.5 1403.1a10.5 10.5 0 1 0 21 0a10.5 10.5 0 1 0 -21 0zM1937.8 1403.3a10.5 10.5 0 1 0 21 0a10.5 10.5 0 1 0 -21 0zM1940.1 1401.8a10.5 10.5 0 1 0 21 0a10.5 10.5 0 1 0 -21 0zM1942.5 1401a10.5 10.5 0 1 0 21 0a10.5 10.5 0 1 0 -21 0zM1944.8 1398.5a10.5 10.5 0 1 0 21 0a10.5 10.5 0 1 0 -21 0zM1947.1 1398.9a10.5 10.5 0 1 0 21 0a10.5 10.5 0 1 0 -21 0zM1949.4 1399.8a10.5 10.5 0 1 0 21 0a10.5 10.5 0 1 0 -21 0zM1951.8 1401a10.5 10.5 0 1 0 21 0a10.5 10.5 0 1 0 -21 0zM1954.1 1397.5a10.5 10.5 0 1 0 21 0a10.5 10.5 0 1 0 -21 0zM1956.4 1397.6a10.5 10.5 0 1 0 21 0a10.5 10.5 0 1 0 -21 0zM1958.8 1395.4a10.5 10.5 0 1 0 21 0a10.5 10.5 0 1 0 -21 0zM1961.1 1398.4a10.5 10.5 0 1 0 21 0a10.5 10.5 0 1 0 -21 0zM1963.4 1396.8a10.5 10.5 0 1 0 21 0a10.5 10.5 0 1 0 -21 0zM1965.7 1398.2a10.5 10.5 0 1 0 21 0a10.5 10.5 0 1 0 -21 0zM1968.1 1395.1a10.5 10.5 0 1 0 21 0a10.5 10.5 0 1 0 -21 0zM1970.4 1396.9a10.5 10.5 0 1 0 21 0a10.5 10.5 0 1 0 -21 0zM1972.7 1396.6a10.5 10.5 0 1 0 21 0a10.5 10.5 0 1 0 -21 0zM1975.1 1395.3a10.5 10.5 0 1 0 21 0a10.5 10.5 0 1 0 -21 0zM1977.4 1393.6a10.5 10.5 0 1 0 21 0a10.5 10.5 0 1 0 -21 0zM1979.7 1394.4a10.5 10.5 0 1 0 21 0a10.5 10.5 0 1 0 -21 0zM1982 1395.8a10.5 10.5 0 1 0 21 0a10.5 10.5 0 1 0 -21 0zM1984.4 1392.8a10.5 10.5 0 1 0 21 0a10.5 10.5 0 1 0 -21 0zM1986.7 1392a10.5 10.5 0 1 0 21 0a10.5 10.5 0 1 0 -21 0zM1989 1393.5a10.5 10.5 0 1 0 21 0a10.5 10.5 0 1 0 -21 0zM1991.4 1392.1a10.5 10.5 0 1 0 21 0a10.5 10.5 0 1 0 -21 0zM1993.7 1394.7a10.5 10.5 0 1 0 21 0a10.5 10.5 0 1 0 -21 0zM1996 1394.4a10.5 10.5 0 1 0 21 0a10.5 10.5 0 1 0 -21 0zM1998.4 1394.8a10.5 10.5 0 1 0 21 0a10.5 10.5 0 1 0 -21 0zM2000.7 1394a10.5 10.5 0 1 0 21 0a10.5 10.5 0 1 0 -21 0zM2003 1392.7a10.5 10.5 0 1 0 21 0a10.5 10.5 0 1 0 -21 0zM2005.3 1390.1a10.5 10.5 0 1 0 21 0a10.5 10.5 0 1 0 -21 0zM2007.7 1393a10.5 10.5 0 1 0 21 0a10.5 10.5 0 1 0 -21 0zM2010 1392.3a10.5 10.5 0 1 0 21 0a10.5 10.5 0 1 0 -21 0zM2012.3 1392.1a10.5 10.5 0 1 0 21 0a10.5 10.5 0 1 0 -21 0zM2014.7 1391.5a10.5 10.5 0 1 0 21 0a10.5 10.5 0 1 0 -21 0zM2017 1391.9a10.5 10.5 0 1 0 21 0a10.5 10.5 0 1 0 -21 0zM2019.3 1389a10.5 10.5 0 1 0 21 0a10.5 10.5 0 1 0 -21 0zM2021.6 1390.5a10.5 10.5 0 1 0 21 0a10.5 10.5 0 1 0 -21 0zM2024 1389.5a10.5 10.5 0 1 0 21 0a10.5 10.5 0 1 0 -21 0zM2026.3 1388.3a10.5 10.5 0 1 0 21 0a10.5 10.5 0 1 0 -21 0zM2028.6 1387.9a10.5 10.5 0 1 0 21 0a10.5 10.5 0 1 0 -21 0zM2031 1386.8a10.5 10.5 0 1 0 21 0a10.5 10.5 0 1 0 -21 0zM2033.3 1388.2a10.5 10.5 0 1 0 21 0a10.5 10.5 0 1 0 -21 0zM2035.6 1387.3a10.5 10.5 0 1 0 21 0a10.5 10.5 0 1 0 -21 0zM2037.9 1387.3a10.5 10.5 0 1 0 21 0a10.5 10.5 0 1 0 -21 0zM2040.3 1389.1a10.5 10.5 0 1 0 21 0a10.5 10.5 0 1 0 -21 0zM2042.6 1388a10.5 10.5 0 1 0 21 0a10.5 10.5 0 1 0 -21 0zM2044.9 1387.7a10.5 10.5 0 1 0 21 0a10.5 10.5 0 1 0 -21 0zM2047.3 1388.9a10.5 10.5 0 1 0 21 0a10.5 10.5 0 1 0 -21 0zM2049.6 1384.8a10.5 10.5 0 1 0 21 0a10.5 10.5 0 1 0 -21 0zM2051.9 1386.1a10.5 10.5 0 1 0 21 0a10.5 10.5 0 1 0 -21 0zM2054.2 1384.1a10.5 10.5 0 1 0 21 0a10.5 10.5 0 1 0 -21 0zM2056.6 1385.7a10.5 10.5 0 1 0 21 0a10.5 10.5 0 1 0 -21 0zM2058.9 1388.6a10.5 10.5 0 1 0 21 0a10.5 10.5 0 1 0 -21 0zM2061.2 1384.4a10.5 10.5 0 1 0 21 0a10.5 10.5 0 1 0 -21 0zM2063.6 1387.9a10.5 10.5 0 1 0 21 0a10.5 10.5 0 1 0 -21 0zM2065.9 1388.6a10.5 10.5 0 1 0 21 0a10.5 10.5 0 1 0 -21 0zM2068.2 1386.9a10.5 10.5 0 1 0 21 0a10.5 10.5 0 1 0 -21 0zM2070.5 1388.5a10.5 10.5 0 1 0 21 0a10.5 10.5 0 1 0 -21 0zM2072.9 1386.8a10.5 10.5 0 1 0 21 0a10.5 10.5 0 1 0 -21 0zM2075.2 1386.5a10.5 10.5 0 1 0 21 0a10.5 10.5 0 1 0 -21 0zM2077.5 1387.3a10.5 10.5 0 1 0 21 0a10.5 10.5 0 1 0 -21 0zM2079.9 1385.9a10.5 10.5 0 1 0 21 0a10.5 10.5 0 1 0 -21 0zM2082.2 1386.6a10.5 10.5 0 1 0 21 0a10.5 10.5 0 1 0 -21 0zM2084.5 1386.7a10.5 10.5 0 1 0 21 0a10.5 10.5 0 1 0 -21 0zM2086.9 1390.2a10.5 10.5 0 1 0 21 0a10.5 10.5 0 1 0 -21 0zM2089.2 1387.1a10.5 10.5 0 1 0 21 0a10.5 10.5 0 1 0 -21 0zM2091.5 1386.7a10.5 10.5 0 1 0 21 0a10.5 10.5 0 1 0 -21 0zM2093.8 1390.3a10.5 10.5 0 1 0 21 0a10.5 10.5 0 1 0 -21 0zM2096.2 1386.4a10.5 10.5 0 1 0 21 0a10.5 10.5 0 1 0 -21 0zM2098.5 1390.6a10.5 10.5 0 1 0 21 0a10.5 10.5 0 1 0 -21 0zM2100.8 1390.2a10.5 10.5 0 1 0 21 0a10.5 10.5 0 1 0 -21 0zM2103.2 1389.2a10.5 10.5 0 1 0 21 0a10.5 10.5 0 1 0 -21 0zM2105.5 1388.3a10.5 10.5 0 1 0 21 0a10.5 10.5 0 1 0 -21 0zM2107.8 1387.2a10.5 10.5 0 1 0 21 0a10.5 10.5 0 1 0 -21 0zM2110.1 1386.8a10.5 10.5 0 1 0 21 0a10.5 10.5 0 1 0 -21 0zM2112.5 1386.9a10.5 10.5 0 1 0 21 0a10.5 10.5 0 1 0 -21 0zM2114.8 1388.2a10.5 10.5 0 1 0 21 0a10.5 10.5 0 1 0 -21 0z"/>
<path fill="none" stroke="#00f" stroke-width="0.8" d="M355.7 483 357 493.4 359.7 518.8 362.6 551.1 364 569.3 365.9 593.3 368.4 598.8 371.4 623.7 375.5 663.5 377.5 672.7 378.3 702.4 382 716.3 386.2 738.4 388.5 756.8 390.3 775.2 392.5 792.7 394.9 809 397.2 816.4 399.5 827.5 401.8 832 404.2 835 406.5 842.8 408.8 846.7 411.2 852.3 413.5 864 415.8 868.1 418.1 874.5 420.5 881.2 422.8 891.5 425.1 898.4 427.5 904.1 429.8 914.6 432.1 917.9 434.4 926 436.8 930.1 439.1 934.7 441.4 936 443.8 938.8 446.1 942 448.4 942.8 450.7 940.8 453.1 944.9 455.4 945.6 457.7 947 460.1 949.6 462.4 951.9 464.7 957.5 467.1 958.5 469.4 962.3 471.7 966.2 474 969 476.4 974 478.7 978.9 481 979.8 483.4 980.4 485.7 982.2 488 978.7 490.3 979.7 492.7 980.7 495 981.9 497.3 982.5 499.7 983.7 502 981.4 504.3 982.5 506.6 984.2 509 985.6 511.3 989.4 513.6 992 516 991.9 518.3 990.2 520.6 992.9 522.9 995.2 525.3 995.5 527.6 993.5 529.9 992 532.3 991.7 534.6 992.8 536.9 994.6 539.3 993.4 541.6 994.1 543.9 994.5 546.2 996.6 548.6 1001.6 550.9 1001.9 553.2 1005.1 555.6 1001.3 557.9 1003 560.2 1005.3 562.5 1004.9 564.9 1002.1 567.2 1004 569.5 1005.4 571.9 1005.8 574.2 1005 576.5 1004.2 578.8 1008.5 581.2 1006.5 583.5 1008.3 585.8 1007.9 588.2 1006.1 590.5 1007.3 592.8 1006.3 595.1 1006.1 597.5 1005.2 599.8 1005.4 602.1 1004.1 604.5 1003.4 606.8 1005 609.1 1002.5 611.5 1004.3 613.8 1009.3 616.1 1009.4 618.4 1010.3 620.8 1010.9 623.1 1012.6 625.4 1010.8 627.8 1013.7 630.1 1013.3 632.4 1010.5 634.7 1008.7 637.1 1012.8 639.4 1009.8 641.7 1011.8 644.1 1013.1 646.4 1013 648.7 1013.6 651 1011.9 653.4 1013.9 655.7 1012.3 658 1011.7 660.4 1013.5 662.7 1013.5 665 1016.3 667.3 1017.3 669.7 1014.6 672 1015.4 674.3 1017.2 676.7 1017.7 679 1019.2 681.3 1018.2 683.6 1017.4 686 1015.3 688.3 1014.1 690.6 1011.1 693 1010.7 695.3 1008 697.6 1011.4 700 1007.9 702.3 1006.2 704.6 1006.7 706.9 1006 709.3 1007.3 711.6 1003 713.9 1003.4 716.3 1006.1 718.6 1005.2 720.9 1001.8 723.2 999.1 725.6 995.1 727.9 996 730.2 993.1 732.6 990.2 734.9 986.7 737.2 985.2 739.5 985.9 741.9 985.7 744.2 984.3 746.5 986 748.9 986.2 751.2 985.4 753.5 985.9 755.8 985.7 758.2 987.1 760.5 989.6 762.8 990.2 765.2 990 767.5 994.3 769.8 994.1 772.2 995.1 774.5 997.7 776.8 997.1 779.1 996.4 781.5 995 783.8 993.2 786.1 992.3 788.5 988.3 790.8 989.8 793.1 986.5 795.4 985.7 797.8 984.3 800.1 985 802.4 982.4 804.8 984.9 807.1 984.6 809.4 984.1 811.7 980.1 814.1 982.5 816.4 983.4 818.7 979.3 821.1 979.9 823.4 980.2 825.7 981.1 828 979.5 830.4 981.2 832.7 980.8 835 983 837.4 983.1 839.7 984.5 842 983 844.4 986 846.7 986.8 849 987.5 851.3 983.2 853.7 986 856 982.7 858.3 979.7 860.7 979 863 977.9 865.3 976.4 867.6 973.5 870 972.8 872.3 972.7 874.6 974.2 877 971.9 879.3 969.3 881.6 970.8 883.9 969 886.3 967.4 888.6 972.2 890.9 968.9 893.3 970.2 895.6 969.5 897.9 968.1 900.2 972.4 902.6 972.7 904.9 969.1 907.2 969.5 909.6 968.1 911.9 965.9 914.2 967.2 916.5 966.6 918.9 965.3 921.2 963.7 923.5 959.3 925.9 959.4 928.2 960 930.5 960.2 932.9 957.8 935.2 957.3 937.5 958.4 939.8 953.5 942.2 953.9 944.5 953.4 946.8 956.3 949.2 951.9 951.5 950.4 953.8 951.6 956.1 952.2 958.5 949.1 960.8 951.9 963.1 947.8 965.5 949.2 967.8 945.3 970.1 947.7 972.4 943.2 974.8 944.7 977.1 944 979.4 940 981.8 938 984.1 939.5 986.4 938 988.7 936.8 991.1 937.3 993.4 934.6 995.7 933.8 998.1 932.7 1000.4 931.1 1002.7 929.3 1005.1 926.4 1007.4 925.5 1009.7 923.7 1012 922 1014.4 923.1 1016.7 918.1 1019 917.9 1021.4 919.8 1023.7 918.9 1026 918.8 1028.3 921.5 1030.7 925.6 1033 930 1035.3 935.4 1037.7 938.8 1040 940.6 1042.3 945.3 1044.6 950.8 1047 955.7 1049.3 965.1 1051.6 967.3 1054 974.7 1056.3 984.7 1058.6 994.7 1060.9 1004.2 1063.3 1019.3 1065.6 1029.2 1067.9 1042.8 1070.3 1052.7 1072.6 1067.2 1074.9 1088 1077.2 1103 1079.6 1122.5 1081.9 1141 1084.2 1158.2 1086.6 1175.5 1088.9 1190.5 1091.2 1206.4 1093.6 1215.9 1095.9 1229.6 1098.2 1244.4 1100.5 1256.8 1102.9 1268.7 1105.2 1280.4 1107.5 1288.8 1109.9 1297.1 1112.2 1308.5 1114.5 1315.7 1116.8 1328.6 1119.2 1332.3 1121.5 1342.3 1123.8 1350.2 1126.2 1357.6 1128.5 1368.5 1130.8 1374.5 1133.1 1386.2 1135.5 1392.7 1137.8 1398.7 1140.1 1404.5 1142.5 1407.2 1144.8 1407.9 1147.1 1413.5 1149.4 1416.9 1151.8 1417.5 1154.1 1417.1 1156.4 1420.8 1158.8 1421.9 1161.1 1419.9 1163.4 1419.5 1165.8 1424.5 1168.1 1424.9 1170.4 1424.1 1172.7 1427.2 1175.1 1427.3 1177.4 1431.8 1179.7 1430.2 1182.1 1429.7 1184.4 1429.2 1186.7 1430.9 1189 1434.4 1191.4 1430.7 1193.7 1432.2 1196 1434.1 1198.4 1428.6 1200.7 1429.3 1203 1431.3 1205.3 1426.9 1207.7 1430.4 1210 1429.4 1212.3 1425.5 1214.7 1427.2 1217 1426.6 1219.3 1426.8 1221.6 1424.5 1224 1424.5 1226.3 1423.6 1228.6 1423.6 1231 1422.8 1233.3 1426.2 1235.6 1425.8 1238 1423 1240.3 1424.4 1242.6 1423.2 1244.9 1421.9 1247.3 1422 1249.6 1424.8 1251.9 1421.5 1254.3 1422.4 1256.6 1424 1258.9 1420.6 1261.2 1422.9 1263.6 1419.2 1265.9 1422 1268.2 1422.2 1270.6 1422.1 1272.9 1422.5 1275.2 1421 1277.5 1422.1 1279.9 1418.3 1282.2 1419.1 1284.5 1417.1 1286.9 1416 1289.2 1417.3 1291.5 1418.3 1293.8 1418.1 1296.2 1413.8 1298.5 1418 1300.8 1414 1303.2 1413.8 1305.5 1416 1307.8 1415.9 1310.2 1414.7 1312.5 1412.6 1314.8 1413.1 1317.1 1414.9 1319.5 1412.4 1321.8 1414.5 1324.1 1414.3 1326.5 1412.6 1328.8 1414.6 1331.1 1412 1333.4 1413.7 1335.8 1413 1338.1 1411.4 1340.4 1412.3 1342.8 1412.6 1345.1 1412.1 1347.4 1409.9 1349.7 1414.3 1352.1 1414.1 1354.4 1409.3 1356.7 1413.8 1359.1 1411.6 1361.4 1409.5 1363.7 1412.9 1366 1410.9 1368.4 1412.2 1370.7 1412.6 1373 1411 1375.4 1408.4 1377.7 1412 1380 1411.2 1382.3 1412.1 1384.7 1408.8 1387 1411.2 1389.3 1411.4 1391.7 1408.7 1394 1408.8 1396.3 1408.2 1398.7 1406.4 1401 1407.3 1403.3 1407.7 1405.6 1406.4 1408 1409.5 1410.3 1407.6 1412.6 1408.2 1415 1406.6 1417.3 1406.8 1419.6 1408.6 1421.9 1407 1424.3 1407.4 1426.6 1406.4 1428.9 1406.9 1431.3 1408.4 1433.6 1405.1 1435.9 1406.2 1438.2 1406.8 1440.6 1403.6 1442.9 1407.9 1445.2 1405.5 1447.6 1404.2 1449.9 1406.7 1452.2 1406.9 1454.5 1406 1456.9 1407.3 1459.2 1403.1 1461.5 1405.3 1463.9 1406.3 1466.2 1407.1 1468.5 1405.7 1470.9 1405.4 1473.2 1404.3 1475.5 1405.2 1477.8 1405 1480.2 1406.7 1482.5 1406.3 1484.8 1405.9 1487.2 1406.8 1489.5 1402.5 1491.8 1406 1494.1 1404.5 1496.5 1406 1498.8 1403.7 1501.1 1404.5 1503.5 1406.3 1505.8 1402.4 1508.1 1403.7 1510.4 1404.6 1512.8 1406.5 1515.1 1403.6 1517.4 1406.2 1519.8 1402.7 1522.1 1402.4 1524.4 1403.1 1526.7 1403 1529.1 1403.5 1531.4 1403 1533.7 1399.2 1536.1 1401.1 1538.4 1400 1540.7 1398.1 1543.1 1399.5 1545.4 1399.5 1547.7 1396.9 1550 1398.5 1552.4 1393.9 1554.7 1393.6 1557 1396.5 1559.4 1394.1 1561.7 1395.4 1564 1394.8 1566.3 1392.9 1568.7 1395.9 1571 1395.7 1573.3 1392.6 1575.7 1393.1 1578 1395.7 1580.3 1396.1 1582.6 1395.8 1585 1393.8 1587.3 1393 1589.6 1393.3 1592 1391.9 1594.3 1393.4 1596.6 1392 1598.9 1391.5 1601.3 1392.5 1603.6 1390.8 1605.9 1392.8 1608.3 1393.8 1610.6 1393.5 1612.9 1395 1615.2 1394.5 1617.6 1393.1 1619.9 1394.4 1622.2 1392 1624.6 1393.7 1626.9 1391 1629.2 1392.1 1631.6 1394.2 1633.9 1392.2 1636.2 1391.6 1638.5 1392.8 1640.9 1390.3 1643.2 1392.8 1645.5 1388.6 1647.9 1389.5 1650.2 1389.1 1652.5 1389.3 1654.8 1392.6 1657.2 1387.9 1659.5 1389.1 1661.8 1390.4 1664.2 1390.9 1666.5 1391.1 1668.8 1389.1 1671.1 1388.2 1673.5 1391.3 1675.8 1387.6 1678.1 1387.2 1680.5 1388 1682.8 1389.3 1685.1 1391.5 1687.4 1390.3 1689.8 1389.5 1692.1 1389.2 1694.4 1390 1696.8 1389.6 1699.1 1388.1 1701.4 1386.8 1703.8 1387.3 1706.1 1390.2 1708.4 1389.3 1710.7 1390.1 1713.1 1386.3 1715.4 1390.5 1717.7 1387.8 1720.1 1390.5 1722.4 1388.8 1724.7 1388.5 1727 1389.8 1729.4 1388.7 1731.7 1388.9 1734 1386.3 1736.4 1388.4 1738.7 1387.1 1741 1385.7 1743.3 1385.9 1745.7 1387.6 1748 1386.4 1750.3 1388.9 1752.7 1385.6 1755 1385 1757.3 1389.9 1759.6 1386.4 1762 1387.3 1764.3 1385.8 1766.6 1385.7 1769 1386.6 1771.3 1388.5 1773.6 1384.7 1776 1388.6 1778.3 1389.3 1780.6 1387.1 1782.9 1386 1785.3 1385.3 1787.6 1385 1789.9 1385.7 1792.3 1388.3 1794.6 1384 1796.9 1387.8 1799.2 1387.2 1801.6 1383.9 1803.9 1384.1 1806.2 1387.3 1808.6 1387 1810.9 1385.1 1813.2 1387.8 1815.5 1384.5 1817.9 1385.5 1820.2 1383.9 1822.5 1386.5 1824.9 1383.6 1827.2 1384 1829.5 1386.8 1831.8 1385.4 1834.2 1386.1 1836.5 1386.4 1838.8 1385.7 1841.2 1383.6 1843.5 1386 1845.8 1383 1848.1 1383.7 1850.5 1384.5 1852.8 1382.7 1855.1 1382.6 1857.5 1385.3 1859.8 1385.6 1862.1 1383.6 1864.5 1383.6 1866.8 1382.5 1869.1 1383.9 1871.4 1384 1873.8 1385.6 1876.1 1381 1878.4 1385.1 1880.8 1385.4 1883.1 1382 1885.4 1383.7 1887.7 1384 1890.1 1383 1892.4 1381 1894.7 1382.5 1897.1 1383.6 1899.4 1379.6 1901.7 1381.3 1904 1378.9 1906.4 1382.9 1908.7 1382.5 1911 1378.7 1913.4 1382.1 1915.7 1381.8 1918 1378.9 1920.3 1380.8 1922.7 1381.5 1925 1379.6 1927.3 1380.4 1929.7 1382.6 1932 1380.8 1934.3 1380.1 1936.7 1377.8 1939 1378 1941.3 1381.5 1943.6 1380.9 1946 1381.4 1948.3 1380 1950.6 1379.9 1953 1379.7 1955.3 1380.6 1957.6 1378.5 1959.9 1379.3 1962.3 1379.1 1964.6 1380 1966.9 1377.7 1969.3 1376.7 1971.6 1377 1973.9 1377.4 1976.2 1380.7 1978.6 1380 1980.9 1380.1 1983.2 1378.5 1985.6 1376.7 1987.9 1378.4 1990.2 1380.3 1992.5 1378.5 1994.9 1379 1997.2 1377.6 1999.5 1376.4 2001.9 1378.7 2004.2 1377.9 2006.5 1377.1 2008.9 1376.6 2011.2 1378.7 2013.5 1376.8 2015.8 1378 2018.2 1376.3 2020.5 1378.7 2022.8 1376.7 2025.2 1377.1 2027.5 1379.2 2029.8 1378.1 2032.1 1378.1 2034.5 1376 2036.8 1378.3 2039.1 1376 2041.5 1378.8 2043.8 1378.3 2046.1 1377 2048.4 1377.7 2050.8 1376.2 2053.1 1377 2055.4 1373.8 2057.8 1378 2060.1 1377 2062.4 1373.6 2064.7 1374.2 2067.1 1376 2069.4 1377 2071.7 1374 2074.1 1378.1 2076.4 1375.1 2078.7 1378.5 2081 1377.3 2083.4 1376.1 2085.7 1375.6 2088 1374.3 2090.4 1374.3 2092.7 1377.1 2095 1377.9 2097.4 1378.7 2099.7 1376.1 2102 1379 2104.3 1375.9 2106.7 1379.2 2109 1379.2 2111.3 1375.5 2113.7 1379.1 2116 1378.4 2118.3 1378.5 2120.6 1379.3 2123 1377.9 2125.3 1377.8"/>
<path fill="#00f" d="M355.7 472.2l13.2 21.5h-26.5zM357 482.6l13.2 21.5h-26.5zM359.7 508l13.2 21.5h-26.5zM362.6 540.4l13.2 21.5h-26.5zM364 558.5l13.2 21.5h-26.5zM365.9 582.5l13.2 21.5h-26.5zM368.4 588l13.2 21.5h-26.5zM371.4 613l13.2 21.5h-26.5zM375.5 652.8l13.2 21.5h-26.5zM377.5 662l13.2 21.5h-26.5zM378.3 691.6l13.2 21.5h-26.5zM382 705.5l13.2 21.5h-26.5zM386.2 727.6l13.2 21.5h-26.5zM388.5 746l13.2 21.5h-26.5zM390.3 764.5l13.2 21.5h-26.5zM392.5 782l13.2 21.5h-26.5zM394.9 798.3l13.2 21.5h-26.5zM397.2 805.7l13.2 21.5h-26.5zM399.5 816.8l13.2 21.5h-26.5zM401.8 821.3l13.2 21.5h-26.5zM404.2 824.2l13.2 21.5h-26.5zM406.5 832.1l13.2 21.5h-26.5zM408.8 835.9l13.2 21.5h-26.5zM411.2 841.6l13.2 21.5h-26.5zM413.5 853.2l13.2 21.5h-26.5zM415.8 857.4l13.2 21.5h-26.5zM418.1 863.8l13.2 21.5h-26.5zM420.5 870.5l13.2 21.5h-26.5zM422.8 880.8l13.2 21.5h-26.5zM425.1 887.7l13.2 21.5h-26.5zM427.5 893.3l13.2 21.5h-26.5zM429.8 903.9l13.2 21.5h-26.5zM432.1 907.1l13.2 21.5h-26.5zM434.4 915.3l13.2 21.5h-26.5zM436.8 919.3l13.2 21.5h-26.5zM439.1 923.9l13.2 21.5h-26.5zM441.4 925.2l13.2 21.5h-26.5zM443.8 928l13.2 21.5h-26.5zM446.1 931.3l13.2 21.5h-26.5zM448.4 932l13.2 21.5h-26.5zM450.7 930.1l13.2 21.5h-26.5zM453.1 934.1l13.2 21.5h-26.5zM455.4 934.9l13.2 21.5h-26.5zM457.7 936.3l13.2 21.5h-26.5zM460.1 938.8l13.2 21.5h-26.5zM462.4 941.2l13.2 21.5h-26.5zM464.7 946.8l13.2 21.5h-26.5zM467.1 947.8l13.2 21.5h-26.5zM469.4 951.6l13.2 21.5h-26.5zM471.7 955.5l13.2 21.5h-26.5zM474 958.2l13.2 21.5h-26.5zM476.4 963.2l13.2 21.5h-26.5zM478.7 968.1l13.2 21.5h-26.5zM481 969l13.2 21.5h-26.5zM483.4 969.7l13.2 21.5h-26.5zM485.7 971.4l13.2 21.5h-26.5zM488 967.9l13.2 21.5h-26.5zM490.3 968.9l13.2 21.5h-26.5zM492.7 969.9l13.2 21.5h-26.5zM495 971.1l13.2 21.5h-26.5zM497.3 971.7l13.2 21.5h-26.5zM499.7 972.9l13.2 21.5h-26.5zM502 970.6l13.2 21.5h-26.5zM504.3 971.8l13.2 21.5h-26.5zM506.6 973.5l13.2 21.5h-26.5zM509 974.8l13.2 21.5h-26.5zM511.3 978.6l13.2 21.5h-26.5zM513.6 981.3l13.2 21.5h-26.5zM516 981.2l13.2 21.5h-26.5zM518.3 979.4l13.2 21.5h-26.5zM520.6 982.2l13.2 21.5h-26.5zM522.9 984.5l13.2 21.5h-26.5zM525.3 984.8l13.2 21.5h-26.5zM527.6 982.8l13.2 21.5h-26.5zM529.9 981.3l13.2 21.5h-26.5zM532.3 981l13.2 21.5h-26.5zM534.6 982.1l13.2 21.5h-26.5zM536.9 983.9l13.2 21.5h-26.5zM539.3 982.7l13.2 21.5h-26.5zM541.6 983.3l13.2 21.5h-26.5zM543.9 983.8l13.2 21.5h-26.5zM546.2 985.9l13.2 21.5h-26.5zM548.6 990.8l13.2 21.5h-26.5zM550.9 991.1l13.2 21.5h-26.5zM553.2 994.4l13.2 21.5h-26.5zM555.6 990.5l13.2 21.5h-26.5zM557.9 992.2l13.2 21.5h-26.5zM560.2 994.6l13.2 21.5h-26.5zM562.5 994.1l13.2 21.5h-26.5zM564.9 991.3l13.2 21.5h-26.5zM567.2 993.2l13.2 21.5h-26.5zM569.5 994.6l13.2 21.5h-26.5zM571.9 995.1l13.2 21.5h-26.5zM574.2 994.3l13.2 21.5h-26.5zM576.5 993.4l13.2 21.5h-26.5zM578.8 997.8l13.2 21.5h-26.5zM581.2 995.8l13.2 21.5h-26.5zM583.5 997.5l13.2 21.5h-26.5zM585.8 997.1l13.2 21.5h-26.5zM588.2 995.3l13.2 21.5h-26.5zM590.5 996.6l13.2 21.5h-26.5zM592.8 995.5l13.2 21.5h-26.5zM595.1 995.3l13.2 21.5h-26.5zM597.5 994.5l13.2 21.5h-26.5zM599.8 994.7l13.2 21.5h-26.5zM602.1 993.3l13.2 21.5h-26.5zM604.5 992.7l13.2 21.5h-26.5zM606.8 994.3l13.2 21.5h-26.5zM609.1 991.7l13.2 21.5h-26.5zM611.5 993.6l13.2 21.5h-26.5zM613.8 998.5l13.2 21.5h-26.5zM616.1 998.6l13.2 21.5h-26.5zM618.4 999.6l13.2 21.5h-26.5zM620.8 1000.2l13.2 21.5h-26.5zM623.1 1001.9l13.2 21.5h-26.5zM625.4 1000l13.2 21.5h-26.5zM627.8 1002.9l13.2 21.5h-26.5zM630.1 1002.5l13.2 21.5h-26.5zM632.4 999.7l13.2 21.5h-26.5zM634.7 998l13.2 21.5h-26.5zM637.1 1002l13.2 21.5h-26.5zM639.4 999l13.2 21.5h-26.5zM641.7 1001.1l13.2 21.5h-26.5zM644.1 1002.3l13.2 21.5h-26.5zM646.4 1002.3l13.2 21.5h-26.5zM648.7 1002.8l13.2 21.5h-26.5zM651 1001.2l13.2 21.5h-26.5zM653.4 1003.2l13.2 21.5h-26.5zM655.7 1001.5l13.2 21.5h-26.5zM658 1001l13.2 21.5h-26.5zM660.4 1002.8l13.2 21.5h-26.5zM662.7 1002.7l13.2 21.5h-26.5zM665 1005.6l13.2 21.5h-26.5zM667.3 1006.6l13.2 21.5h-26.5zM669.7 1003.8l13.2 21.5h-26.5zM672 1004.6l13.2 21.5h-26.5zM674.3 1006.4l13.2 21.5h-26.5zM676.7 1006.9l13.2 21.5h-26.5zM679 1008.5l13.2 21.5h-26.5zM681.3 1007.4l13.2 21.5h-26.5zM683.6 1006.6l13.2 21.5h-26.5zM686 1004.5l13.2 21.5h-26.5zM688.3 1003.3l13.2 21.5h-26.5zM690.6 1000.4l13.2 21.5h-26.5zM693 999.9l13.2 21.5h-26.5zM695.3 997.2l13.2 21.5h-26.5zM697.6 1000.7l13.2 21.5h-26.5zM700 997.2l13.2 21.5h-26.5zM702.3 995.5l13.2 21.5h-26.5zM704.6 995.9l13.2 21.5h-26.5zM706.9 995.3l13.2 21.5h-26.5zM709.3 996.6l13.2 21.5h-26.5zM711.6 992.3l13.2 21.5h-26.5zM713.9 992.7l13.2 21.5h-26.5zM716.3 995.3l13.2 21.5h-26.5zM718.6 994.5l13.2 21.5h-26.5zM720.9 991.1l13.2 21.5h-26.5zM723.2 988.4l13.2 21.5h-26.5zM725.6 984.3l13.2 21.5h-26.5zM727.9 985.2l13.2 21.5h-26.5zM730.2 982.4l13.2 21.5h-26.5zM732.6 979.4l13.2 21.5h-26.5zM734.9 975.9l13.2 21.5h-26.5zM737.2 974.5l13.2 21.5h-26.5zM739.5 975.1l13.2 21.5h-26.5zM741.9 974.9l13.2 21.5h-26.5zM744.2 973.6l13.2 21.5h-26.5zM746.5 975.3l13.2 21.5h-26.5zM748.9 975.5l13.2 21.5h-26.5zM751.2 974.7l13.2 21.5h-26.5zM753.5 975.2l13.2 21.5h-26.5zM755.8 974.9l13.2 21.5h-26.5zM758.2 976.3l13.2 21.5h-26.5zM760.5 978.8l13.2 21.5h-26.5zM762.8 979.5l13.2 21.5h-26.5zM765.2 979.3l13.2 21.5h-26.5zM767.5 983.5l13.2 21.5h-26.5zM769.8 983.4l13.2 21.5h-26.5zM772.2 984.4l13.2 21.5h-26.5zM774.5 986.9l13.2 21.5h-26.5zM776.8 986.3l13.2 21.5h-26.5zM779.1 985.6l13.2 21.5h-26.5zM781.5 984.3l13.2 21.5h-26.5zM783.8 982.4l13.2 21.5h-26.5zM786.1 981.5l13.2 21.5h-26.5zM788.5 977.5l13.2 21.5h-26.5zM790.8 979.1l13.2 21.5h-26.5zM793.1 975.7l13.2 21.5h-26.5zM795.4 975l13.2 21.5h-26.5zM797.8 973.6l13.2 21.5h-26.5zM800.1 974.2l13.2 21.5h-26.5zM802.4 971.6l13.2 21.5h-26.5zM804.8 974.1l13.2 21.5h-26.5zM807.1 973.9l13.2 21.5h-26.5zM809.4 973.3l13.2 21.5h-26.5zM811.7 969.4l13.2 21.5h-26.5zM814.1 971.8l13.2 21.5h-26.5zM816.4 972.6l13.2 21.5h-26.5zM818.7 968.5l13.2 21.5h-26.5zM821.1 969.2l13.2 21.5h-26.5zM823.4 969.4l13.2 21.5h-26.5zM825.7 970.3l13.2 21.5h-26.5zM828 968.7l13.2 21.5h-26.5zM830.4 970.5l13.2 21.5h-26.5zM832.7 970l13.2 21.5h-26.5zM835 972.3l13.2 21.5h-26.5zM837.4 972.3l13.2 21.5h-26.5zM839.7 973.8l13.2 21.5h-26.5zM842 972.3l13.2 21.5h-26.5zM844.4 975.3l13.2 21.5h-26.5zM846.7 976.1l13.2 21.5h-26.5zM849 976.7l13.2 21.5h-26.5zM851.3 972.4l13.2 21.5h-26.5zM853.7 975.3l13.2 21.5h-26.5zM856 971.9l13.2 21.5h-26.5zM858.3 968.9l13.2 21.5h-26.5zM860.7 968.2l13.2 21.5h-26.5zM863 967.1l13.2 21.5h-26.5zM865.3 965.6l13.2 21.5h-26.5zM867.6 962.8l13.2 21.5h-26.5zM870 962l13.2 21.5h-26.5zM872.3 961.9l13.2 21.5h-26.5zM874.6 963.4l13.2 21.5h-26.5zM877 961.1l13.2 21.5h-26.5zM879.3 958.6l13.2 21.5h-26.5zM881.6 960.1l13.2 21.5h-26.5zM883.9 958.2l13.2 21.5h-26.5zM886.3 956.7l13.2 21.5h-26.5zM888.6 961.4l13.2 21.5h-26.5zM890.9 958.1l13.2 21.5h-26.5zM893.3 959.5l13.2 21.5h-26.5zM895.6 958.7l13.2 21.5h-26.5zM897.9 957.3l13.2 21.5h-26.5zM900.2 961.7l13.2 21.5h-26.5zM902.6 962l13.2 21.5h-26.5zM904.9 958.3l13.2 21.5h-26.5zM907.2 958.7l13.2 21.5h-26.5zM909.6 957.3l13.2 21.5h-26.5zM911.9 955.1l13.2 21.5h-26.5zM914.2 956.4l13.2 21.5h-26.5zM916.5 955.9l13.2 21.5h-26.5zM918.9 954.6l13.2 21.5h-26.5zM921.2 953l13.2 21.5h-26.5zM923.5 948.5l13.2 21.5h-26.5zM925.9 948.7l13.2 21.5h-26.5zM928.2 949.3l13.2 21.5h-26.5zM930.5 949.4l13.2 21.5h-26.5zM932.9 947l13.2 21.5h-26.5zM935.2 946.5l13.2 21.5h-26.5zM937.5 947.7l13.2 21.5h-26.5zM939.8 942.8l13.2 21.5h-26.5zM942.2 943.2l13.2 21.5h-26.5zM944.5 942.6l13.2 21.5h-26.5zM946.8 945.5l13.2 21.5h-26.5zM949.2 941.1l13.2 21.5h-26.5zM951.5 939.6l13.2 21.5h-26.5zM953.8 940.9l13.2 21.5h-26.5zM956.1 941.4l13.2 21.5h-26.5zM958.5 938.3l13.2 21.5h-26.5zM960.8 941.2l13.2 21.5h-26.5zM963.1 937l13.2 21.5h-26.5zM965.5 938.4l13.2 21.5h-26.5zM967.8 934.5l13.2 21.5h-26.5zM970.1 937l13.2 21.5h-26.5zM972.4 932.4l13.2 21.5h-26.5zM974.8 933.9l13.2 21.5h-26.5zM977.1 933.3l13.2 21.5h-26.5zM979.4 929.2l13.2 21.5h-26.5zM981.8 927.3l13.2 21.5h-26.5zM984.1 928.7l13.2 21.5h-26.5zM986.4 927.2l13.2 21.5h-26.5zM988.7 926.1l13.2 21.5h-26.5zM991.1 926.5l13.2 21.5h-26.5zM993.4 923.9l13.2 21.5h-26.5zM995.7 923l13.2 21.5h-26.5zM998.1 921.9l13.2 21.5h-26.5zM1000.4 920.4l13.2 21.5h-26.5zM1002.7 918.5l13.2 21.5h-26.5zM1005.1 915.7l13.2 21.5h-26.5zM1007.4 914.7l13.2 21.5h-26.5zM1009.7 913l13.2 21.5h-26.5zM1012 911.3l13.2 21.5h-26.5zM1014.4 912.3l13.2 21.5h-26.5zM1016.7 907.4l13.2 21.5h-26.5zM1019 907.2l13.2 21.5h-26.5zM1021.4 909l13.2 21.5h-26.5zM1023.7 908.2l13.2 21.5h-26.5zM1026 908.1l13.2 21.5h-26.5zM1028.3 910.8l13.2 21.5h-26.5zM1030.7 914.9l13.2 21.5h-26.5zM1033 919.2l13.2 21.5h-26.5zM1035.3 924.7l13.2 21.5h-26.5zM1037.7 928l13.2 21.5h-26.5zM1040 929.8l13.2 21.5h-26.5zM1042.3 934.5l13.2 21.5h-26.5zM1044.6 940.1l13.2 21.5h-26.5zM1047 944.9l13.2 21.5h-26.5zM1049.3 954.4l13.2 21.5h-26.5zM1051.6 956.6l13.2 21.5h-26.5zM1054 963.9l13.2 21.5h-26.5zM1056.3 973.9l13.2 21.5h-26.5zM1058.6 983.9l13.2 21.5h-26.5zM1060.9 993.4l13.2 21.5h-26.5zM1063.3 1008.5l13.2 21.5h-26.5zM1065.6 1018.5l13.2 21.5h-26.5zM1067.9 1032l13.2 21.5h-26.5zM1070.3 1042l13.2 21.5h-26.5zM1072.6 1056.5l13.2 21.5h-26.5zM1074.9 1077.2l13.2 21.5h-26.5zM1077.2 1092.2l13.2 21.5h-26.5zM1079.6 1111.8l13.2 21.5h-26.5zM1081.9 1130.2l13.2 21.5h-26.5zM1084.2 1147.5l13.2 21.5h-26.5zM1086.6 1164.8l13.2 21.5h-26.5zM1088.9 1179.8l13.2 21.5h-26.5zM1091.2 1195.6l13.2 21.5h-26.5zM1093.6 1205.2l13.2 21.5h-26.5zM1095.9 1218.9l13.2 21.5h-26.5zM1098.2 1233.6l13.2 21.5h-26.5zM1100.5 1246l13.2 21.5h-26.5zM1102.9 1257.9l13.2 21.5h-26.5zM1105.2 1269.6l13.2 21.5h-26.5zM1107.5 1278l13.2 21.5h-26.5zM1109.9 1286.3l13.2 21.5h-26.5zM1112.2 1297.7l13.2 21.5h-26.5zM1114.5 1305l13.2 21.5h-26.5zM1116.8 1317.9l13.2 21.5h-26.5zM1119.2 1321.6l13.2 21.5h-26.5zM1121.5 1331.6l13.2 21.5h-26.5zM1123.8 1339.4l13.2 21.5h-26.5zM1126.2 1346.9l13.2 21.5h-26.5zM1128.5 1357.8l13.2 21.5h-26.5zM1130.8 1363.8l13.2 21.5h-26.5zM1133.1 1375.5l13.2 21.5h-26.5zM1135.5 1382l13.2 21.5h-26.5zM1137.8 1388l13.2 21.5h-26.5zM1140.1 1393.7l13.2 21.5h-26.5zM1142.5 1396.5l13.2 21.5h-26.5zM1144.8 1397.1l13.2 21.5h-26.5zM1147.1 1402.7l13.2 21.5h-26.5zM1149.4 1406.2l13.2 21.5h-26.5zM1151.8 1406.7l13.2 21.5h-26.5zM1154.1 1406.3l13.2 21.5h-26.5zM1156.4 1410l13.2 21.5h-26.5zM1158.8 1411.2l13.2 21.5h-26.5zM1161.1 1409.1l13.2 21.5h-26.5zM1163.4 1408.8l13.2 21.5h-26.5zM1165.8 1413.7l13.2 21.5h-26.5zM1168.1 1414.1l13.2 21.5h-26.5zM1170.4 1413.4l13.2 21.5h-26.5zM1172.7 1416.4l13.2 21.5h-26.5zM1175.1 1416.6l13.2 21.5h-26.5zM1177.4 1421l13.2 21.5h-26.5zM1179.7 1419.5l13.2 21.5h-26.5zM1182.1 1419l13.2 21.5h-26.5zM1184.4 1418.4l13.2 21.5h-26.5zM1186.7 1420.2l13.2 21.5h-26.5zM1189 1423.6l13.2 21.5h-26.5zM1191.4 1420l13.2 21.5h-26.5zM1193.7 1421.4l13.2 21.5h-26.5zM1196 1423.4l13.2 21.5h-26.5zM1198.4 1417.9l13.2 21.5h-26.5zM1200.7 1418.6l13.2 21.5h-26.5zM1203 1420.5l13.2 21.5h-26.5zM1205.3 1416.2l13.2 21.5h-26.5zM1207.7 1419.6l13.2 21.5h-26.5zM1210 1418.6l13.2 21.5h-26.5zM1212.3 1414.7l13.2 21.5h-26.5zM1214.7 1416.5l13.2 21.5h-26.5zM1217 1415.9l13.2 21.5h-26.5zM1219.3 1416.1l13.2 21.5h-26.5zM1221.6 1413.7l13.2 21.5h-26.5zM1224 1413.8l13.2 21.5h-26.5zM1226.3 1412.8l13.2 21.5h-26.5zM1228.6 1412.8l13.2 21.5h-26.5zM1231 1412l13.2 21.5h-26.5zM1233.3 1415.4l13.2 21.5h-26.5zM1235.6 1415.1l13.2 21.5h-26.5zM1238 1412.2l13.2 21.5h-26.5zM1240.3 1413.7l13.2 21.5h-26.5zM1242.6 1412.4l13.2 21.5h-26.5zM1244.9 1411.1l13.2 21.5h-26.5zM1247.3 1411.2l13.2 21.5h-26.5zM1249.6 1414.1l13.2 21.5h-26.5zM1251.9 1410.7l13.2 21.5h-26.5zM1254.3 1411.7l13.2 21.5h-26.5zM1256.6 1413.3l13.2 21.5h-26.5zM1258.9 1409.8l13.2 21.5h-26.5zM1261.2 1412.1l13.2 21.5h-26.5zM1263.6 1408.4l13.2 21.5h-26.5zM1265.9 1411.3l13.2 21.5h-26.5zM1268.2 1411.4l13.2 21.5h-26.5zM1270.6 1411.3l13.2 21.5h-26.5zM1272.9 1411.8l13.2 21.5h-26.5zM1275.2 1410.2l13.2 21.5h-26.5zM1277.5 1411.3l13.2 21.5h-26.5zM1279.9 1407.6l13.2 21.5h-26.5zM1282.2 1408.4l13.2 21.5h-26.5zM1284.5 1406.4l13.2 21.5h-26.5zM1286.9 1405.3l13.2 21.5h-26.5zM1289.2 1406.6l13.2 21.5h-26.5zM1291.5 1407.5l13.2 21.5h-26.5zM1293.8 1407.3l13.2 21.5h-26.5zM1296.2 1403.1l13.2 21.5h-26.5zM1298.5 1407.2l13.2 21.5h-26.5zM1300.8 1403.3l13.2 21.5h-26.5zM1303.2 1403l13.2 21.5h-26.5zM1305.5 1405.3l13.2 21.5h-26.5zM1307.8 1405.1l13.2 21.5h-26.5zM1310.2 1404l13.2 21.5h-26.5zM1312.5 1401.9l13.2 21.5h-26.5zM1314.8 1402.4l13.2 21.5h-26.5zM1317.1 1404.1l13.2 21.5h-26.5zM1319.5 1401.6l13.2 21.5h-26.5zM1321.8 1403.8l13.2 21.5h-26.5zM1324.1 1403.5l13.2 21.5h-26.5zM1326.5 1401.9l13.2 21.5h-26.5zM1328.8 1403.9l13.2 21.5h-26.5zM1331.1 1401.2l13.2 21.5h-26.5zM1333.4 1402.9l13.2 21.5h-26.5zM1335.8 1402.3l13.2 21.5h-26.5zM1338.1 1400.6l13.2 21.5h-26.5zM1340.4 1401.5l13.2 21.5h-26.5zM1342.8 1401.8l13.2 21.5h-26.5zM1345.1 1401.4l13.2 21.5h-26.5zM1347.4 1399.2l13.2 21.5h-26.5zM1349.7 1403.5l13.2 21.5h-26.5zM1352.1 1403.3l13.2 21.5h-26.5zM1354.4 1398.6l13.2 21.5h-26.5zM1356.7 1403l13.2 21.5h-26.5zM1359.1 1400.9l13.2 21.5h-26.5zM1361.4 1398.8l13.2 21.5h-26.5zM1363.7 1402.2l13.2 21.5h-26.5zM1366 1400.2l13.2 21.5h-26.5zM1368.4 1401.4l13.2 21.5h-26.5zM1370.7 1401.8l13.2 21.5h-26.5zM1373 1400.2l13.2 21.5h-26.5zM1375.4 1397.6l13.2 21.5h-26.5zM1377.7 1401.3l13.2 21.5h-26.5zM1380 1400.5l13.2 21.5h-26.5zM1382.3 1401.4l13.2 21.5h-26.5zM1384.7 1398l13.2 21.5h-26.5zM1387 1400.4l13.2 21.5h-26.5zM1389.3 1400.7l13.2 21.5h-26.5zM1391.7 1397.9l13.2 21.5h-26.5zM1394 1398l13.2 21.5h-26.5zM1396.3 1397.5l13.2 21.5h-26.5zM1398.7 1395.6l13.2 21.5h-26.5zM1401 1396.6l13.2 21.5h-26.5zM1403.3 1396.9l13.2 21.5h-26.5zM1405.6 1395.6l13.2 21.5h-26.5zM1408 1398.7l13.2 21.5h-26.5zM1410.3 1396.9l13.2 21.5h-26.5zM1412.6 1397.4l13.2 21.5h-26.5zM1415 1395.8l13.2 21.5h-26.5zM1417.3 1396l13.2 21.5h-26.5zM1419.6 1397.8l13.2 21.5h-26.5zM1421.9 1396.2l13.2 21.5h-26.5zM1424.3 1396.7l13.2 21.5h-26.5zM1426.6 1395.6l13.2 21.5h-26.5zM1428.9 1396.1l13.2 21.5h-26.5zM1431.3 1397.7l13.2 21.5h-26.5zM1433.6 1394.3l13.2 21.5h-26.5zM1435.9 1395.4l13.2 21.5h-26.5zM1438.2 1396.1l13.2 21.5h-26.5zM1440.6 1392.9l13.2 21.5h-26.5zM1442.9 1397.1l13.2 21.5h-26.5zM1445.2 1394.8l13.2 21.5h-26.5zM1447.6 1393.4l13.2 21.5h-26.5zM1449.9 1396l13.2 21.5h-26.5zM1452.2 1396.2l13.2 21.5h-26.5zM1454.5 1395.2l13.2 21.5h-26.5zM1456.9 1396.6l13.2 21.5h-26.5zM1459.2 1392.4l13.2 21.5h-26.5zM1461.5 1394.5l13.2 21.5h-26.5zM1463.9 1395.5l13.2 21.5h-26.5zM1466.2 1396.4l13.2 21.5h-26.5zM1468.5 1394.9l13.2 21.5h-26.5zM1470.9 1394.7l13.2 21.5h-26.5zM1473.2 1393.5l13.2 21.5h-26.5zM1475.5 1394.4l13.2 21.5h-26.5zM1477.8 1394.3l13.2 21.5h-26.5zM1480.2 1396l13.2 21.5h-26.5zM1482.5 1395.6l13.2 21.5h-26.5zM1484.8 1395.1l13.2 21.5h-26.5zM1487.2 1396.1l13.2 21.5h-26.5zM1489.5 1391.8l13.2 21.5h-26.5zM1491.8 1395.3l13.2 21.5h-26.5zM1494.1 1393.8l13.2 21.5h-26.5zM1496.5 1395.2l13.2 21.5h-26.5zM1498.8 1392.9l13.2 21.5h-26.5zM1501.1 1393.8l13.2 21.5h-26.5zM1503.5 1395.6l13.2 21.5h-26.5zM1505.8 1391.6l13.2 21.5h-26.5zM1508.1 1392.9l13.2 21.5h-26.5zM1510.4 1393.9l13.2 21.5h-26.5zM1512.8 1395.7l13.2 21.5h-26.5zM1515.1 1392.8l13.2 21.5h-26.5zM1517.4 1395.4l13.2 21.5h-26.5zM1519.8 1392l13.2 21.5h-26.5zM1522.1 1391.7l13.2 21.5h-26.5zM1524.4 1392.3l13.2 21.5h-26.5zM1526.7 1392.2l13.2 21.5h-26.5zM1529.1 1392.8l13.2 21.5h-26.5zM1531.4 1392.2l13.2 21.5h-26.5zM1533.7 1388.5l13.2 21.5h-26.5zM1536.1 1390.4l13.2 21.5h-26.5zM1538.4 1389.2l13.2 21.5h-26.5zM1540.7 1387.4l13.2 21.5h-26.5zM1543.1 1388.8l13.2 21.5h-26.5zM1545.4 1388.8l13.2 21.5h-26.5zM1547.7 1386.1l13.2 21.5h-26.5zM1550 1387.7l13.2 21.5h-26.5zM1552.4 1383.2l13.2 21.5h-26.5zM1554.7 1382.9l13.2 21.5h-26.5zM1557 1385.7l13.2 21.5h-26.5zM1559.4 1383.3l13.2 21.5h-26.5zM1561.7 1384.6l13.2 21.5h-26.5zM1564 1384.1l13.2 21.5h-26.5zM1566.3 1382.2l13.2 21.5h-26.5zM1568.7 1385.1l13.2 21.5h-26.5zM1571 1385l13.2 21.5h-26.5zM1573.3 1381.9l13.2 21.5h-26.5zM1575.7 1382.3l13.2 21.5h-26.5zM1578 1384.9l13.2 21.5h-26.5zM1580.3 1385.4l13.2 21.5h-26.5zM1582.6 1385l13.2 21.5h-26.5zM1585 1383.1l13.2 21.5h-26.5zM1587.3 1382.3l13.2 21.5h-26.5zM1589.6 1382.6l13.2 21.5h-26.5zM1592 1381.1l13.2 21.5h-26.5zM1594.3 1382.6l13.2 21.5h-26.5zM1596.6 1381.2l13.2 21.5h-26.5zM1598.9 1380.8l13.2 21.5h-26.5zM1601.3 1381.8l13.2 21.5h-26.5zM1603.6 1380.1l13.2 21.5h-26.5zM1605.9 1382l13.2 21.5h-26.5zM1608.3 1383.1l13.2 21.5h-26.5zM1610.6 1382.7l13.2 21.5h-26.5zM1612.9 1384.3l13.2 21.5h-26.5zM1615.2 1383.7l13.2 21.5h-26.5zM1617.6 1382.4l13.2 21.5h-26.5zM1619.9 1383.6l13.2 21.5h-26.5zM1622.2 1381.2l13.2 21.5h-26.5zM1624.6 1382.9l13.2 21.5h-26.5zM1626.9 1380.3l13.2 21.5h-26.5zM1629.2 1381.4l13.2 21.5h-26.5zM1631.6 1383.5l13.2 21.5h-26.5zM1633.9 1381.4l13.2 21.5h-26.5zM1636.2 1380.8l13.2 21.5h-26.5zM1638.5 1382.1l13.2 21.5h-26.5zM1640.9 1379.6l13.2 21.5h-26.5zM1643.2 1382l13.2 21.5h-26.5zM1645.5 1377.8l13.2 21.5h-26.5zM1647.9 1378.8l13.2 21.5h-26.5zM1650.2 1378.3l13.2 21.5h-26.5zM1652.5 1378.6l13.2 21.5h-26.5zM1654.8 1381.9l13.2 21.5h-26.5zM1657.2 1377.1l13.2 21.5h-26.5zM1659.5 1378.4l13.2 21.5h-26.5zM1661.8 1379.6l13.2 21.5h-26.5zM1664.2 1380.1l13.2 21.5h-26.5zM1666.5 1380.3l13.2 21.5h-26.5zM1668.8 1378.3l13.2 21.5h-26.5zM1671.1 1377.4l13.2 21.5h-26.5zM1673.5 1380.5l13.2 21.5h-26.5zM1675.8 1376.8l13.2 21.5h-26.5zM1678.1 1376.5l13.2 21.5h-26.5zM1680.5 1377.3l13.2 21.5h-26.5zM1682.8 1378.5l13.2 21.5h-26.5zM1685.1 1380.7l13.2 21.5h-26.5zM1687.4 1379.6l13.2 21.5h-26.5zM1689.8 1378.7l13.2 21.5h-26.5zM1692.1 1378.4l13.2 21.5h-26.5zM1694.4 1379.2l13.2 21.5h-26.5zM1696.8 1378.9l13.2 21.5h-26.5zM1699.1 1377.3l13.2 21.5h-26.5zM1701.4 1376.1l13.2 21.5h-26.5zM1703.8 1376.6l13.2 21.5h-26.5zM1706.1 1379.4l13.2 21.5h-26.5zM1708.4 1378.6l13.2 21.5h-26.5zM1710.7 1379.3l13.2 21.5h-26.5zM1713.1 1375.5l13.2 21.5h-26.5zM1715.4 1379.7l13.2 21.5h-26.5zM1717.7 1377.1l13.2 21.5h-26.5zM1720.1 1379.7l13.2 21.5h-26.5zM1722.4 1378l13.2 21.5h-26.5zM1724.7 1377.7l13.2 21.5h-26.5zM1727 1379l13.2 21.5h-26.5zM1729.4 1378l13.2 21.5h-26.5zM1731.7 1378.2l13.2 21.5h-26.5zM1734 1375.5l13.2 21.5h-26.5zM1736.4 1377.7l13.2 21.5h-26.5zM1738.7 1376.4l13.2 21.5h-26.5zM1741 1374.9l13.2 21.5h-26.5zM1743.3 1375.1l13.2 21.5h-26.5zM1745.7 1376.8l13.2 21.5h-26.5zM1748 1375.7l13.2 21.5h-26.5zM1750.3 1378.1l13.2 21.5h-26.5zM1752.7 1374.9l13.2 21.5h-26.5zM1755 1374.3l13.2 21.5h-26.5zM1757.3 1379.1l13.2 21.5h-26.5zM1759.6 1375.6l13.2 21.5h-26.5zM1762 1376.6l13.2 21.5h-26.5zM1764.3 1375l13.2 21.5h-26.5zM1766.6 1374.9l13.2 21.5h-26.5zM1769 1375.8l13.2 21.5h-26.5zM1771.3 1377.7l13.2 21.5h-26.5zM1773.6 1373.9l13.2 21.5h-26.5zM1776 1377.8l13.2 21.5h-26.5zM1778.3 1378.6l13.2 21.5h-26.5zM1780.6 1376.3l13.2 21.5h-26.5zM1782.9 1375.3l13.2 21.5h-26.5zM1785.3 1374.6l13.2 21.5h-26.5zM1787.6 1374.3l13.2 21.5h-26.5zM1789.9 1374.9l13.2 21.5h-26.5zM1792.3 1377.5l13.2 21.5h-26.5zM1794.6 1373.2l13.2 21.5h-26.5zM1796.9 1377.1l13.2 21.5h-26.5zM1799.2 1376.4l13.2 21.5h-26.5zM1801.6 1373.1l13.2 21.5h-26.5zM1803.9 1373.3l13.2 21.5h-26.5zM1806.2 1376.6l13.2 21.5h-26.5zM1808.6 1376.2l13.2 21.5h-26.5zM1810.9 1374.4l13.2 21.5h-26.5zM1813.2 1377l13.2 21.5h-26.5zM1815.5 1373.7l13.2 21.5h-26.5zM1817.9 1374.8l13.2 21.5h-26.5zM1820.2 1373.1l13.2 21.5h-26.5zM1822.5 1375.7l13.2 21.5h-26.5zM1824.9 1372.8l13.2 21.5h-26.5zM1827.2 1373.2l13.2 21.5h-26.5zM1829.5 1376.1l13.2 21.5h-26.5zM1831.8 1374.7l13.2 21.5h-26.5zM1834.2 1375.4l13.2 21.5h-26.5zM1836.5 1375.7l13.2 21.5h-26.5zM1838.8 1374.9l13.2 21.5h-26.5zM1841.2 1372.8l13.2 21.5h-26.5zM1843.5 1375.2l13.2 21.5h-26.5zM1845.8 1372.2l13.2 21.5h-26.5zM1848.1 1372.9l13.2 21.5h-26.5zM1850.5 1373.7l13.2 21.5h-26.5zM1852.8 1372l13.2 21.5h-26.5zM1855.1 1371.9l13.2 21.5h-26.5zM1857.5 1374.5l13.2 21.5h-26.5zM1859.8 1374.9l13.2 21.5h-26.5zM1862.1 1372.9l13.2 21.5h-26.5zM1864.5 1372.8l13.2 21.5h-26.5zM1866.8 1371.7l13.2 21.5h-26.5zM1869.1 1373.1l13.2 21.5h-26.5zM1871.4 1373.3l13.2 21.5h-26.5zM1873.8 1374.8l13.2 21.5h-26.5zM1876.1 1370.2l13.2 21.5h-26.5zM1878.4 1374.4l13.2 21.5h-26.5zM1880.8 1374.6l13.2 21.5h-26.5zM1883.1 1371.2l13.2 21.5h-26.5zM1885.4 1372.9l13.2 21.5h-26.5zM1887.7 1373.3l13.2 21.5h-26.5zM1890.1 1372.2l13.2 21.5h-26.5zM1892.4 1370.2l13.2 21.5h-26.5zM1894.7 1371.7l13.2 21.5h-26.5zM1897.1 1372.8l13.2 21.5h-26.5zM1899.4 1368.8l13.2 21.5h-26.5zM1901.7 1370.5l13.2 21.5h-26.5zM1904 1368.1l13.2 21.5h-26.5zM1906.4 1372.2l13.2 21.5h-26.5zM1908.7 1371.7l13.2 21.5h-26.5zM1911 1368l13.2 21.5h-26.5zM1913.4 1371.4l13.2 21.5h-26.5zM1915.7 1371l13.2 21.5h-26.5zM1918 1368.1l13.2 21.5h-26.5zM1920.3 1370l13.2 21.5h-26.5zM1922.7 1370.7l13.2 21.5h-26.5zM1925 1368.9l13.2 21.5h-26.5zM1927.3 1369.6l13.2 21.5h-26.5zM1929.7 1371.9l13.2 21.5h-26.5zM1932 1370.1l13.2 21.5h-26.5zM1934.3 1369.3l13.2 21.5h-26.5zM1936.7 1367.1l13.2 21.5h-26.5zM1939 1367.2l13.2 21.5h-26.5zM1941.3 1370.8l13.2 21.5h-26.5zM1943.6 1370.2l13.2 21.5h-26.5zM1946 1370.6l13.2 21.5h-26.5zM1948.3 1369.3l13.2 21.5h-26.5zM1950.6 1369.2l13.2 21.5h-26.5zM1953 1368.9l13.2 21.5h-26.5zM1955.3 1369.9l13.2 21.5h-26.5zM1957.6 1367.8l13.2 21.5h-26.5zM1959.9 1368.6l13.2 21.5h-26.5zM1962.3 1368.4l13.2 21.5h-26.5zM1964.6 1369.3l13.2 21.5h-26.5zM1966.9 1367l13.2 21.5h-26.5zM1969.3 1366l13.2 21.5h-26.5zM1971.6 1366.2l13.2 21.5h-26.5zM1973.9 1366.6l13.2 21.5h-26.5zM1976.2 1370l13.2 21.5h-26.5zM1978.6 1369.2l13.2 21.5h-26.5zM1980.9 1369.3l13.2 21.5h-26.5zM1983.2 1367.7l13.2 21.5h-26.5zM1985.6 1365.9l13.2 21.5h-26.5zM1987.9 1367.6l13.2 21.5h-26.5zM1990.2 1369.6l13.2 21.5h-26.5zM1992.5 1367.7l13.2 21.5h-26.5zM1994.9 1368.2l13.2 21.5h-26.5zM1997.2 1366.9l13.2 21.5h-26.5zM1999.5 1365.7l13.2 21.5h-26.5zM2001.9 1368l13.2 21.5h-26.5zM2004.2 1367.2l13.2 21.5h-26.5zM2006.5 1366.4l13.2 21.5h-26.5zM2008.9 1365.9l13.2 21.5h-26.5zM2011.2 1368l13.2 21.5h-26.5zM2013.5 1366l13.2 21.5h-26.5zM2015.8 1367.2l13.2 21.5h-26.5zM2018.2 1365.6l13.2 21.5h-26.5zM2020.5 1368l13.2 21.5h-26.5zM2022.8 1366l13.2 21.5h-26.5zM2025.2 1366.4l13.2 21.5h-26.5zM2027.5 1368.5l13.2 21.5h-26.5zM2029.8 1367.3l13.2 21.5h-26.5zM2032.1 1367.3l13.2 21.5h-26.5zM2034.5 1365.2l13.2 21.5h-26.5zM2036.8 1367.6l13.2 21.5h-26.5zM2039.1 1365.2l13.2 21.5h-26.5zM2041.5 1368.1l13.2 21.5h-26.5zM2043.8 1367.5l13.2 21.5h-26.5zM2046.1 1366.2l13.2 21.5h-26.5zM2048.4 1367l13.2 21.5h-26.5zM2050.8 1365.4l13.2 21.5h-26.5zM2053.1 1366.2l13.2 21.5h-26.5zM2055.4 1363.1l13.2 21.5h-26.5zM2057.8 1367.3l13.2 21.5h-26.5zM2060.1 1366.2l13.2 21.5h-26.5zM2062.4 1362.9l13.2 21.5h-26.5zM2064.7 1363.5l13.2 21.5h-26.5zM2067.1 1365.2l13.2 21.5h-26.5zM2069.4 1366.2l13.2 21.5h-26.5zM2071.7 1363.2l13.2 21.5h-26.5zM2074.1 1367.4l13.2 21.5h-26.5zM2076.4 1364.4l13.2 21.5h-26.5zM2078.7 1367.7l13.2 21.5h-26.5zM2081 1366.6l13.2 21.5h-26.5zM2083.4 1365.3l13.2 21.5h-26.5zM2085.7 1364.8l13.2 21.5h-26.5zM2088 1363.6l13.2 21.5h-26.5zM2090.4 1363.6l13.2 21.5h-26.5zM2092.7 1366.4l13.2 21.5h-26.5zM2095 1367.2l13.2 21.5h-26.5zM2097.4 1367.9l13.2 21.5h-26.5zM2099.7 1365.3l13.2 21.5h-26.5zM2102 1368.2l13.2 21.5h-26.5zM2104.3 1365.1l13.2 21.5h-26.5zM2106.7 1368.5l13.2 21.5h-26.5zM2109 1368.5l13.2 21.5h-26.5zM2111.3 1364.7l13.2 21.5h-26.5zM2113.7 1368.4l13.2 21.5h-26.5zM2116 1367.7l13.2 21.5h-26.5zM2118.3 1367.8l13.2 21.5h-26.5zM2120.6 1368.6l13.2 21.5h-26.5zM2123 1367.1l13.2 21.5h-26.5zM2125.3 1367.1l13.2 21.5h-26.5z"/>
<path fill="none" stroke="#008080" stroke-width="0.8" d="M354.8 667.5 357 678.7 359.4 690.6 361.7 714.6 363.6 736.7 366.8 764.4 369.1 775.4 371.5 800.2 373.5 836.2 375.3 853.7 377.6 874 380.4 899.8 382.7 912.7 385.5 936.6 387.5 949.5 390.2 971.7 392.5 990.2 394.9 1002.8 397.2 1008.4 399.5 1020.4 401.8 1024.5 404.2 1030.6 406.5 1037.2 408.8 1045.5 411.2 1049.5 413.5 1054.8 415.8 1059.5 418.1 1066.1 420.5 1073.2 422.8 1073.3 425.1 1079.5 427.5 1084 429.8 1085 432.1 1089.7 434.4 1095.8 436.8 1099.2 439.1 1101.5 441.4 1101.1 443.8 1106.9 446.1 1108.2 448.4 1109.6 450.7 1114 453.1 1119 455.4 1121.6 457.7 1122 460.1 1123.1 462.4 1130.1 464.7 1133.3 467.1 1133.7 469.4 1135 471.7 1139.3 474 1142.8 476.4 1144.5 478.7 1146.6 481 1148.7 483.4 1150.7 485.7 1151.1 488 1153.9 490.3 1159.1 492.7 1156 495 1161.4 497.3 1163.4 499.7 1163.2 502 1165.8 504.3 1165.7 506.6 1169.6 509 1170.6 511.3 1171.5 513.6 1171 516 1174.2 518.3 1174.4 520.6 1173.7 522.9 1175 525.3 1173.7 527.6 1177.8 529.9 1177.1 532.3 1179 534.6 1176.7 536.9 1180.9 539.3 1177.2 541.6 1180 543.9 1178.6 546.2 1179.7 548.6 1184 550.9 1182.3 553.2 1185.7 555.6 1186.5 557.9 1191.6 560.2 1189.5 562.5 1192.5 564.9 1196.8 567.2 1197.4 569.5 1199 571.9 1201.9 574.2 1198.5 576.5 1203.1 578.8 1205 581.2 1206.4 583.5 1207.1 585.8 1203.4 588.2 1203 590.5 1206 592.8 1204.7 595.1 1202.5 597.5 1200.8 599.8 1202.9 602.1 1200.7 604.5 1205.4 606.8 1204.8 609.1 1208.5 611.5 1206.3 613.8 1209.7 616.1 1209.1 618.4 1213.9 620.8 1213.9 623.1 1212.1 625.4 1215.7 627.8 1214.1 630.1 1212.3 632.4 1214.8 634.7 1212.3 637.1 1215 639.4 1211.8 641.7 1215.5 644.1 1211.3 646.4 1215 648.7 1213.1 651 1214.1 653.4 1215.5 655.7 1212.9 658 1214.3 660.4 1214.5 662.7 1218.5 665 1216.7 667.3 1218.9 669.7 1218.8 672 1219.2 674.3 1223.5 676.7 1222 679 1222.2 681.3 1222 683.6 1222.2 686 1218.9 688.3 1217.5 690.6 1219 693 1217.1 695.3 1215.8 697.6 1219.6 700 1217.4 702.3 1215.7 704.6 1213.6 706.9 1216 709.3 1214.2 711.6 1211.7 713.9 1214.9 716.3 1213.5 718.6 1212.1 720.9 1210.3 723.2 1207.5 725.6 1205.1 727.9 1205.6 730.2 1201.8 732.6 1203 734.9 1200 737.2 1199.5 739.5 1202.8 741.9 1200.7 744.2 1202.2 746.5 1202.4 748.9 1202.5 751.2 1201.1 753.5 1201.8 755.8 1200.4 758.2 1201.3 760.5 1200.7 762.8 1195.9 765.2 1196.6 767.5 1196.7 769.8 1195.6 772.2 1196.7 774.5 1201.5 776.8 1198.7 779.1 1200.9 781.5 1205.1 783.8 1203.9 786.1 1205.4 788.5 1210.3 790.8 1209.4 793.1 1208 795.4 1206.6 797.8 1207.3 800.1 1211 802.4 1210.2 804.8 1206.7 807.1 1210 809.4 1208 811.7 1209.4 814.1 1206.9 816.4 1205.8 818.7 1204.9 821.1 1205.9 823.4 1208.4 825.7 1208.2 828 1207.2 830.4 1207.7 832.7 1205 835 1205.9 837.4 1208.8 839.7 1209.3 842 1206.7 844.4 1208.5 846.7 1209.2 849 1209.4 851.3 1205.7 853.7 1207.4 856 1206 858.3 1206.3 860.7 1206.1 863 1205.1 865.3 1202.6 867.6 1205 870 1203.4 872.3 1202.8 874.6 1198.1 877 1197.2 879.3 1197.7 881.6 1198.5 883.9 1195.5 886.3 1193.4 888.6 1194.7 890.9 1195.8 893.3 1195.2 895.6 1195.3 897.9 1192.7 900.2 1191.9 902.6 1194.2 904.9 1192.4 907.2 1191.3 909.6 1187.6 911.9 1185.7 914.2 1184.7 916.5 1187 918.9 1186.4 921.2 1182.9 923.5 1185 925.9 1182.4 928.2 1182.6 930.5 1183.1 932.9 1181.2 935.2 1181.4 937.5 1181.2 939.8 1181.1 942.2 1182.2 944.5 1179.6 946.8 1182.3 949.2 1178.5 951.5 1179.1 953.8 1179.3 956.1 1176 958.5 1176.6 960.8 1176.7 963.1 1175.8 965.5 1176.7 967.8 1175.2 970.1 1170.9 972.4 1173.6 974.8 1171.2 977.1 1170.9 979.4 1167.4 981.8 1168 984.1 1168.2 986.4 1167.9 988.7 1167.1 991.1 1163.3 993.4 1165.6 995.7 1163.5 998.1 1163.1 1000.4 1163.2 1002.7 1160.2 1005.1 1162 1007.4 1161.8 1009.7 1161.5 1012 1159.4 1014.4 1160.2 1016.7 1158.5 1019 1161.5 1021.4 1162.2 1023.7 1158.6 1026 1161.6 1028.3 1161.5 1030.7 1158.3 1033 1162.8 1035.3 1160.8 1037.7 1159.8 1040 1158.7 1042.3 1162.6 1044.6 1160.5 1047 1162.1 1049.3 1164.3 1051.6 1170.2 1054 1173 1056.3 1178.9 1058.6 1186 1060.9 1195.9 1063.3 1203.9 1065.6 1214.2 1067.9 1230.1 1070.3 1244.6 1072.6 1256.6 1074.9 1256.3 1077.2 1258.3 1079.6 1264.7 1081.9 1272.3 1084.2 1280.5 1086.6 1289.3 1088.9 1295.1 1091.2 1303.2 1093.6 1310.8 1095.9 1315.2 1098.2 1322.5 1100.5 1327.5 1102.9 1334.7 1105.2 1341.1 1107.5 1345.6 1109.9 1349.6 1112.2 1353 1114.5 1354.9 1116.8 1359.2 1119.2 1365.2 1121.5 1369.3 1123.8 1368.6 1126.2 1370.8 1128.5 1378.7 1130.8 1381.2 1133.1 1383.1 1135.5 1386.9 1137.8 1387.5 1140.1 1390.7 1142.5 1389.1 1144.8 1391.8 1147.1 1394.6 1149.4 1394 1151.8 1397.9 1154.1 1396.7 1156.4 1400 1158.8 1401.6 1161.1 1400.7 1163.4 1404.6 1165.8 1403.7 1168.1 1404.7 1170.4 1401.3 1172.7 1402.1 1175.1 1405.4 1177.4 1406.9 1179.7 1405.7 1182.1 1407.4 1184.4 1403.5 1186.7 1407.9 1189 1408.2 1191.4 1407.3 1193.7 1406.6 1196 1408 1198.4 1405.7 1200.7 1407.8 1203 1408 1205.3 1407.2 1207.7 1405.8 1210 1404.5 1212.3 1405.5 1214.7 1408.7 1217 1405.6 1219.3 1404.9 1221.6 1405.7 1224 1407 1226.3 1407.1 1228.6 1408.3 1231 1407.9 1233.3 1408.3 1235.6 1407.6 1238 1405.2 1240.3 1403.4 1242.6 1407.2 1244.9 1403.3 1247.3 1405.1 1249.6 1403 1251.9 1405.5 1254.3 1402.1 1256.6 1402.8 1258.9 1401.5 1261.2 1404.3 1263.6 1402.7 1265.9 1402.4 1268.2 1400.5 1270.6 1399.4 1272.9 1402.5 1275.2 1401.6 1277.5 1401.1 1279.9 1402.1 1282.2 1399.4 1284.5 1397 1286.9 1398.7 1289.2 1396.6 1291.5 1397.3 1293.8 1396.5 1296.2 1396.5 1298.5 1397.8 1300.8 1396.8 1303.2 1394.3 1305.5 1395.9 1307.8 1395.6 1310.2 1394.8 1312.5 1393.4 1314.8 1394.9 1317.1 1392.7 1319.5 1390.5 1321.8 1391.1 1324.1 1392.8 1326.5 1391.2 1328.8 1391.1 1331.1 1390.8 1333.4 1389.5 1335.8 1388.8 1338.1 1388.3 1340.4 1391.2 1342.8 1389.2 1345.1 1389.6 1347.4 1391.7 1349.7 1389.9 1352.1 1390.7 1354.4 1390.4 1356.7 1391.3 1359.1 1386.8 1361.4 1388.4 1363.7 1391.1 1366 1388.7 1368.4 1390.9 1370.7 1386.8 1373 1385.8 1375.4 1389.7 1377.7 1386.9 1380 1387.1 1382.3 1388.9 1384.7 1385 1387 1388.4 1389.3 1385.2 1391.7 1384.2 1394 1383.8 1396.3 1384.9 1398.7 1384.3 1401 1386.1 1403.3 1381.6 1405.6 1381.3 1408 1381.8 1410.3 1384.1 1412.6 1384.9 1415 1383.4 1417.3 1384 1419.6 1384.2 1421.9 1381 1424.3 1382.1 1426.6 1385.9 1428.9 1382.5 1431.3 1385.5 1433.6 1383.3 1435.9 1381.9 1438.2 1380.8 1440.6 1381.8 1442.9 1382.3 1445.2 1382.8 1447.6 1382.8 1449.9 1383.2 1452.2 1382.8 1454.5 1380.5 1456.9 1381.6 1459.2 1385.1 1461.5 1380.3 1463.9 1383.8 1466.2 1382.4 1468.5 1383.5 1470.9 1381.6 1473.2 1381.7 1475.5 1382.4 1477.8 1384.3 1480.2 1381.3 1482.5 1380.1 1484.8 1379.8 1487.2 1384 1489.5 1381.1 1491.8 1380.1 1494.1 1382.5 1496.5 1383.7 1498.8 1382.4 1501.1 1380.2 1503.5 1381.4 1505.8 1380.7 1508.1 1379.4 1510.4 1384.1 1512.8 1381.6 1515.1 1379.9 1517.4 1383.5 1519.8 1383.4 1522.1 1382 1524.4 1378.6 1526.7 1377.7 1529.1 1378.8 1531.4 1378.5 1533.7 1379.4 1536.1 1379.2 1538.4 1378.4 1540.7 1374.9 1543.1 1375.6 1545.4 1372.7 1547.7 1374.1 1550 1371.2 1552.4 1370.8 1554.7 1370.4 1557 1371.2 1559.4 1371.1 1561.7 1373 1564 1369.7 1566.3 1369.8 1568.7 1372.4 1571 1372.4 1573.3 1372.4 1575.7 1372.4 1578 1372 1580.3 1371.3 1582.6 1372.1 1585 1368.7 1587.3 1369.3 1589.6 1371.8 1592 1368.9 1594.3 1370.4 1596.6 1368.8 1598.9 1369.4 1601.3 1371.2 1603.6 1370.1 1605.9 1368.8 1608.3 1367.7 1610.6 1370.1 1612.9 1369.1 1615.2 1367.8 1617.6 1369.7 1619.9 1368.6 1622.2 1369.8 1624.6 1368 1626.9 1368.9 1629.2 1366.9 1631.6 1367.6 1633.9 1368.2 1636.2 1364.3 1638.5 1366.1 1640.9 1366.7 1643.2 1363.8 1645.5 1367.4 1647.9 1366.9 1650.2 1367.9 1652.5 1364.9 1654.8 1365.3 1657.2 1367.4 1659.5 1364.8 1661.8 1366.8 1664.2 1364.6 1666.5 1364.1 1668.8 1363.9 1671.1 1363.6 1673.5 1364.8 1675.8 1363.5 1678.1 1366.9 1680.5 1367.7 1682.8 1363.4 1685.1 1363.3 1687.4 1363.1 1689.8 1367.8 1692.1 1363.6 1694.4 1366.7 1696.8 1364.9 1699.1 1364.5 1701.4 1364.6 1703.8 1366.5 1706.1 1362.9 1708.4 1366.9 1710.7 1365.2 1713.1 1363.3 1715.4 1362.9 1717.7 1364.9 1720.1 1364.5 1722.4 1362.7 1724.7 1362.5 1727 1362.9 1729.4 1364.9 1731.7 1362.8 1734 1364.1 1736.4 1362.8 1738.7 1362.2 1741 1361.6 1743.3 1362.5 1745.7 1361.5 1748 1362.6 1750.3 1359.9 1752.7 1360.5 1755 1363.2 1757.3 1360.8 1759.6 1362.9 1762 1363.3 1764.3 1361.5 1766.6 1359.1 1769 1362.3 1771.3 1361.8 1773.6 1359.8 1776 1362.6 1778.3 1360.7 1780.6 1358.5 1782.9 1358.5 1785.3 1359.2 1787.6 1361 1789.9 1361.9 1792.3 1358.3 1794.6 1357.8 1796.9 1360.7 1799.2 1359.6 1801.6 1359.7 1803.9 1361.5 1806.2 1361.9 1808.6 1362.1 1810.9 1361 1813.2 1357.1 1815.5 1357.7 1817.9 1359.8 1820.2 1361.6 1822.5 1357.1 1824.9 1359.2 1827.2 1358.5 1829.5 1358.4 1831.8 1357.6 1834.2 1357.5 1836.5 1357.2 1838.8 1356.4 1841.2 1358.5 1843.5 1357.9 1845.8 1359.1 1848.1 1358.6 1850.5 1360.1 1852.8 1356.9 1855.1 1359.5 1857.5 1356.9 1859.8 1358.1 1862.1 1358.7 1864.5 1356.5 1866.8 1356.6 1869.1 1357.4 1871.4 1354.7 1873.8 1356.6 1876.1 1354.3 1878.4 1354.8 1880.8 1356.6 1883.1 1358.2 1885.4 1358.2 1887.7 1354.4 1890.1 1353.6 1892.4 1355.3 1894.7 1354.8 1897.1 1354.4 1899.4 1356.1 1901.7 1355.7 1904 1354.9 1906.4 1355.1 1908.7 1354.8 1911 1355.2 1913.4 1356.4 1915.7 1356.4 1918 1356.5 1920.3 1355.8 1922.7 1352 1925 1353.6 1927.3 1355.2 1929.7 1352.7 1932 1354.2 1934.3 1351.3 1936.7 1352 1939 1352.9 1941.3 1351.1 1943.6 1352.9 1946 1351.9 1948.3 1355 1950.6 1352.3 1953 1352.5 1955.3 1354.6 1957.6 1353.4 1959.9 1350.8 1962.3 1351.6 1964.6 1353.5 1966.9 1351.4 1969.3 1351.6 1971.6 1353.5 1973.9 1352.8 1976.2 1351.6 1978.6 1353 1980.9 1353.4 1983.2 1350.3 1985.6 1351.3 1987.9 1351.3 1990.2 1354.1 1992.5 1349.8 1994.9 1351.1 1997.2 1350.2 1999.5 1352.6 2001.9 1353 2004.2 1349.1 2006.5 1353 2008.9 1352 2011.2 1349.5 2013.5 1352.9 2015.8 1349.6 2018.2 1351.9 2020.5 1348.2 2022.8 1349.9 2025.2 1350 2027.5 1351.7 2029.8 1351.2 2032.1 1349.5 2034.5 1346.8 2036.8 1348.4 2039.1 1347.9 2041.5 1350.8 2043.8 1349 2046.1 1347.4 2048.4 1346.9 2050.8 1348.7 2053.1 1345.1 2055.4 1348.5 2057.8 1347.5 2060.1 1346.1 2062.4 1347.4 2064.7 1346 2067.1 1344.8 2069.4 1346.3 2071.7 1344.7 2074.1 1345 2076.4 1346.9 2078.7 1348.9 2081 1346 2083.4 1347.6 2085.7 1350.1 2088 1349.5 2090.4 1350 2092.7 1349 2095 1348.7 2097.4 1348.8 2099.7 1349.1 2102 1348.5 2104.3 1348.2 2106.7 1347.7 2109 1347 2111.3 1348.7 2113.7 1350.9 2116 1349.9 2118.3 1348.2 2120.6 1351.6 2123 1347.9 2125.3 1352.5"/>
<path fill="#008080" d="M354.8 678.2l13.2 -21.5h-26.5zM357 689.5l13.2 -21.5h-26.5zM359.4 701.4l13.2 -21.5h-26.5zM361.7 725.4l13.2 -21.5h-26.5zM363.6 747.5l13.2 -21.5h-26.5zM366.8 775.1l13.2 -21.5h-26.5zM369.1 786.1l13.2 -21.5h-26.5zM371.5 811l13.2 -21.5h-26.5zM373.5 847l13.2 -21.5h-26.5zM375.3 864.5l13.2 -21.5h-26.5zM377.6 884.8l13.2 -21.5h-26.5zM380.4 910.5l13.2 -21.5h-26.5zM382.7 923.5l13.2 -21.5h-26.5zM385.5 947.4l13.2 -21.5h-26.5zM387.5 960.2l13.2 -21.5h-26.5zM390.2 982.4l13.2 -21.5h-26.5zM392.5 1001l13.2 -21.5h-26.5zM394.9 1013.6l13.2 -21.5h-26.5zM397.2 1019.2l13.2 -21.5h-26.5zM399.5 1031.2l13.2 -21.5h-26.5zM401.8 1035.3l13.2 -21.5h-26.5zM404.2 1041.4l13.2 -21.5h-26.5zM406.5 1048l13.2 -21.5h-26.5zM408.8 1056.3l13.2 -21.5h-26.5zM411.2 1060.3l13.2 -21.5h-26.5zM413.5 1065.5l13.2 -21.5h-26.5zM415.8 1070.3l13.2 -21.5h-26.5zM418.1 1076.8l13.2 -21.5h-26.5zM420.5 1084l13.2 -21.5h-26.5zM422.8 1084.1l13.2 -21.5h-26.5zM425.1 1090.2l13.2 -21.5h-26.5zM427.5 1094.7l13.2 -21.5h-26.5zM429.8 1095.8l13.2 -21.5h-26.5zM432.1 1100.5l13.2 -21.5h-26.5zM434.4 1106.5l13.2 -21.5h-26.5zM436.8 1109.9l13.2 -21.5h-26.5zM439.1 1112.2l13.2 -21.5h-26.5zM441.4 1111.8l13.2 -21.5h-26.5zM443.8 1117.7l13.2 -21.5h-26.5zM446.1 1118.9l13.2 -21.5h-26.5zM448.4 1120.3l13.2 -21.5h-26.5zM450.7 1124.7l13.2 -21.5h-26.5zM453.1 1129.7l13.2 -21.5h-26.5zM455.4 1132.3l13.2 -21.5h-26.5zM457.7 1132.7l13.2 -21.5h-26.5zM460.1 1133.9l13.2 -21.5h-26.5zM462.4 1140.9l13.2 -21.5h-26.5zM464.7 1144l13.2 -21.5h-26.5zM467.1 1144.4l13.2 -21.5h-26.5zM469.4 1145.7l13.2 -21.5h-26.5zM471.7 1150.1l13.2 -21.5h-26.5zM474 1153.6l13.2 -21.5h-26.5zM476.4 1155.2l13.2 -21.5h-26.5zM478.7 1157.3l13.2 -21.5h-26.5zM481 1159.5l13.2 -21.5h-26.5zM483.4 1161.4l13.2 -21.5h-26.5zM485.7 1161.9l13.2 -21.5h-26.5zM488 1164.6l13.2 -21.5h-26.5zM490.3 1169.8l13.2 -21.5h-26.5zM492.7 1166.8l13.2 -21.5h-26.5zM495 1172.1l13.2 -21.5h-26.5zM497.3 1174.1l13.2 -21.5h-26.5zM499.7 1173.9l13.2 -21.5h-26.5zM502 1176.6l13.2 -21.5h-26.5zM504.3 1176.4l13.2 -21.5h-26.5zM506.6 1180.3l13.2 -21.5h-26.5zM509 1181.3l13.2 -21.5h-26.5zM511.3 1182.2l13.2 -21.5h-26.5zM513.6 1181.8l13.2 -21.5h-26.5zM516 1184.9l13.2 -21.5h-26.5zM518.3 1185.1l13.2 -21.5h-26.5zM520.6 1184.4l13.2 -21.5h-26.5zM522.9 1185.7l13.2 -21.5h-26.5zM525.3 1184.5l13.2 -21.5h-26.5zM527.6 1188.6l13.2 -21.5h-26.5zM529.9 1187.8l13.2 -21.5h-26.5zM532.3 1189.8l13.2 -21.5h-26.5zM534.6 1187.4l13.2 -21.5h-26.5zM536.9 1191.6l13.2 -21.5h-26.5zM539.3 1187.9l13.2 -21.5h-26.5zM541.6 1190.8l13.2 -21.5h-26.5zM543.9 1189.4l13.2 -21.5h-26.5zM546.2 1190.5l13.2 -21.5h-26.5zM548.6 1194.8l13.2 -21.5h-26.5zM550.9 1193.1l13.2 -21.5h-26.5zM553.2 1196.4l13.2 -21.5h-26.5zM555.6 1197.2l13.2 -21.5h-26.5zM557.9 1202.3l13.2 -21.5h-26.5zM560.2 1200.2l13.2 -21.5h-26.5zM562.5 1203.3l13.2 -21.5h-26.5zM564.9 1207.6l13.2 -21.5h-26.5zM567.2 1208.2l13.2 -21.5h-26.5zM569.5 1209.7l13.2 -21.5h-26.5zM571.9 1212.6l13.2 -21.5h-26.5zM574.2 1209.2l13.2 -21.5h-26.5zM576.5 1213.9l13.2 -21.5h-26.5zM578.8 1215.7l13.2 -21.5h-26.5zM581.2 1217.2l13.2 -21.5h-26.5zM583.5 1217.9l13.2 -21.5h-26.5zM585.8 1214.2l13.2 -21.5h-26.5zM588.2 1213.8l13.2 -21.5h-26.5zM590.5 1216.8l13.2 -21.5h-26.5zM592.8 1215.5l13.2 -21.5h-26.5zM595.1 1213.3l13.2 -21.5h-26.5zM597.5 1211.5l13.2 -21.5h-26.5zM599.8 1213.7l13.2 -21.5h-26.5zM602.1 1211.5l13.2 -21.5h-26.5zM604.5 1216.2l13.2 -21.5h-26.5zM606.8 1215.5l13.2 -21.5h-26.5zM609.1 1219.3l13.2 -21.5h-26.5zM611.5 1217.1l13.2 -21.5h-26.5zM613.8 1220.5l13.2 -21.5h-26.5zM616.1 1219.9l13.2 -21.5h-26.5zM618.4 1224.7l13.2 -21.5h-26.5zM620.8 1224.6l13.2 -21.5h-26.5zM623.1 1222.9l13.2 -21.5h-26.5zM625.4 1226.4l13.2 -21.5h-26.5zM627.8 1224.9l13.2 -21.5h-26.5zM630.1 1223.1l13.2 -21.5h-26.5zM632.4 1225.5l13.2 -21.5h-26.5zM634.7 1223.1l13.2 -21.5h-26.5zM637.1 1225.8l13.2 -21.5h-26.5zM639.4 1222.5l13.2 -21.5h-26.5zM641.7 1226.3l13.2 -21.5h-26.5zM644.1 1222l13.2 -21.5h-26.5zM646.4 1225.7l13.2 -21.5h-26.5zM648.7 1223.9l13.2 -21.5h-26.5zM651 1224.9l13.2 -21.5h-26.5zM653.4 1226.3l13.2 -21.5h-26.5zM655.7 1223.7l13.2 -21.5h-26.5zM658 1225l13.2 -21.5h-26.5zM660.4 1225.2l13.2 -21.5h-26.5zM662.7 1229.2l13.2 -21.5h-26.5zM665 1227.4l13.2 -21.5h-26.5zM667.3 1229.6l13.2 -21.5h-26.5zM669.7 1229.6l13.2 -21.5h-26.5zM672 1229.9l13.2 -21.5h-26.5zM674.3 1234.2l13.2 -21.5h-26.5zM676.7 1232.7l13.2 -21.5h-26.5zM679 1233l13.2 -21.5h-26.5zM681.3 1232.8l13.2 -21.5h-26.5zM683.6 1232.9l13.2 -21.5h-26.5zM686 1229.7l13.2 -21.5h-26.5zM688.3 1228.3l13.2 -21.5h-26.5zM690.6 1229.7l13.2 -21.5h-26.5zM693 1227.8l13.2 -21.5h-26.5zM695.3 1226.6l13.2 -21.5h-26.5zM697.6 1230.4l13.2 -21.5h-26.5zM700 1228.2l13.2 -21.5h-26.5zM702.3 1226.4l13.2 -21.5h-26.5zM704.6 1224.3l13.2 -21.5h-26.5zM706.9 1226.8l13.2 -21.5h-26.5zM709.3 1224.9l13.2 -21.5h-26.5zM711.6 1222.4l13.2 -21.5h-26.5zM713.9 1225.7l13.2 -21.5h-26.5zM716.3 1224.2l13.2 -21.5h-26.5zM718.6 1222.8l13.2 -21.5h-26.5zM720.9 1221.1l13.2 -21.5h-26.5zM723.2 1218.3l13.2 -21.5h-26.5zM725.6 1215.9l13.2 -21.5h-26.5zM727.9 1216.3l13.2 -21.5h-26.5zM730.2 1212.5l13.2 -21.5h-26.5zM732.6 1213.7l13.2 -21.5h-26.5zM734.9 1210.7l13.2 -21.5h-26.5zM737.2 1210.2l13.2 -21.5h-26.5zM739.5 1213.5l13.2 -21.5h-26.5zM741.9 1211.4l13.2 -21.5h-26.5zM744.2 1213l13.2 -21.5h-26.5zM746.5 1213.2l13.2 -21.5h-26.5zM748.9 1213.2l13.2 -21.5h-26.5zM751.2 1211.9l13.2 -21.5h-26.5zM753.5 1212.6l13.2 -21.5h-26.5zM755.8 1211.2l13.2 -21.5h-26.5zM758.2 1212l13.2 -21.5h-26.5zM760.5 1211.4l13.2 -21.5h-26.5zM762.8 1206.7l13.2 -21.5h-26.5zM765.2 1207.3l13.2 -21.5h-26.5zM767.5 1207.4l13.2 -21.5h-26.5zM769.8 1206.4l13.2 -21.5h-26.5zM772.2 1207.4l13.2 -21.5h-26.5zM774.5 1212.3l13.2 -21.5h-26.5zM776.8 1209.4l13.2 -21.5h-26.5zM779.1 1211.6l13.2 -21.5h-26.5zM781.5 1215.9l13.2 -21.5h-26.5zM783.8 1214.6l13.2 -21.5h-26.5zM786.1 1216.2l13.2 -21.5h-26.5zM788.5 1221.1l13.2 -21.5h-26.5zM790.8 1220.2l13.2 -21.5h-26.5zM793.1 1218.7l13.2 -21.5h-26.5zM795.4 1217.3l13.2 -21.5h-26.5zM797.8 1218.1l13.2 -21.5h-26.5zM800.1 1221.8l13.2 -21.5h-26.5zM802.4 1221l13.2 -21.5h-26.5zM804.8 1217.5l13.2 -21.5h-26.5zM807.1 1220.8l13.2 -21.5h-26.5zM809.4 1218.8l13.2 -21.5h-26.5zM811.7 1220.2l13.2 -21.5h-26.5zM814.1 1217.7l13.2 -21.5h-26.5zM816.4 1216.5l13.2 -21.5h-26.5zM818.7 1215.6l13.2 -21.5h-26.5zM821.1 1216.6l13.2 -21.5h-26.5zM823.4 1219.1l13.2 -21.5h-26.5zM825.7 1218.9l13.2 -21.5h-26.5zM828 1218l13.2 -21.5h-26.5zM830.4 1218.4l13.2 -21.5h-26.5zM832.7 1215.8l13.2 -21.5h-26.5zM835 1216.7l13.2 -21.5h-26.5zM837.4 1219.5l13.2 -21.5h-26.5zM839.7 1220l13.2 -21.5h-26.5zM842 1217.4l13.2 -21.5h-26.5zM844.4 1219.2l13.2 -21.5h-26.5zM846.7 1219.9l13.2 -21.5h-26.5zM849 1220.1l13.2 -21.5h-26.5zM851.3 1216.5l13.2 -21.5h-26.5zM853.7 1218.2l13.2 -21.5h-26.5zM856 1216.7l13.2 -21.5h-26.5zM858.3 1217l13.2 -21.5h-26.5zM860.7 1216.9l13.2 -21.5h-26.5zM863 1215.9l13.2 -21.5h-26.5zM865.3 1213.4l13.2 -21.5h-26.5zM867.6 1215.8l13.2 -21.5h-26.5zM870 1214.1l13.2 -21.5h-26.5zM872.3 1213.6l13.2 -21.5h-26.5zM874.6 1208.8l13.2 -21.5h-26.5zM877 1207.9l13.2 -21.5h-26.5zM879.3 1208.4l13.2 -21.5h-26.5zM881.6 1209.3l13.2 -21.5h-26.5zM883.9 1206.2l13.2 -21.5h-26.5zM886.3 1204.2l13.2 -21.5h-26.5zM888.6 1205.5l13.2 -21.5h-26.5zM890.9 1206.6l13.2 -21.5h-26.5zM893.3 1206l13.2 -21.5h-26.5zM895.6 1206l13.2 -21.5h-26.5zM897.9 1203.5l13.2 -21.5h-26.5zM900.2 1202.6l13.2 -21.5h-26.5zM902.6 1205l13.2 -21.5h-26.5zM904.9 1203.1l13.2 -21.5h-26.5zM907.2 1202.1l13.2 -21.5h-26.5zM909.6 1198.4l13.2 -21.5h-26.5zM911.9 1196.4l13.2 -21.5h-26.5zM914.2 1195.4l13.2 -21.5h-26.5zM916.5 1197.8l13.2 -21.5h-26.5zM918.9 1197.2l13.2 -21.5h-26.5zM921.2 1193.6l13.2 -21.5h-26.5zM923.5 1195.8l13.2 -21.5h-26.5zM925.9 1193.2l13.2 -21.5h-26.5zM928.2 1193.4l13.2 -21.5h-26.5zM930.5 1193.8l13.2 -21.5h-26.5zM932.9 1192l13.2 -21.5h-26.5zM935.2 1192.1l13.2 -21.5h-26.5zM937.5 1192l13.2 -21.5h-26.5zM939.8 1191.8l13.2 -21.5h-26.5zM942.2 1193l13.2 -21.5h-26.5zM944.5 1190.4l13.2 -21.5h-26.5zM946.8 1193l13.2 -21.5h-26.5zM949.2 1189.2l13.2 -21.5h-26.5zM951.5 1189.8l13.2 -21.5h-26.5zM953.8 1190.1l13.2 -21.5h-26.5zM956.1 1186.8l13.2 -21.5h-26.5zM958.5 1187.4l13.2 -21.5h-26.5zM960.8 1187.4l13.2 -21.5h-26.5zM963.1 1186.6l13.2 -21.5h-26.5zM965.5 1187.4l13.2 -21.5h-26.5zM967.8 1185.9l13.2 -21.5h-26.5zM970.1 1181.7l13.2 -21.5h-26.5zM972.4 1184.3l13.2 -21.5h-26.5zM974.8 1182l13.2 -21.5h-26.5zM977.1 1181.7l13.2 -21.5h-26.5zM979.4 1178.1l13.2 -21.5h-26.5zM981.8 1178.8l13.2 -21.5h-26.5zM984.1 1179l13.2 -21.5h-26.5zM986.4 1178.6l13.2 -21.5h-26.5zM988.7 1177.9l13.2 -21.5h-26.5zM991.1 1174.1l13.2 -21.5h-26.5zM993.4 1176.4l13.2 -21.5h-26.5zM995.7 1174.2l13.2 -21.5h-26.5zM998.1 1173.9l13.2 -21.5h-26.5zM1000.4 1174l13.2 -21.5h-26.5zM1002.7 1170.9l13.2 -21.5h-26.5zM1005.1 1172.7l13.2 -21.5h-26.5zM1007.4 1172.5l13.2 -21.5h-26.5zM1009.7 1172.2l13.2 -21.5h-26.5zM1012 1170.1l13.2 -21.5h-26.5zM1014.4 1171l13.2 -21.5h-26.5zM1016.7 1169.2l13.2 -21.5h-26.5zM1019 1172.2l13.2 -21.5h-26.5zM1021.4 1173l13.2 -21.5h-26.5zM1023.7 1169.4l13.2 -21.5h-26.5zM1026 1172.4l13.2 -21.5h-26.5zM1028.3 1172.2l13.2 -21.5h-26.5zM1030.7 1169.1l13.2 -21.5h-26.5zM1033 1173.6l13.2 -21.5h-26.5zM1035.3 1171.5l13.2 -21.5h-26.5zM1037.7 1170.6l13.2 -21.5h-26.5zM1040 1169.5l13.2 -21.5h-26.5zM1042.3 1173.4l13.2 -21.5h-26.5zM1044.6 1171.2l13.2 -21.5h-26.5zM1047 1172.8l13.2 -21.5h-26.5zM1049.3 1175.1l13.2 -21.5h-26.5zM1051.6 1181l13.2 -21.5h-26.5zM1054 1183.7l13.2 -21.5h-26.5zM1056.3 1189.6l13.2 -21.5h-26.5zM1058.6 1196.8l13.2 -21.5h-26.5zM1060.9 1206.7l13.2 -21.5h-26.5zM1063.3 1214.7l13.2 -21.5h-26.5zM1065.6 1224.9l13.2 -21.5h-26.5zM1067.9 1240.9l13.2 -21.5h-26.5zM1070.3 1255.3l13.2 -21.5h-26.5zM1072.6 1267.4l13.2 -21.5h-26.5zM1074.9 1267l13.2 -21.5h-26.5zM1077.2 1269.1l13.2 -21.5h-26.5zM1079.6 1275.5l13.2 -21.5h-26.5zM1081.9 1283l13.2 -21.5h-26.5zM1084.2 1291.2l13.2 -21.5h-26.5zM1086.6 1300l13.2 -21.5h-26.5zM1088.9 1305.8l13.2 -21.5h-26.5zM1091.2 1314l13.2 -21.5h-26.5zM1093.6 1321.5l13.2 -21.5h-26.5zM1095.9 1325.9l13.2 -21.5h-26.5zM1098.2 1333.3l13.2 -21.5h-26.5zM1100.5 1338.2l13.2 -21.5h-26.5zM1102.9 1345.5l13.2 -21.5h-26.5zM1105.2 1351.8l13.2 -21.5h-26.5zM1107.5 1356.3l13.2 -21.5h-26.5zM1109.9 1360.3l13.2 -21.5h-26.5zM1112.2 1363.7l13.2 -21.5h-26.5zM1114.5 1365.6l13.2 -21.5h-26.5zM1116.8 1369.9l13.2 -21.5h-26.5zM1119.2 1375.9l13.2 -21.5h-26.5zM1121.5 1380l13.2 -21.5h-26.5zM1123.8 1379.3l13.2 -21.5h-26.5zM1126.2 1381.6l13.2 -21.5h-26.5zM1128.5 1389.4l13.2 -21.5h-26.5zM1130.8 1392l13.2 -21.5h-26.5zM1133.1 1393.8l13.2 -21.5h-26.5zM1135.5 1397.7l13.2 -21.5h-26.5zM1137.8 1398.2l13.2 -21.5h-26.5zM1140.1 1401.5l13.2 -21.5h-26.5zM1142.5 1399.9l13.2 -21.5h-26.5zM1144.8 1402.5l13.2 -21.5h-26.5zM1147.1 1405.3l13.2 -21.5h-26.5zM1149.4 1404.8l13.2 -21.5h-26.5zM1151.8 1408.7l13.2 -21.5h-26.5zM1154.1 1407.5l13.2 -21.5h-26.5zM1156.4 1410.8l13.2 -21.5h-26.5zM1158.8 1412.3l13.2 -21.5h-26.5zM1161.1 1411.5l13.2 -21.5h-26.5zM1163.4 1415.4l13.2 -21.5h-26.5zM1165.8 1414.5l13.2 -21.5h-26.5zM1168.1 1415.4l13.2 -21.5h-26.5zM1170.4 1412.1l13.2 -21.5h-26.5zM1172.7 1412.9l13.2 -21.5h-26.5zM1175.1 1416.2l13.2 -21.5h-26.5zM1177.4 1417.7l13.2 -21.5h-26.5zM1179.7 1416.4l13.2 -21.5h-26.5zM1182.1 1418.2l13.2 -21.5h-26.5zM1184.4 1414.2l13.2 -21.5h-26.5zM1186.7 1418.7l13.2 -21.5h-26.5zM1189 1418.9l13.2 -21.5h-26.5zM1191.4 1418l13.2 -21.5h-26.5zM1193.7 1417.4l13.2 -21.5h-26.5zM1196 1418.8l13.2 -21.5h-26.5zM1198.4 1416.5l13.2 -21.5h-26.5zM1200.7 1418.6l13.2 -21.5h-26.5zM1203 1418.7l13.2 -21.5h-26.5zM1205.3 1417.9l13.2 -21.5h-26.5zM1207.7 1416.6l13.2 -21.5h-26.5zM1210 1415.3l13.2 -21.5h-26.5zM1212.3 1416.2l13.2 -21.5h-26.5zM1214.7 1419.4l13.2 -21.5h-26.5zM1217 1416.3l13.2 -21.5h-26.5zM1219.3 1415.6l13.2 -21.5h-26.5zM1221.6 1416.5l13.2 -21.5h-26.5zM1224 1417.7l13.2 -21.5h-26.5zM1226.3 1417.8l13.2 -21.5h-26.5zM1228.6 1419l13.2 -21.5h-26.5zM1231 1418.7l13.2 -21.5h-26.5zM1233.3 1419l13.2 -21.5h-26.5zM1235.6 1418.3l13.2 -21.5h-26.5zM1238 1415.9l13.2 -21.5h-26.5zM1240.3 1414.1l13.2 -21.5h-26.5zM1242.6 1418l13.2 -21.5h-26.5zM1244.9 1414.1l13.2 -21.5h-26.5zM1247.3 1415.8l13.2 -21.5h-26.5zM1249.6 1413.8l13.2 -21.5h-26.5zM1251.9 1416.3l13.2 -21.5h-26.5zM1254.3 1412.8l13.2 -21.5h-26.5zM1256.6 1413.6l13.2 -21.5h-26.5zM1258.9 1412.2l13.2 -21.5h-26.5zM1261.2 1415l13.2 -21.5h-26.5zM1263.6 1413.5l13.2 -21.5h-26.5zM1265.9 1413.2l13.2 -21.5h-26.5zM1268.2 1411.2l13.2 -21.5h-26.5zM1270.6 1410.2l13.2 -21.5h-26.5zM1272.9 1413.2l13.2 -21.5h-26.5zM1275.2 1412.4l13.2 -21.5h-26.5zM1277.5 1411.9l13.2 -21.5h-26.5zM1279.9 1412.8l13.2 -21.5h-26.5zM1282.2 1410.2l13.2 -21.5h-26.5zM1284.5 1407.8l13.2 -21.5h-26.5zM1286.9 1409.5l13.2 -21.5h-26.5zM1289.2 1407.4l13.2 -21.5h-26.5zM1291.5 1408l13.2 -21.5h-26.5zM1293.8 1407.3l13.2 -21.5h-26.5zM1296.2 1407.3l13.2 -21.5h-26.5zM1298.5 1408.6l13.2 -21.5h-26.5zM1300.8 1407.6l13.2 -21.5h-26.5zM1303.2 1405.1l13.2 -21.5h-26.5zM1305.5 1406.6l13.2 -21.5h-26.5zM1307.8 1406.4l13.2 -21.5h-26.5zM1310.2 1405.5l13.2 -21.5h-26.5zM1312.5 1404.2l13.2 -21.5h-26.5zM1314.8 1405.7l13.2 -21.5h-26.5zM1317.1 1403.4l13.2 -21.5h-26.5zM1319.5 1401.3l13.2 -21.5h-26.5zM1321.8 1401.8l13.2 -21.5h-26.5zM1324.1 1403.5l13.2 -21.5h-26.5zM1326.5 1401.9l13.2 -21.5h-26.5zM1328.8 1401.9l13.2 -21.5h-26.5zM1331.1 1401.6l13.2 -21.5h-26.5zM1333.4 1400.3l13.2 -21.5h-26.5zM1335.8 1399.5l13.2 -21.5h-26.5zM1338.1 1399.1l13.2 -21.5h-26.5zM1340.4 1401.9l13.2 -21.5h-26.5zM1342.8 1399.9l13.2 -21.5h-26.5zM1345.1 1400.3l13.2 -21.5h-26.5zM1347.4 1402.4l13.2 -21.5h-26.5zM1349.7 1400.6l13.2 -21.5h-26.5zM1352.1 1401.5l13.2 -21.5h-26.5zM1354.4 1401.2l13.2 -21.5h-26.5zM1356.7 1402.1l13.2 -21.5h-26.5zM1359.1 1397.6l13.2 -21.5h-26.5zM1361.4 1399.1l13.2 -21.5h-26.5zM1363.7 1401.9l13.2 -21.5h-26.5zM1366 1399.4l13.2 -21.5h-26.5zM1368.4 1401.7l13.2 -21.5h-26.5zM1370.7 1397.5l13.2 -21.5h-26.5zM1373 1396.6l13.2 -21.5h-26.5zM1375.4 1400.4l13.2 -21.5h-26.5zM1377.7 1397.7l13.2 -21.5h-26.5zM1380 1397.8l13.2 -21.5h-26.5zM1382.3 1399.7l13.2 -21.5h-26.5zM1384.7 1395.7l13.2 -21.5h-26.5zM1387 1399.2l13.2 -21.5h-26.5zM1389.3 1396l13.2 -21.5h-26.5zM1391.7 1394.9l13.2 -21.5h-26.5zM1394 1394.5l13.2 -21.5h-26.5zM1396.3 1395.6l13.2 -21.5h-26.5zM1398.7 1395l13.2 -21.5h-26.5zM1401 1396.8l13.2 -21.5h-26.5zM1403.3 1392.3l13.2 -21.5h-26.5zM1405.6 1392.1l13.2 -21.5h-26.5zM1408 1392.6l13.2 -21.5h-26.5zM1410.3 1394.8l13.2 -21.5h-26.5zM1412.6 1395.7l13.2 -21.5h-26.5zM1415 1394.1l13.2 -21.5h-26.5zM1417.3 1394.8l13.2 -21.5h-26.5zM1419.6 1394.9l13.2 -21.5h-26.5zM1421.9 1391.8l13.2 -21.5h-26.5zM1424.3 1392.9l13.2 -21.5h-26.5zM1426.6 1396.6l13.2 -21.5h-26.5zM1428.9 1393.2l13.2 -21.5h-26.5zM1431.3 1396.3l13.2 -21.5h-26.5zM1433.6 1394l13.2 -21.5h-26.5zM1435.9 1392.6l13.2 -21.5h-26.5zM1438.2 1391.5l13.2 -21.5h-26.5zM1440.6 1392.6l13.2 -21.5h-26.5zM1442.9 1393l13.2 -21.5h-26.5zM1445.2 1393.6l13.2 -21.5h-26.5zM1447.6 1393.5l13.2 -21.5h-26.5zM1449.9 1394l13.2 -21.5h-26.5zM1452.2 1393.6l13.2 -21.5h-26.5zM1454.5 1391.3l13.2 -21.5h-26.5zM1456.9 1392.4l13.2 -21.5h-26.5zM1459.2 1395.8l13.2 -21.5h-26.5zM1461.5 1391.1l13.2 -21.5h-26.5zM1463.9 1394.5l13.2 -21.5h-26.5zM1466.2 1393.2l13.2 -21.5h-26.5zM1468.5 1394.3l13.2 -21.5h-26.5zM1470.9 1392.3l13.2 -21.5h-26.5zM1473.2 1392.5l13.2 -21.5h-26.5zM1475.5 1393.1l13.2 -21.5h-26.5zM1477.8 1395l13.2 -21.5h-26.5zM1480.2 1392.1l13.2 -21.5h-26.5zM1482.5 1390.8l13.2 -21.5h-26.5zM1484.8 1390.6l13.2 -21.5h-26.5zM1487.2 1394.8l13.2 -21.5h-26.5zM1489.5 1391.9l13.2 -21.5h-26.5zM1491.8 1390.9l13.2 -21.5h-26.5zM1494.1 1393.2l13.2 -21.5h-26.5zM1496.5 1394.4l13.2 -21.5h-26.5zM1498.8 1393.2l13.2 -21.5h-26.5zM1501.1 1390.9l13.2 -21.5h-26.5zM1503.5 1392.2l13.2 -21.5h-26.5zM1505.8 1391.4l13.2 -21.5h-26.5zM1508.1 1390.2l13.2 -21.5h-26.5zM1510.4 1394.9l13.2 -21.5h-26.5zM1512.8 1392.3l13.2 -21.5h-26.5zM1515.1 1390.6l13.2 -21.5h-26.5zM1517.4 1394.2l13.2 -21.5h-26.5zM1519.8 1394.2l13.2 -21.5h-26.5zM1522.1 1392.7l13.2 -21.5h-26.5zM1524.4 1389.3l13.2 -21.5h-26.5zM1526.7 1388.4l13.2 -21.5h-26.5zM1529.1 1389.5l13.2 -21.5h-26.5zM1531.4 1389.2l13.2 -21.5h-26.5zM1533.7 1390.1l13.2 -21.5h-26.5zM1536.1 1390l13.2 -21.5h-26.5zM1538.4 1389.1l13.2 -21.5h-26.5zM1540.7 1385.7l13.2 -21.5h-26.5zM1543.1 1386.3l13.2 -21.5h-26.5zM1545.4 1383.4l13.2 -21.5h-26.5zM1547.7 1384.8l13.2 -21.5h-26.5zM1550 1382l13.2 -21.5h-26.5zM1552.4 1381.6l13.2 -21.5h-26.5zM1554.7 1381.1l13.2 -21.5h-26.5zM1557 1381.9l13.2 -21.5h-26.5zM1559.4 1381.9l13.2 -21.5h-26.5zM1561.7 1383.7l13.2 -21.5h-26.5zM1564 1380.5l13.2 -21.5h-26.5zM1566.3 1380.5l13.2 -21.5h-26.5zM1568.7 1383.1l13.2 -21.5h-26.5zM1571 1383.1l13.2 -21.5h-26.5zM1573.3 1383.2l13.2 -21.5h-26.5zM1575.7 1383.1l13.2 -21.5h-26.5zM1578 1382.7l13.2 -21.5h-26.5zM1580.3 1382.1l13.2 -21.5h-26.5zM1582.6 1382.9l13.2 -21.5h-26.5zM1585 1379.5l13.2 -21.5h-26.5zM1587.3 1380l13.2 -21.5h-26.5zM1589.6 1382.6l13.2 -21.5h-26.5zM1592 1379.7l13.2 -21.5h-26.5zM1594.3 1381.1l13.2 -21.5h-26.5zM1596.6 1379.6l13.2 -21.5h-26.5zM1598.9 1380.2l13.2 -21.5h-26.5zM1601.3 1381.9l13.2 -21.5h-26.5zM1603.6 1380.8l13.2 -21.5h-26.5zM1605.9 1379.5l13.2 -21.5h-26.5zM1608.3 1378.4l13.2 -21.5h-26.5zM1610.6 1380.9l13.2 -21.5h-26.5zM1612.9 1379.9l13.2 -21.5h-26.5zM1615.2 1378.6l13.2 -21.5h-26.5zM1617.6 1380.5l13.2 -21.5h-26.5zM1619.9 1379.3l13.2 -21.5h-26.5zM1622.2 1380.5l13.2 -21.5h-26.5zM1624.6 1378.7l13.2 -21.5h-26.5zM1626.9 1379.7l13.2 -21.5h-26.5zM1629.2 1377.7l13.2 -21.5h-26.5zM1631.6 1378.4l13.2 -21.5h-26.5zM1633.9 1378.9l13.2 -21.5h-26.5zM1636.2 1375.1l13.2 -21.5h-26.5zM1638.5 1376.9l13.2 -21.5h-26.5zM1640.9 1377.4l13.2 -21.5h-26.5zM1643.2 1374.6l13.2 -21.5h-26.5zM1645.5 1378.1l13.2 -21.5h-26.5zM1647.9 1377.6l13.2 -21.5h-26.5zM1650.2 1378.6l13.2 -21.5h-26.5zM1652.5 1375.7l13.2 -21.5h-26.5zM1654.8 1376.1l13.2 -21.5h-26.5zM1657.2 1378.2l13.2 -21.5h-26.5zM1659.5 1375.5l13.2 -21.5h-26.5zM1661.8 1377.5l13.2 -21.5h-26.5zM1664.2 1375.4l13.2 -21.5h-26.5zM1666.5 1374.8l13.2 -21.5h-26.5zM1668.8 1374.6l13.2 -21.5h-26.5zM1671.1 1374.4l13.2 -21.5h-26.5zM1673.5 1375.5l13.2 -21.5h-26.5zM1675.8 1374.3l13.2 -21.5h-26.5zM1678.1 1377.7l13.2 -21.5h-26.5zM1680.5 1378.5l13.2 -21.5h-26.5zM1682.8 1374.2l13.2 -21.5h-26.5zM1685.1 1374l13.2 -21.5h-26.5zM1687.4 1373.9l13.2 -21.5h-26.5zM1689.8 1378.6l13.2 -21.5h-26.5zM1692.1 1374.4l13.2 -21.5h-26.5zM1694.4 1377.5l13.2 -21.5h-26.5zM1696.8 1375.7l13.2 -21.5h-26.5zM1699.1 1375.2l13.2 -21.5h-26.5zM1701.4 1375.3l13.2 -21.5h-26.5zM1703.8 1377.3l13.2 -21.5h-26.5zM1706.1 1373.7l13.2 -21.5h-26.5zM1708.4 1377.7l13.2 -21.5h-26.5zM1710.7 1375.9l13.2 -21.5h-26.5zM1713.1 1374l13.2 -21.5h-26.5zM1715.4 1373.6l13.2 -21.5h-26.5zM1717.7 1375.6l13.2 -21.5h-26.5zM1720.1 1375.3l13.2 -21.5h-26.5zM1722.4 1373.4l13.2 -21.5h-26.5zM1724.7 1373.3l13.2 -21.5h-26.5zM1727 1373.7l13.2 -21.5h-26.5zM1729.4 1375.7l13.2 -21.5h-26.5zM1731.7 1373.6l13.2 -21.5h-26.5zM1734 1374.8l13.2 -21.5h-26.5zM1736.4 1373.6l13.2 -21.5h-26.5zM1738.7 1372.9l13.2 -21.5h-26.5zM1741 1372.4l13.2 -21.5h-26.5zM1743.3 1373.3l13.2 -21.5h-26.5zM1745.7 1372.3l13.2 -21.5h-26.5zM1748 1373.4l13.2 -21.5h-26.5zM1750.3 1370.6l13.2 -21.5h-26.5zM1752.7 1371.3l13.2 -21.5h-26.5zM1755 1373.9l13.2 -21.5h-26.5zM1757.3 1371.5l13.2 -21.5h-26.5zM1759.6 1373.7l13.2 -21.5h-26.5zM1762 1374.1l13.2 -21.5h-26.5zM1764.3 1372.2l13.2 -21.5h-26.5zM1766.6 1369.8l13.2 -21.5h-26.5zM1769 1373l13.2 -21.5h-26.5zM1771.3 1372.5l13.2 -21.5h-26.5zM1773.6 1370.6l13.2 -21.5h-26.5zM1776 1373.4l13.2 -21.5h-26.5zM1778.3 1371.4l13.2 -21.5h-26.5zM1780.6 1369.2l13.2 -21.5h-26.5zM1782.9 1369.2l13.2 -21.5h-26.5zM1785.3 1369.9l13.2 -21.5h-26.5zM1787.6 1371.7l13.2 -21.5h-26.5zM1789.9 1372.7l13.2 -21.5h-26.5zM1792.3 1369l13.2 -21.5h-26.5zM1794.6 1368.6l13.2 -21.5h-26.5zM1796.9 1371.5l13.2 -21.5h-26.5zM1799.2 1370.3l13.2 -21.5h-26.5zM1801.6 1370.4l13.2 -21.5h-26.5zM1803.9 1372.2l13.2 -21.5h-26.5zM1806.2 1372.6l13.2 -21.5h-26.5zM1808.6 1372.8l13.2 -21.5h-26.5zM1810.9 1371.8l13.2 -21.5h-26.5zM1813.2 1367.8l13.2 -21.5h-26.5zM1815.5 1368.5l13.2 -21.5h-26.5zM1817.9 1370.6l13.2 -21.5h-26.5zM1820.2 1372.3l13.2 -21.5h-26.5zM1822.5 1367.9l13.2 -21.5h-26.5zM1824.9 1369.9l13.2 -21.5h-26.5zM1827.2 1369.2l13.2 -21.5h-26.5zM1829.5 1369.1l13.2 -21.5h-26.5zM1831.8 1368.3l13.2 -21.5h-26.5zM1834.2 1368.2l13.2 -21.5h-26.5zM1836.5 1367.9l13.2 -21.5h-26.5zM1838.8 1367.2l13.2 -21.5h-26.5zM1841.2 1369.3l13.2 -21.5h-26.5zM1843.5 1368.6l13.2 -21.5h-26.5zM1845.8 1369.9l13.2 -21.5h-26.5zM1848.1 1369.4l13.2 -21.5h-26.5zM1850.5 1370.8l13.2 -21.5h-26.5zM1852.8 1367.6l13.2 -21.5h-26.5zM1855.1 1370.2l13.2 -21.5h-26.5zM1857.5 1367.6l13.2 -21.5h-26.5zM1859.8 1368.9l13.2 -21.5h-26.5zM1862.1 1369.5l13.2 -21.5h-26.5zM1864.5 1367.3l13.2 -21.5h-26.5zM1866.8 1367.4l13.2 -21.5h-26.5zM1869.1 1368.2l13.2 -21.5h-26.5zM1871.4 1365.4l13.2 -21.5h-26.5zM1873.8 1367.4l13.2 -21.5h-26.5zM1876.1 1365l13.2 -21.5h-26.5zM1878.4 1365.5l13.2 -21.5h-26.5zM1880.8 1367.4l13.2 -21.5h-26.5zM1883.1 1369l13.2 -21.5h-26.5zM1885.4 1369l13.2 -21.5h-26.5zM1887.7 1365.1l13.2 -21.5h-26.5zM1890.1 1364.4l13.2 -21.5h-26.5zM1892.4 1366.1l13.2 -21.5h-26.5zM1894.7 1365.6l13.2 -21.5h-26.5zM1897.1 1365.1l13.2 -21.5h-26.5zM1899.4 1366.9l13.2 -21.5h-26.5zM1901.7 1366.5l13.2 -21.5h-26.5zM1904 1365.7l13.2 -21.5h-26.5zM1906.4 1365.9l13.2 -21.5h-26.5zM1908.7 1365.6l13.2 -21.5h-26.5zM1911 1366l13.2 -21.5h-26.5zM1913.4 1367.2l13.2 -21.5h-26.5zM1915.7 1367.2l13.2 -21.5h-26.5zM1918 1367.3l13.2 -21.5h-26.5zM1920.3 1366.6l13.2 -21.5h-26.5zM1922.7 1362.7l13.2 -21.5h-26.5zM1925 1364.4l13.2 -21.5h-26.5zM1927.3 1365.9l13.2 -21.5h-26.5zM1929.7 1363.4l13.2 -21.5h-26.5zM1932 1364.9l13.2 -21.5h-26.5zM1934.3 1362.1l13.2 -21.5h-26.5zM1936.7 1362.7l13.2 -21.5h-26.5zM1939 1363.6l13.2 -21.5h-26.5zM1941.3 1361.9l13.2 -21.5h-26.5zM1943.6 1363.6l13.2 -21.5h-26.5zM1946 1362.6l13.2 -21.5h-26.5zM1948.3 1365.8l13.2 -21.5h-26.5zM1950.6 1363l13.2 -21.5h-26.5zM1953 1363.3l13.2 -21.5h-26.5zM1955.3 1365.3l13.2 -21.5h-26.5zM1957.6 1364.1l13.2 -21.5h-26.5zM1959.9 1361.5l13.2 -21.5h-26.5zM1962.3 1362.3l13.2 -21.5h-26.5zM1964.6 1364.3l13.2 -21.5h-26.5zM1966.9 1362.2l13.2 -21.5h-26.5zM1969.3 1362.4l13.2 -21.5h-26.5zM1971.6 1364.2l13.2 -21.5h-26.5zM1973.9 1363.5l13.2 -21.5h-26.5zM1976.2 1362.4l13.2 -21.5h-26.5zM1978.6 1363.8l13.2 -21.5h-26.5zM1980.9 1364.1l13.2 -21.5h-26.5zM1983.2 1361l13.2 -21.5h-26.5zM1985.6 1362.1l13.2 -21.5h-26.5zM1987.9 1362.1l13.2 -21.5h-26.5zM1990.2 1364.8l13.2 -21.5h-26.5zM1992.5 1360.5l13.2 -21.5h-26.5zM1994.9 1361.9l13.2 -21.5h-26.5zM1997.2 1361l13.2 -21.5h-26.5zM1999.5 1363.3l13.2 -21.5h-26.5zM2001.9 1363.8l13.2 -21.5h-26.5zM2004.2 1359.9l13.2 -21.5h-26.5zM2006.5 1363.8l13.2 -21.5h-26.5zM2008.9 1362.8l13.2 -21.5h-26.5zM2011.2 1360.3l13.2 -21.5h-26.5zM2013.5 1363.6l13.2 -21.5h-26.5zM2015.8 1360.4l13.2 -21.5h-26.5zM2018.2 1362.7l13.2 -21.5h-26.5zM2020.5 1359l13.2 -21.5h-26.5zM2022.8 1360.7l13.2 -21.5h-26.5zM2025.2 1360.7l13.2 -21.5h-26.5zM2027.5 1362.4l13.2 -21.5h-26.5zM2029.8 1361.9l13.2 -21.5h-26.5zM2032.1 1360.2l13.2 -21.5h-26.5zM2034.5 1357.5l13.2 -21.5h-26.5zM2036.8 1359.2l13.2 -21.5h-26.5zM2039.1 1358.7l13.2 -21.5h-26.5zM2041.5 1361.5l13.2 -21.5h-26.5zM2043.8 1359.7l13.2 -21.5h-26.5zM2046.1 1358.1l13.2 -21.5h-26.5zM2048.4 1357.7l13.2 -21.5h-26.5zM2050.8 1359.5l13.2 -21.5h-26.5zM2053.1 1355.9l13.2 -21.5h-26.5zM2055.4 1359.3l13.2 -21.5h-26.5zM2057.8 1358.3l13.2 -21.5h-26.5zM2060.1 1356.9l13.2 -21.5h-26.5zM2062.4 1358.1l13.2 -21.5h-26.5zM2064.7 1356.7l13.2 -21.5h-26.5zM2067.1 1355.6l13.2 -21.5h-26.5zM2069.4 1357.1l13.2 -21.5h-26.5zM2071.7 1355.4l13.2 -21.5h-26.5zM2074.1 1355.7l13.2 -21.5h-26.5zM2076.4 1357.6l13.2 -21.5h-26.5zM2078.7 1359.7l13.2 -21.5h-26.5zM2081 1356.7l13.2 -21.5h-26.5zM2083.4 1358.4l13.2 -21.5h-26.5zM2085.7 1360.9l13.2 -21.5h-26.5zM2088 1360.3l13.2 -21.5h-26.5zM2090.4 1360.8l13.2 -21.5h-26.5zM2092.7 1359.8l13.2 -21.5h-26.5zM2095 1359.5l13.2 -21.5h-26.5zM2097.4 1359.6l13.2 -21.5h-26.5zM2099.7 1359.8l13.2 -21.5h-26.5zM2102 1359.3l13.2 -21.5h-26.5zM2104.3 1358.9l13.2 -21.5h-26.5zM2106.7 1358.5l13.2 -21.5h-26.5zM2109 1357.8l13.2 -21.5h-26.5zM2111.3 1359.5l13.2 -21.5h-26.5zM2113.7 1361.6l13.2 -21.5h-26.5zM2116 1360.7l13.2 -21.5h-26.5zM2118.3 1358.9l13.2 -21.5h-26.5zM2120.6 1362.3l13.2 -21.5h-26.5zM2123 1358.6l13.2 -21.5h-26.5zM2125.3 1363.2l13.2 -21.5h-26.5z"/>
</g>
<g stroke="#1a1a1a" stroke-width="6" fill="none" stroke-linecap="butt">
<path d="M262.1 26H2125.3V1555.5H262.1Z"/>
<path d="M229.1 1555.5H262.1M244.1 1453.5H262.1M229.1 1351.6H262.1M244.1 1249.6H262.1M229.1 1147.6H262.1M244.1 1045.7H262.1M229.1 943.7H262.1M244.1 841.7H262.1M229.1 739.8H262.1M244.1 637.8H262.1M229.1 535.9H262.1M244.1 433.9H262.1M229.1 331.9H262.1M244.1 230H262.1M229.1 128H262.1M244.1 26H262.1M262.1 1555.5V1588.5M339.7 1555.5V1573M417.4 1555.5V1573M495 1555.5V1588.5M572.6 1555.5V1573M650.3 1555.5V1573M727.9 1555.5V1588.5M805.5 1555.5V1573M883.2 1555.5V1573M960.8 1555.5V1588.5M1038.4 1555.5V1573M1116.1 1555.5V1573M1193.7 1555.5V1588.5M1271.3 1555.5V1573M1349 1555.5V1573M1426.6 1555.5V1588.5M1504.2 1555.5V1573M1581.9 1555.5V1573M1659.5 1555.5V1588.5M1737.1 1555.5V1573M1814.8 1555.5V1573M1892.4 1555.5V1588.5M1970 1555.5V1573M2047.7 1555.5V1573M2125.3 1555.5V1588.5"/>
</g>
<g font-family="'Liberation Serif', 'Times New Roman', serif" font-size="71" fill="#000">
<text x="207" y="1573.8" text-anchor="end" letter-spacing="-1.8">0.0</text>
<text x="207" y="1369.9" text-anchor="end" letter-spacing="-1.8">0.1</text>
<text x="207" y="1165.9" text-anchor="end" letter-spacing="-1.8">0.2</text>
<text x="207" y="962" text-anchor="end" letter-spacing="-1.8">0.3</text>
<text x="207" y="758.1" text-anchor="end" letter-spacing="-1.8">0.4</text>
<text x="207" y="554.1" text-anchor="end" letter-spacing="-1.8">0.5</text>
<text x="207" y="350.2" text-anchor="end" letter-spacing="-1.8">0.6</text>
<text x="207" y="146.3" text-anchor="end" letter-spacing="-1.8">0.7</text>
<text x="262.1" y="1661.5" text-anchor="middle">200</text>
<text x="495" y="1661.5" text-anchor="middle">250</text>
<text x="727.9" y="1661.5" text-anchor="middle">300</text>
<text x="960.8" y="1661.5" text-anchor="middle">350</text>
<text x="1193.7" y="1661.5" text-anchor="middle">400</text>
<text x="1426.6" y="1661.5" text-anchor="middle">450</text>
<text x="1659.5" y="1661.5" text-anchor="middle">500</text>
<text x="1892.4" y="1661.5" text-anchor="middle">550</text>
<text x="2125.3" y="1661.5" text-anchor="middle">600</text>
</g>
<text font-family="'Liberation Serif', 'Times New Roman', serif" font-size="89.2" fill="#000" x="1211.4" y="1753.2" text-anchor="middle">wavelength (nm)</text>
<text font-family="'Liberation Serif', 'Times New Roman', serif" font-size="90.4" fill="#000" transform="translate(99.5 798) rotate(-90)" text-anchor="middle">Absorbance (a.u)</text>
<rect x="1250.4" y="54.6" width="577.2" height="608.9" fill="#fff" stroke="#666" stroke-width="3"/>
<path stroke="#b8b8b8" stroke-width="3" d="M1265.5 132.4H1354.3M1453.5 132.4H1542"/>
<path fill="#000" transform="translate(1403.5 133.7) scale(1.03) translate(-1403.5 -132.4)" d="M1394.2 123.2h18.5v18.5h-18.5z"/>
<text font-family="'Liberation Serif', 'Times New Roman', serif" font-size="127" fill="#000" x="1573.2" y="176.5">1 h</text>
<path stroke="#ffa8a8" stroke-width="3" d="M1265.5 285.2H1354.3M1453.5 285.2H1542"/>
<path fill="#f00" transform="translate(1403.5 286.8) scale(1.12) translate(-1403.5 -285.2)" d="M1393 285.2a10.5 10.5 0 1 0 21 0a10.5 10.5 0 1 0 -21 0z"/>
<text font-family="'Liberation Serif', 'Times New Roman', serif" font-size="127" fill="#000" x="1573.2" y="329.3">2 h</text>
<path stroke="#a8a8ff" stroke-width="3" d="M1265.5 438.0H1354.3M1453.5 438.0H1542"/>
<path fill="#00f" transform="translate(1403.5 436.5) scale(1.0) translate(-1403.5 -438)" d="M1403.5 427.2l13.2 21.5h-26.5z"/>
<text font-family="'Liberation Serif', 'Times New Roman', serif" font-size="127" fill="#000" x="1573.2" y="482.1">3 h</text>
<path stroke="#9ccccc" stroke-width="3" d="M1265.5 590.8H1354.3M1453.5 590.8H1542"/>
<path fill="#008080" transform="translate(1403.5 595.8) scale(1.0) translate(-1403.5 -590.8)" d="M1403.5 601.5l13.2 -21.5h-26.5z"/>
<text font-family="'Liberation Serif', 'Times New Roman', serif" font-size="127" fill="#000" x="1573.2" y="635.0">4 h</text>
</svg>
</body></html>
